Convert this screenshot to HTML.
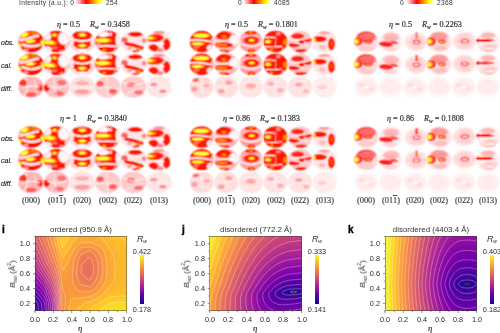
<!DOCTYPE html><html><head><meta charset="utf-8"><style>
html,body{margin:0;padding:0;background:#fff;width:500px;height:333px;overflow:hidden;position:relative}
.t{position:absolute;white-space:nowrap;line-height:normal;will-change:transform}
.s{font-family:"Liberation Sans", sans-serif}
.r{font-family:"Liberation Serif", serif;-webkit-text-stroke:0.2px currentColor}
</style></head><body>
<div style="position:absolute;left:76.2px;top:0;width:26.4px;height:4.3px;background:linear-gradient(to right, #fff0f0 0%, #ff8080 18%, #ff0000 38%, #ff6000 55%, #ffc000 72%, #ffff00 86%, #ffffc0 100%);filter:blur(0.5px)"></div>
<div style="position:absolute;left:243.8px;top:0;width:26.4px;height:4.3px;background:linear-gradient(to right, #fff0f0 0%, #ff8080 18%, #ff0000 38%, #ff6000 55%, #ffc000 72%, #ffff00 86%, #ffffc0 100%);filter:blur(0.5px)"></div>
<div style="position:absolute;left:406.8px;top:0;width:26.4px;height:4.3px;background:linear-gradient(to right, #fff0f0 0%, #ff8080 18%, #ff0000 38%, #ff6000 55%, #ffc000 72%, #ffff00 86%, #ffffc0 100%);filter:blur(0.5px)"></div>
<div class="t s" style="left:18.7px;top:-1.2px;font-size:6.6px;color:#333;letter-spacing:0.32px">Intensity (a.u.): 0</div>
<div class="t s" style="left:106.2px;top:-1.2px;font-size:6.6px;color:#333;letter-spacing:0.32px">254</div>
<div class="t s" style="left:237.6px;top:-1.2px;font-size:6.6px;color:#333;">0</div>
<div class="t s" style="left:274.4px;top:-1.2px;font-size:6.6px;color:#333;letter-spacing:0.32px">4085</div>
<div class="t s" style="left:400.0px;top:-1.2px;font-size:6.6px;color:#333;">0</div>
<div class="t s" style="left:437.4px;top:-1.2px;font-size:6.6px;color:#333;letter-spacing:0.32px">2368</div>
<svg width="500" height="333" style="position:absolute;left:0;top:0"><defs><clipPath id="dclip"><ellipse cx="50" cy="50" rx="50" ry="50"/></clipPath><radialGradient id="c0"><stop offset="0" stop-color="#ff8c00"/><stop offset="0.72" stop-color="#ff8c00"/><stop offset="1" stop-color="#ff8c00" stop-opacity="0"/></radialGradient><radialGradient id="c1"><stop offset="0" stop-color="#ffff40"/><stop offset="0.72" stop-color="#ffff40"/><stop offset="1" stop-color="#ffff40" stop-opacity="0"/></radialGradient><radialGradient id="c2"><stop offset="0" stop-color="#ffd0d0"/><stop offset="0.72" stop-color="#ffd0d0"/><stop offset="1" stop-color="#ffd0d0" stop-opacity="0"/></radialGradient><radialGradient id="c3"><stop offset="0" stop-color="#fff6f6"/><stop offset="0.72" stop-color="#fff6f6"/><stop offset="1" stop-color="#fff6f6" stop-opacity="0"/></radialGradient><radialGradient id="c4"><stop offset="0" stop-color="#ff9090"/><stop offset="0.72" stop-color="#ff9090"/><stop offset="1" stop-color="#ff9090" stop-opacity="0"/></radialGradient><radialGradient id="c5"><stop offset="0" stop-color="#ff8080"/><stop offset="0.72" stop-color="#ff8080"/><stop offset="1" stop-color="#ff8080" stop-opacity="0"/></radialGradient><radialGradient id="c6"><stop offset="0" stop-color="#ffdede"/><stop offset="0.72" stop-color="#ffdede"/><stop offset="1" stop-color="#ffdede" stop-opacity="0"/></radialGradient><radialGradient id="c7"><stop offset="0" stop-color="#ffe0e0"/><stop offset="0.72" stop-color="#ffe0e0"/><stop offset="1" stop-color="#ffe0e0" stop-opacity="0"/></radialGradient><radialGradient id="c8"><stop offset="0" stop-color="#ffc0c0"/><stop offset="0.72" stop-color="#ffc0c0"/><stop offset="1" stop-color="#ffc0c0" stop-opacity="0"/></radialGradient><radialGradient id="c9"><stop offset="0" stop-color="#ff1400"/><stop offset="0.72" stop-color="#ff1400"/><stop offset="1" stop-color="#ff1400" stop-opacity="0"/></radialGradient><radialGradient id="c10"><stop offset="0" stop-color="#ff6060"/><stop offset="0.72" stop-color="#ff6060"/><stop offset="1" stop-color="#ff6060" stop-opacity="0"/></radialGradient><radialGradient id="c11"><stop offset="0" stop-color="#ff7070"/><stop offset="0.72" stop-color="#ff7070"/><stop offset="1" stop-color="#ff7070" stop-opacity="0"/></radialGradient><radialGradient id="c12"><stop offset="0" stop-color="#ff5a00"/><stop offset="0.72" stop-color="#ff5a00"/><stop offset="1" stop-color="#ff5a00" stop-opacity="0"/></radialGradient><radialGradient id="c13"><stop offset="0" stop-color="#ffb0b0"/><stop offset="0.72" stop-color="#ffb0b0"/><stop offset="1" stop-color="#ffb0b0" stop-opacity="0"/></radialGradient><radialGradient id="c14"><stop offset="0" stop-color="#ff3030"/><stop offset="0.72" stop-color="#ff3030"/><stop offset="1" stop-color="#ff3030" stop-opacity="0"/></radialGradient><radialGradient id="c15"><stop offset="0" stop-color="#ff2a2a"/><stop offset="0.72" stop-color="#ff2a2a"/><stop offset="1" stop-color="#ff2a2a" stop-opacity="0"/></radialGradient><radialGradient id="c16"><stop offset="0" stop-color="#ffc4c4"/><stop offset="0.72" stop-color="#ffc4c4"/><stop offset="1" stop-color="#ffc4c4" stop-opacity="0"/></radialGradient><radialGradient id="c17"><stop offset="0" stop-color="#ffa0a0"/><stop offset="0.72" stop-color="#ffa0a0"/><stop offset="1" stop-color="#ffa0a0" stop-opacity="0"/></radialGradient><radialGradient id="c18"><stop offset="0" stop-color="#ff2020"/><stop offset="0.72" stop-color="#ff2020"/><stop offset="1" stop-color="#ff2020" stop-opacity="0"/></radialGradient><radialGradient id="c19"><stop offset="0" stop-color="#ff5050"/><stop offset="0.72" stop-color="#ff5050"/><stop offset="1" stop-color="#ff5050" stop-opacity="0"/></radialGradient><radialGradient id="c20"><stop offset="0" stop-color="#ff4040"/><stop offset="0.72" stop-color="#ff4040"/><stop offset="1" stop-color="#ff4040" stop-opacity="0"/></radialGradient><radialGradient id="c21"><stop offset="0" stop-color="#ff6a6a"/><stop offset="0.72" stop-color="#ff6a6a"/><stop offset="1" stop-color="#ff6a6a" stop-opacity="0"/></radialGradient><radialGradient id="c22"><stop offset="0" stop-color="#ffb8b8"/><stop offset="0.72" stop-color="#ffb8b8"/><stop offset="1" stop-color="#ffb8b8" stop-opacity="0"/></radialGradient><radialGradient id="c23"><stop offset="0" stop-color="#ff5a5a"/><stop offset="0.72" stop-color="#ff5a5a"/><stop offset="1" stop-color="#ff5a5a" stop-opacity="0"/></radialGradient><radialGradient id="c24"><stop offset="0" stop-color="#ffc8c8"/><stop offset="0.72" stop-color="#ffc8c8"/><stop offset="1" stop-color="#ffc8c8" stop-opacity="0"/></radialGradient><radialGradient id="c25"><stop offset="0" stop-color="#ffa4a4"/><stop offset="0.72" stop-color="#ffa4a4"/><stop offset="1" stop-color="#ffa4a4" stop-opacity="0"/></radialGradient><radialGradient id="c26"><stop offset="0" stop-color="#ffd4d4"/><stop offset="0.72" stop-color="#ffd4d4"/><stop offset="1" stop-color="#ffd4d4" stop-opacity="0"/></radialGradient><radialGradient id="c27"><stop offset="0" stop-color="#ff9a9a"/><stop offset="0.72" stop-color="#ff9a9a"/><stop offset="1" stop-color="#ff9a9a" stop-opacity="0"/></radialGradient><radialGradient id="c28"><stop offset="0" stop-color="#ffa8a8"/><stop offset="0.72" stop-color="#ffa8a8"/><stop offset="1" stop-color="#ffa8a8" stop-opacity="0"/></radialGradient><radialGradient id="c29"><stop offset="0" stop-color="#ffaaaa"/><stop offset="0.72" stop-color="#ffaaaa"/><stop offset="1" stop-color="#ffaaaa" stop-opacity="0"/></radialGradient><radialGradient id="c30"><stop offset="0" stop-color="#ffb4b4"/><stop offset="0.72" stop-color="#ffb4b4"/><stop offset="1" stop-color="#ffb4b4" stop-opacity="0"/></radialGradient><symbol id="g1c1" viewBox="0 0 100 100" preserveAspectRatio="none"><g clip-path="url(#dclip)"><rect x="0" y="0" width="100" height="100" fill="#ff1000"/><ellipse cx="26" cy="18" rx="24.5" ry="16.5" fill="url(#c0)" transform="rotate(-25 26 18)"/><ellipse cx="24" cy="18" rx="16.5" ry="10.5" fill="url(#c1)" transform="rotate(-25 24 18)"/><ellipse cx="65" cy="10" rx="22.5" ry="10.5" fill="url(#c0)" opacity="0.8"/><ellipse cx="8" cy="40" rx="12.5" ry="12.5" fill="url(#c2)" opacity="0.9"/><path d="M 14 42 Q 35 38 50 32 T 76 24" fill="none" stroke="#ffe4e4" stroke-linecap="round" stroke-width="13" stroke-opacity="1"/><ellipse cx="48" cy="48" rx="26.5" ry="11.5" fill="url(#c0)" transform="rotate(-5 48 48)"/><ellipse cx="47" cy="48" rx="19.5" ry="8.5" fill="url(#c1)" transform="rotate(-5 47 48)"/><path d="M 18 64 Q 50 80 84 65" fill="none" stroke="#ffe4e4" stroke-linecap="round" stroke-width="13" stroke-opacity="1"/><ellipse cx="5" cy="70" rx="12.5" ry="16.5" fill="url(#c0)"/><ellipse cx="3" cy="70" rx="8.5" ry="11.5" fill="url(#c1)"/><ellipse cx="95" cy="56" rx="11.5" ry="20.5" fill="url(#c0)"/><ellipse cx="97" cy="56" rx="8.5" ry="14.5" fill="url(#c1)"/><ellipse cx="30" cy="88" rx="12.5" ry="7.5" fill="url(#c3)" opacity="0.6"/></g></symbol><symbol id="g1c2" viewBox="0 0 100 100" preserveAspectRatio="none"><g clip-path="url(#dclip)"><rect x="0" y="0" width="100" height="100" fill="#ff1400"/><ellipse cx="80" cy="34" rx="28.5" ry="36.5" fill="url(#c3)"/><ellipse cx="12" cy="26" rx="20.5" ry="24.5" fill="url(#c3)" opacity="0.95"/><ellipse cx="42" cy="20" rx="14.5" ry="10.5" fill="url(#c0)"/><ellipse cx="42" cy="19" rx="8.5" ry="6.5" fill="url(#c1)"/><ellipse cx="24" cy="55" rx="32.5" ry="14.5" fill="url(#c0)" transform="rotate(6 24 55)"/><ellipse cx="20" cy="54" rx="26.5" ry="9.5" fill="url(#c1)" transform="rotate(6 20 54)"/><ellipse cx="14" cy="86" rx="20.5" ry="16.5" fill="url(#c3)" opacity="0.9"/><ellipse cx="94" cy="76" rx="12.5" ry="18.5" fill="url(#c3)" opacity="0.85"/><ellipse cx="40" cy="79" rx="16.5" ry="6.5" fill="url(#c4)" opacity="0.8"/><ellipse cx="72" cy="94" rx="14.5" ry="8.5" fill="url(#c5)"/></g></symbol><symbol id="g1c3" viewBox="0 0 100 100" preserveAspectRatio="none"><g clip-path="url(#dclip)"><rect x="0" y="0" width="100" height="100" fill="#ff1400"/><ellipse cx="2" cy="50" rx="18.5" ry="42.5" fill="url(#c6)"/><ellipse cx="98" cy="50" rx="18.5" ry="42.5" fill="url(#c6)"/><ellipse cx="50" cy="1" rx="36.5" ry="8.5" fill="url(#c4)"/><ellipse cx="50" cy="20" rx="22.5" ry="10.5" fill="url(#c0)"/><ellipse cx="50" cy="19" rx="14.5" ry="7.5" fill="url(#c1)"/><path d="M 8 37 Q 50 58 92 37" fill="none" stroke="#fff6f6" stroke-linecap="round" stroke-width="9" stroke-opacity="1"/><ellipse cx="50" cy="69" rx="22.5" ry="10.5" fill="url(#c0)"/><ellipse cx="50" cy="69" rx="15.5" ry="7.5" fill="url(#c1)"/><ellipse cx="50" cy="93" rx="42.5" ry="11.5" fill="url(#c3)"/><ellipse cx="14" cy="82" rx="16.5" ry="12.5" fill="url(#c7)"/><ellipse cx="86" cy="82" rx="16.5" ry="12.5" fill="url(#c7)"/></g></symbol><symbol id="g1c4" viewBox="0 0 100 100" preserveAspectRatio="none"><g clip-path="url(#dclip)"><rect x="0" y="0" width="100" height="100" fill="#ff1400"/><ellipse cx="32" cy="16" rx="28.5" ry="14.5" fill="url(#c3)"/><ellipse cx="91" cy="42" rx="12.5" ry="34.5" fill="url(#c3)"/><ellipse cx="60" cy="16" rx="7.5" ry="10.5" fill="url(#c8)"/><path d="M 3 72 Q 50 66 97 74" fill="none" stroke="#fff6f6" stroke-linecap="round" stroke-width="8" stroke-opacity="1"/><ellipse cx="32" cy="45" rx="40.5" ry="13.5" fill="url(#c0)"/><ellipse cx="28" cy="44" rx="32.5" ry="9.5" fill="url(#c1)"/><ellipse cx="12" cy="62" rx="12.5" ry="6.5" fill="url(#c4)"/><ellipse cx="36" cy="90" rx="9.5" ry="7.5" fill="url(#c0)"/><ellipse cx="86" cy="90" rx="14.5" ry="12.5" fill="url(#c4)"/><ellipse cx="8" cy="88" rx="10.5" ry="12.5" fill="url(#c3)" opacity="0.8"/></g></symbol><symbol id="g1c5" viewBox="0 0 100 100" preserveAspectRatio="none"><g clip-path="url(#dclip)"><rect x="0" y="0" width="100" height="100" fill="#ffe6e6"/><ellipse cx="58" cy="16" rx="32.5" ry="13.5" fill="url(#c9)"/><ellipse cx="15" cy="42" rx="14.5" ry="14.5" fill="url(#c10)"/><path d="M 22 60 Q 50 64 84 80" fill="none" stroke="#ff1400" stroke-linecap="round" stroke-width="16" stroke-opacity="1"/><ellipse cx="70" cy="84" rx="10.5" ry="8.5" fill="url(#c0)"/><ellipse cx="62" cy="95" rx="18.5" ry="8.5" fill="url(#c9)" opacity="0.8"/><ellipse cx="92" cy="45" rx="10.5" ry="12.5" fill="url(#c5)"/><ellipse cx="35" cy="80" rx="12.5" ry="8.5" fill="url(#c4)" opacity="0.8"/></g></symbol><symbol id="g1c6" viewBox="0 0 100 100" preserveAspectRatio="none"><g clip-path="url(#dclip)"><rect x="0" y="0" width="100" height="100" fill="#ffe6e6"/><ellipse cx="35" cy="34" rx="38.5" ry="20.5" fill="url(#c9)" transform="rotate(-5 35 34)"/><ellipse cx="20" cy="34" rx="22.5" ry="9.5" fill="url(#c0)" transform="rotate(-5 20 34)"/><ellipse cx="12" cy="33" rx="16.5" ry="7.5" fill="url(#c1)"/><ellipse cx="50" cy="8" rx="26.5" ry="9.5" fill="url(#c5)" opacity="0.8"/><ellipse cx="80" cy="64" rx="16.5" ry="32.5" fill="url(#c9)"/><path d="M 30 56 L 68 60" fill="none" stroke="#fff6f6" stroke-linecap="round" stroke-width="7" stroke-opacity="1"/><ellipse cx="28" cy="80" rx="22.5" ry="20.5" fill="url(#c9)"/><ellipse cx="55" cy="90" rx="14.5" ry="10.5" fill="url(#c11)" opacity="0.8"/></g></symbol><symbol id="g2c1" viewBox="0 0 100 100" preserveAspectRatio="none"><g clip-path="url(#dclip)"><rect x="0" y="0" width="100" height="100" fill="#ff1800"/><ellipse cx="50" cy="22" rx="42.5" ry="13.5" fill="url(#c0)"/><ellipse cx="48" cy="22" rx="36.5" ry="10.5" fill="url(#c1)"/><path d="M 2 44 Q 40 38 86 50" fill="none" stroke="#fff6f6" stroke-linecap="round" stroke-width="8" stroke-opacity="1"/><ellipse cx="35" cy="60" rx="34.5" ry="10.5" fill="url(#c0)"/><ellipse cx="32" cy="60" rx="26.5" ry="7.5" fill="url(#c1)"/><ellipse cx="28" cy="76" rx="16.5" ry="6.5" fill="url(#c4)" opacity="0.8"/><ellipse cx="22" cy="89" rx="11.5" ry="7.5" fill="url(#c0)"/><ellipse cx="86" cy="80" rx="18.5" ry="18.5" fill="url(#c3)" opacity="0.9"/><ellipse cx="95" cy="48" rx="8.5" ry="18.5" fill="url(#c3)" opacity="0.7"/></g></symbol><symbol id="g2c2" viewBox="0 0 100 100" preserveAspectRatio="none"><g clip-path="url(#dclip)"><rect x="0" y="0" width="100" height="100" fill="#ffb0b0"/><ellipse cx="38" cy="22" rx="38.5" ry="22.5" fill="url(#c9)"/><ellipse cx="40" cy="28" rx="12.5" ry="8.5" fill="url(#c0)"/><ellipse cx="80" cy="45" rx="22.5" ry="28.5" fill="url(#c3)"/><path d="M 2 47 L 55 47" fill="none" stroke="#fff6f6" stroke-linecap="round" stroke-width="6" stroke-opacity="1"/><ellipse cx="40" cy="66" rx="44.5" ry="14.5" fill="url(#c9)"/><ellipse cx="30" cy="66" rx="28.5" ry="7.5" fill="url(#c0)"/><path d="M 10 82 L 68 80" fill="none" stroke="#fff6f6" stroke-linecap="round" stroke-width="4" stroke-opacity="0.8"/><ellipse cx="40" cy="95" rx="26.5" ry="10.5" fill="url(#c9)"/><ellipse cx="38" cy="94" rx="10.5" ry="6.5" fill="url(#c0)"/></g></symbol><symbol id="g2c3" viewBox="0 0 100 100" preserveAspectRatio="none"><g clip-path="url(#dclip)"><rect x="0" y="0" width="100" height="100" fill="#ff9c9c"/><ellipse cx="50" cy="9" rx="28.5" ry="10.5" fill="url(#c9)"/><ellipse cx="50" cy="8" rx="10.5" ry="6.5" fill="url(#c0)"/><path d="M 12 30 Q 50 18 88 30" fill="none" stroke="#ffd0d0" stroke-linecap="round" stroke-width="6" stroke-opacity="1"/><ellipse cx="52" cy="44" rx="36.5" ry="21.5" fill="url(#c9)"/><ellipse cx="53" cy="44" rx="17.5" ry="9.5" fill="url(#c0)"/><ellipse cx="53" cy="44" rx="11.5" ry="6.5" fill="url(#c1)"/><path d="M 10 62 Q 50 82 90 62" fill="none" stroke="#fff6f6" stroke-linecap="round" stroke-width="7" stroke-opacity="1"/><ellipse cx="52" cy="93" rx="18.5" ry="11.5" fill="url(#c9)"/><ellipse cx="52" cy="94" rx="8.5" ry="6.5" fill="url(#c0)"/><ellipse cx="4" cy="50" rx="8.5" ry="27.5" fill="url(#c3)" opacity="0.6"/><ellipse cx="96" cy="50" rx="8.5" ry="27.5" fill="url(#c3)" opacity="0.6"/></g></symbol><symbol id="g2c4" viewBox="0 0 100 100" preserveAspectRatio="none"><g clip-path="url(#dclip)"><rect x="0" y="0" width="100" height="100" fill="#ff1800"/><ellipse cx="62" cy="14" rx="11.5" ry="8.5" fill="url(#c4)"/><path d="M 4 32 Q 25 27 46 32" fill="none" stroke="#fff6f6" stroke-linecap="round" stroke-width="6" stroke-opacity="1"/><ellipse cx="20" cy="50" rx="17.5" ry="11.5" fill="url(#c0)"/><ellipse cx="18" cy="50" rx="11.5" ry="7.5" fill="url(#c1)"/><path d="M 52 25 L 50 75" fill="none" stroke="#fff6f6" stroke-linecap="round" stroke-width="3.5" stroke-opacity="0.7"/><ellipse cx="92" cy="52" rx="12.5" ry="15.5" fill="url(#c0)"/><path d="M 10 73 Q 40 78 76 72" fill="none" stroke="#fff6f6" stroke-linecap="round" stroke-width="5" stroke-opacity="1"/><ellipse cx="34" cy="89" rx="9.5" ry="6.5" fill="url(#c0)"/><ellipse cx="86" cy="88" rx="12.5" ry="11.5" fill="url(#c3)" opacity="0.6"/></g></symbol><symbol id="g2c5" viewBox="0 0 100 100" preserveAspectRatio="none"><g clip-path="url(#dclip)"><rect x="0" y="0" width="100" height="100" fill="#ffc8c8"/><ellipse cx="40" cy="25" rx="30.5" ry="15.5" fill="url(#c9)" opacity="0.9"/><ellipse cx="56" cy="50" rx="13.5" ry="13.5" fill="url(#c9)"/><ellipse cx="25" cy="66" rx="26.5" ry="12.5" fill="url(#c9)"/><ellipse cx="82" cy="42" rx="18.5" ry="13.5" fill="url(#c9)" opacity="0.9"/><ellipse cx="55" cy="93" rx="30.5" ry="10.5" fill="url(#c9)" opacity="0.9"/><path d="M 10 40 Q 40 48 92 32" fill="none" stroke="#fff6f6" stroke-linecap="round" stroke-width="6" stroke-opacity="1"/><path d="M 18 55 Q 50 60 88 72" fill="none" stroke="#fff6f6" stroke-linecap="round" stroke-width="4" stroke-opacity="1"/></g></symbol><symbol id="g2c6" viewBox="0 0 100 100" preserveAspectRatio="none"><g clip-path="url(#dclip)"><rect x="0" y="0" width="100" height="100" fill="#ffe4e4"/><ellipse cx="28" cy="38" rx="34.5" ry="15.5" fill="url(#c9)"/><ellipse cx="6" cy="40" rx="10.5" ry="10.5" fill="url(#c0)"/><ellipse cx="3" cy="40" rx="7.5" ry="8.5" fill="url(#c1)"/><ellipse cx="78" cy="62" rx="16.5" ry="32.5" fill="url(#c9)"/><ellipse cx="78" cy="60" rx="7.5" ry="16.5" fill="url(#c12)" opacity="0.8"/><ellipse cx="48" cy="10" rx="26.5" ry="8.5" fill="url(#c4)" opacity="0.8"/><ellipse cx="40" cy="75" rx="16.5" ry="12.5" fill="url(#c13)" opacity="0.8"/></g></symbol><symbol id="g3c1" viewBox="0 0 100 100" preserveAspectRatio="none"><g clip-path="url(#dclip)"><rect x="0" y="0" width="100" height="100" fill="#ffdede"/><ellipse cx="50" cy="28" rx="46.5" ry="28.5" fill="url(#c14)" opacity="0.9"/><ellipse cx="55" cy="52" rx="22" ry="16" fill="none" stroke="#ffd0d0" stroke-width="3" stroke-opacity="1"/><ellipse cx="55" cy="52" rx="32" ry="26" fill="none" stroke="#ffc8c8" stroke-width="3" stroke-opacity="1"/><ellipse cx="55" cy="52" rx="42" ry="36" fill="none" stroke="#ffd0d0" stroke-width="3" stroke-opacity="1"/><ellipse cx="14" cy="50" rx="24.5" ry="20.5" fill="url(#c15)"/><ellipse cx="9" cy="50" rx="17.5" ry="14.5" fill="url(#c0)"/><ellipse cx="6" cy="50" rx="12.5" ry="11.5" fill="url(#c1)"/><ellipse cx="58" cy="50" rx="16" ry="7" fill="none" stroke="#ff1400" stroke-width="5" stroke-opacity="1"/><ellipse cx="56" cy="50" rx="8.5" ry="5.5" fill="url(#c0)"/><ellipse cx="50" cy="82" rx="36.5" ry="15.5" fill="url(#c16)" opacity="0.7"/></g></symbol><symbol id="g3c2" viewBox="0 0 100 100" preserveAspectRatio="none"><g clip-path="url(#dclip)"><rect x="0" y="0" width="100" height="100" fill="#fff0f0"/><ellipse cx="52" cy="30" rx="38.5" ry="24.5" fill="url(#c17)" opacity="0.8"/><ellipse cx="50" cy="40" rx="26" ry="20" fill="none" stroke="#ffdcdc" stroke-width="3" stroke-opacity="1"/><ellipse cx="50" cy="40" rx="38" ry="30" fill="none" stroke="#ffe0e0" stroke-width="3" stroke-opacity="1"/><ellipse cx="30" cy="62" rx="34.5" ry="14.5" fill="url(#c18)" transform="rotate(5 30 62)"/><ellipse cx="65" cy="55" rx="20.5" ry="8.5" fill="url(#c19)" transform="rotate(10 65 55)"/><ellipse cx="50" cy="85" rx="32.5" ry="12.5" fill="url(#c2)" opacity="0.8"/></g></symbol><symbol id="g3c3" viewBox="0 0 100 100" preserveAspectRatio="none"><g clip-path="url(#dclip)"><rect x="0" y="0" width="100" height="100" fill="#fff8f8"/><ellipse cx="57" cy="52" rx="22" ry="12" fill="none" stroke="#ff7a7a" stroke-width="3" stroke-opacity="1"/><ellipse cx="57" cy="52" rx="30" ry="20" fill="none" stroke="#ff8a8a" stroke-width="3" stroke-opacity="1"/><ellipse cx="57" cy="52" rx="38" ry="28" fill="none" stroke="#ff9c9c" stroke-width="3" stroke-opacity="1"/><ellipse cx="57" cy="52" rx="46" ry="36" fill="none" stroke="#ffb4b4" stroke-width="3" stroke-opacity="1"/><ellipse cx="57" cy="52" rx="14" ry="6.5" fill="none" stroke="#ff1a1a" stroke-width="5" stroke-opacity="1"/><ellipse cx="57" cy="12" rx="7.5" ry="5.5" fill="url(#c14)"/><ellipse cx="57" cy="22" rx="7.5" ry="5" fill="url(#c20)"/><ellipse cx="57" cy="31" rx="9.5" ry="5.5" fill="url(#c20)"/></g></symbol><symbol id="g3c4" viewBox="0 0 100 100" preserveAspectRatio="none"><g clip-path="url(#dclip)"><rect x="0" y="0" width="100" height="100" fill="#ffe6e6"/><ellipse cx="50" cy="26" rx="40.5" ry="22.5" fill="url(#c21)" opacity="0.8"/><ellipse cx="55" cy="50" rx="24" ry="16" fill="none" stroke="#ffd0d0" stroke-width="3" stroke-opacity="1"/><ellipse cx="55" cy="50" rx="34" ry="26" fill="none" stroke="#ffc4c4" stroke-width="3" stroke-opacity="1"/><ellipse cx="55" cy="50" rx="44" ry="36" fill="none" stroke="#ffd0d0" stroke-width="3" stroke-opacity="1"/><ellipse cx="13" cy="50" rx="26.5" ry="22.5" fill="url(#c15)"/><ellipse cx="9" cy="50" rx="17.5" ry="15.5" fill="url(#c0)"/><ellipse cx="6" cy="50" rx="12.5" ry="11.5" fill="url(#c1)"/><ellipse cx="62" cy="50" rx="15" ry="7" fill="none" stroke="#ff1400" stroke-width="5" stroke-opacity="1"/><ellipse cx="63" cy="50" rx="8.5" ry="5.5" fill="url(#c0)"/><ellipse cx="55" cy="80" rx="32.5" ry="14.5" fill="url(#c13)" opacity="0.7"/></g></symbol><symbol id="g3c5" viewBox="0 0 100 100" preserveAspectRatio="none"><g clip-path="url(#dclip)"><rect x="0" y="0" width="100" height="100" fill="#fff6f6"/><ellipse cx="55" cy="48" rx="23" ry="13" fill="none" stroke="#ff7a7a" stroke-width="3" stroke-opacity="1"/><ellipse cx="55" cy="48" rx="31" ry="21" fill="none" stroke="#ff8c8c" stroke-width="3" stroke-opacity="1"/><ellipse cx="55" cy="48" rx="39" ry="29" fill="none" stroke="#ffa0a0" stroke-width="3" stroke-opacity="1"/><ellipse cx="55" cy="48" rx="47" ry="37" fill="none" stroke="#ffb8b8" stroke-width="3" stroke-opacity="1"/><ellipse cx="55" cy="48" rx="15" ry="6.5" fill="none" stroke="#ff1010" stroke-width="5" stroke-opacity="1"/></g></symbol><symbol id="g3c6" viewBox="0 0 100 100" preserveAspectRatio="none"><g clip-path="url(#dclip)"><rect x="0" y="0" width="100" height="100" fill="#fff0f0"/><ellipse cx="50" cy="22" rx="34.5" ry="16.5" fill="url(#c22)"/><ellipse cx="38" cy="44" rx="42.5" ry="8.5" fill="url(#c9)" opacity="0.95"/><ellipse cx="8" cy="44" rx="12.5" ry="9.5" fill="url(#c9)"/><ellipse cx="60" cy="82" rx="22" ry="9" fill="none" stroke="#ff8a8a" stroke-width="3" stroke-opacity="1"/><ellipse cx="60" cy="82" rx="32" ry="15" fill="none" stroke="#ffa0a0" stroke-width="3" stroke-opacity="1"/><ellipse cx="60" cy="82" rx="42" ry="21" fill="none" stroke="#ffb8b8" stroke-width="3" stroke-opacity="1"/></g></symbol><symbol id="d1" viewBox="0 0 100 100" preserveAspectRatio="none"><g clip-path="url(#dclip)"><rect x="0" y="0" width="100" height="100" fill="#ffb4b4"/><ellipse cx="20" cy="30" rx="20.5" ry="16.5" fill="url(#c9)" opacity="0.8"/><ellipse cx="85" cy="55" rx="12.5" ry="18.5" fill="url(#c9)"/><ellipse cx="50" cy="85" rx="24.5" ry="12.5" fill="url(#c23)"/><path d="M 15 55 Q 50 40 85 50" fill="none" stroke="#fff6f6" stroke-linecap="round" stroke-width="5" stroke-opacity="1"/><path d="M 30 10 Q 45 50 25 90" fill="none" stroke="#fff6f6" stroke-linecap="round" stroke-width="4" stroke-opacity="1"/><path d="M 60 15 Q 70 50 90 80" fill="none" stroke="#fff6f6" stroke-linecap="round" stroke-width="3" stroke-opacity="1"/></g></symbol><symbol id="d1b" viewBox="0 0 100 100" preserveAspectRatio="none"><g clip-path="url(#dclip)"><rect x="0" y="0" width="100" height="100" fill="#ffc0c0"/><ellipse cx="10" cy="55" rx="14.5" ry="18.5" fill="url(#c9)"/><ellipse cx="70" cy="30" rx="20.5" ry="14.5" fill="url(#c23)" opacity="0.8"/><ellipse cx="60" cy="80" rx="22.5" ry="12.5" fill="url(#c23)" opacity="0.8"/><path d="M 15 45 Q 50 60 90 45" fill="none" stroke="#fff6f6" stroke-linecap="round" stroke-width="5" stroke-opacity="1"/><path d="M 40 10 Q 35 50 50 90" fill="none" stroke="#fff6f6" stroke-linecap="round" stroke-width="3" stroke-opacity="1"/></g></symbol><symbol id="d1c" viewBox="0 0 100 100" preserveAspectRatio="none"><g clip-path="url(#dclip)"><rect x="0" y="0" width="100" height="100" fill="#ffe0e0"/><ellipse cx="50" cy="30" rx="30.5" ry="12.5" fill="url(#c4)" opacity="0.8"/><ellipse cx="50" cy="72" rx="34.5" ry="14.5" fill="url(#c4)" opacity="0.8"/><path d="M 10 50 Q 50 65 90 50" fill="none" stroke="#fff6f6" stroke-linecap="round" stroke-width="5" stroke-opacity="1"/><path d="M 20 20 Q 50 35 80 20" fill="none" stroke="#fff6f6" stroke-linecap="round" stroke-width="3" stroke-opacity="1"/></g></symbol><symbol id="d2" viewBox="0 0 100 100" preserveAspectRatio="none"><g clip-path="url(#dclip)"><rect x="0" y="0" width="100" height="100" fill="#fff0f0"/><ellipse cx="25" cy="25" rx="17.5" ry="12.5" fill="url(#c8)" opacity="0.7"/><ellipse cx="70" cy="65" rx="16.5" ry="12.5" fill="url(#c24)" opacity="0.6"/><path d="M 10 50 Q 50 40 90 55" fill="none" stroke="#fff6f6" stroke-linecap="round" stroke-width="4" stroke-opacity="0.9"/><ellipse cx="60" cy="20" rx="14.5" ry="10.5" fill="url(#c2)" opacity="0.7"/></g></symbol><symbol id="d2b" viewBox="0 0 100 100" preserveAspectRatio="none"><g clip-path="url(#dclip)"><rect x="0" y="0" width="100" height="100" fill="#ffdede"/><ellipse cx="60" cy="30" rx="18.5" ry="12.5" fill="url(#c25)"/><ellipse cx="30" cy="70" rx="16.5" ry="12.5" fill="url(#c17)"/><path d="M 5 45 Q 50 55 95 40" fill="none" stroke="#fff6f6" stroke-linecap="round" stroke-width="4" stroke-opacity="1"/><path d="M 30 10 Q 60 50 40 95" fill="none" stroke="#fff6f6" stroke-linecap="round" stroke-width="3" stroke-opacity="1"/></g></symbol><symbol id="d3" viewBox="0 0 100 100" preserveAspectRatio="none"><g clip-path="url(#dclip)"><rect x="0" y="0" width="100" height="100" fill="#fff6f6"/><ellipse cx="50" cy="50" rx="20" ry="12" fill="none" stroke="#ffcaca" stroke-width="3" stroke-opacity="1"/><ellipse cx="50" cy="50" rx="30" ry="22" fill="none" stroke="#ffd0d0" stroke-width="3" stroke-opacity="1"/><ellipse cx="50" cy="50" rx="40" ry="32" fill="none" stroke="#ffd6d6" stroke-width="3" stroke-opacity="1"/><ellipse cx="30" cy="40" rx="14.5" ry="10.5" fill="url(#c26)" opacity="0.7"/><ellipse cx="70" cy="60" rx="14.5" ry="10.5" fill="url(#c26)" opacity="0.7"/></g></symbol><symbol id="d3b" viewBox="0 0 100 100" preserveAspectRatio="none"><g clip-path="url(#dclip)"><rect x="0" y="0" width="100" height="100" fill="#fff6f6"/><ellipse cx="50" cy="50" rx="16" ry="9" fill="none" stroke="#ffcaca" stroke-width="3" stroke-opacity="1"/><ellipse cx="50" cy="50" rx="27" ry="19" fill="none" stroke="#ffd0d0" stroke-width="3" stroke-opacity="1"/><ellipse cx="50" cy="50" rx="38" ry="30" fill="none" stroke="#ffd6d6" stroke-width="3" stroke-opacity="1"/></g></symbol><symbol id="d1d" viewBox="0 0 100 100" preserveAspectRatio="none"><g clip-path="url(#dclip)"><rect x="0" y="0" width="100" height="100" fill="#ffcaca"/><ellipse cx="20" cy="35" rx="16.5" ry="14.5" fill="url(#c23)"/><ellipse cx="70" cy="70" rx="17.5" ry="14.5" fill="url(#c23)"/><path d="M 45 5 L 50 95" fill="none" stroke="#fff6f6" stroke-linecap="round" stroke-width="3" stroke-opacity="1"/><path d="M 5 55 Q 50 50 95 58" fill="none" stroke="#fff6f6" stroke-linecap="round" stroke-width="4" stroke-opacity="1"/></g></symbol><symbol id="d1e" viewBox="0 0 100 100" preserveAspectRatio="none"><g clip-path="url(#dclip)"><rect x="0" y="0" width="100" height="100" fill="#ffcaca"/><ellipse cx="40" cy="40" rx="18.5" ry="12.5" fill="url(#c23)"/><ellipse cx="70" cy="75" rx="20.5" ry="12.5" fill="url(#c23)" opacity="0.8"/><path d="M 10 30 Q 50 55 90 30" fill="none" stroke="#fff6f6" stroke-linecap="round" stroke-width="4" stroke-opacity="1"/><path d="M 20 85 Q 50 60 85 55" fill="none" stroke="#fff6f6" stroke-linecap="round" stroke-width="3" stroke-opacity="1"/></g></symbol><symbol id="d1f" viewBox="0 0 100 100" preserveAspectRatio="none"><g clip-path="url(#dclip)"><rect x="0" y="0" width="100" height="100" fill="#ffe6e6"/><ellipse cx="30" cy="40" rx="16.5" ry="12.5" fill="url(#c4)"/><ellipse cx="65" cy="70" rx="16.5" ry="10.5" fill="url(#c4)"/><path d="M 10 50 Q 50 40 90 55" fill="none" stroke="#fff6f6" stroke-linecap="round" stroke-width="4" stroke-opacity="1"/></g></symbol><symbol id="d2a" viewBox="0 0 100 100" preserveAspectRatio="none"><g clip-path="url(#dclip)"><rect x="0" y="0" width="100" height="100" fill="#ffdada"/><ellipse cx="25" cy="18" rx="16.5" ry="10.5" fill="url(#c21)"/><ellipse cx="20" cy="60" rx="14.5" ry="14.5" fill="url(#c27)"/><ellipse cx="70" cy="40" rx="16.5" ry="12.5" fill="url(#c28)"/><path d="M 10 35 Q 50 45 90 30" fill="none" stroke="#fff6f6" stroke-linecap="round" stroke-width="4" stroke-opacity="1"/><path d="M 15 75 Q 50 60 85 80" fill="none" stroke="#fff6f6" stroke-linecap="round" stroke-width="4" stroke-opacity="1"/><path d="M 50 10 Q 45 50 55 90" fill="none" stroke="#fff6f6" stroke-linecap="round" stroke-width="3" stroke-opacity="1"/></g></symbol><symbol id="d2c" viewBox="0 0 100 100" preserveAspectRatio="none"><g clip-path="url(#dclip)"><rect x="0" y="0" width="100" height="100" fill="#ffe2e2"/><ellipse cx="50" cy="45" rx="24.5" ry="14.5" fill="url(#c29)"/><path d="M 10 30 Q 50 20 90 30" fill="none" stroke="#fff6f6" stroke-linecap="round" stroke-width="4" stroke-opacity="1"/><path d="M 10 70 Q 50 80 90 70" fill="none" stroke="#fff6f6" stroke-linecap="round" stroke-width="4" stroke-opacity="1"/></g></symbol><symbol id="d2d" viewBox="0 0 100 100" preserveAspectRatio="none"><g clip-path="url(#dclip)"><rect x="0" y="0" width="100" height="100" fill="#ffe2e2"/><ellipse cx="30" cy="35" rx="16.5" ry="12.5" fill="url(#c13)"/><ellipse cx="70" cy="65" rx="16.5" ry="12.5" fill="url(#c13)"/><path d="M 10 50 Q 50 45 90 50" fill="none" stroke="#fff6f6" stroke-linecap="round" stroke-width="4" stroke-opacity="1"/><path d="M 50 10 L 50 90" fill="none" stroke="#fff6f6" stroke-linecap="round" stroke-width="3" stroke-opacity="1"/></g></symbol><symbol id="d2e" viewBox="0 0 100 100" preserveAspectRatio="none"><g clip-path="url(#dclip)"><rect x="0" y="0" width="100" height="100" fill="#ffe2e2"/><ellipse cx="45" cy="40" rx="17.5" ry="12.5" fill="url(#c25)"/><ellipse cx="75" cy="70" rx="14.5" ry="10.5" fill="url(#c30)"/><path d="M 10 60 Q 50 40 90 55" fill="none" stroke="#fff6f6" stroke-linecap="round" stroke-width="4" stroke-opacity="1"/><path d="M 25 15 Q 50 30 80 15" fill="none" stroke="#fff6f6" stroke-linecap="round" stroke-width="3" stroke-opacity="1"/></g></symbol><symbol id="d2f" viewBox="0 0 100 100" preserveAspectRatio="none"><g clip-path="url(#dclip)"><rect x="0" y="0" width="100" height="100" fill="#ffecec"/><ellipse cx="40" cy="50" rx="22.5" ry="12.5" fill="url(#c16)"/><path d="M 10 40 Q 50 55 90 40" fill="none" stroke="#fff6f6" stroke-linecap="round" stroke-width="4" stroke-opacity="1"/></g></symbol></defs><filter id="gblur" filterUnits="userSpaceOnUse" x="0" y="0" width="500" height="333"><feConvolveMatrix order="3" kernelMatrix="1 2 1 2 4 2 1 2 1" divisor="16" edgeMode="none"/></filter><g filter="url(#gblur)"><use href="#g1c1" x="18.30" y="30.80" width="25.40" height="21.60"/><use href="#g1c2" x="43.90" y="30.80" width="25.40" height="21.60"/><use href="#g1c3" x="69.50" y="30.80" width="25.40" height="21.60"/><use href="#g1c4" x="95.10" y="30.80" width="25.40" height="21.60"/><use href="#g1c5" x="120.70" y="30.80" width="25.40" height="21.60"/><use href="#g1c6" x="146.30" y="30.80" width="25.40" height="21.60"/><use href="#g1c1" x="18.30" y="53.50" width="25.40" height="21.60"/><use href="#g1c2" x="43.90" y="53.50" width="25.40" height="21.60"/><use href="#g1c3" x="69.50" y="53.50" width="25.40" height="21.60"/><use href="#g1c4" x="95.10" y="53.50" width="25.40" height="21.60"/><use href="#g1c5" x="120.70" y="53.50" width="25.40" height="21.60"/><use href="#g1c6" x="146.30" y="53.50" width="25.40" height="21.60"/><use href="#d1" x="18.30" y="76.20" width="25.40" height="21.60"/><use href="#d1b" x="43.90" y="76.20" width="25.40" height="21.60"/><use href="#d1c" x="69.50" y="76.20" width="25.40" height="21.60"/><use href="#d1d" x="95.10" y="76.20" width="25.40" height="21.60"/><use href="#d1e" x="120.70" y="76.20" width="25.40" height="21.60"/><use href="#d1f" x="146.30" y="76.20" width="25.40" height="21.60"/><use href="#g1c1" x="18.30" y="126.20" width="25.40" height="21.60"/><use href="#g1c2" x="43.90" y="126.20" width="25.40" height="21.60"/><use href="#g1c3" x="69.50" y="126.20" width="25.40" height="21.60"/><use href="#g1c4" x="95.10" y="126.20" width="25.40" height="21.60"/><use href="#g1c5" x="120.70" y="126.20" width="25.40" height="21.60"/><use href="#g1c6" x="146.30" y="126.20" width="25.40" height="21.60"/><use href="#g1c1" x="18.30" y="148.90" width="25.40" height="21.60"/><use href="#g1c2" x="43.90" y="148.90" width="25.40" height="21.60"/><use href="#g1c3" x="69.50" y="148.90" width="25.40" height="21.60"/><use href="#g1c4" x="95.10" y="148.90" width="25.40" height="21.60"/><use href="#g1c5" x="120.70" y="148.90" width="25.40" height="21.60"/><use href="#g1c6" x="146.30" y="148.90" width="25.40" height="21.60"/><use href="#d1" x="18.30" y="171.60" width="25.40" height="21.60"/><use href="#d1b" x="43.90" y="171.60" width="25.40" height="21.60"/><use href="#d1c" x="69.50" y="171.60" width="25.40" height="21.60"/><use href="#d1d" x="95.10" y="171.60" width="25.40" height="21.60"/><use href="#d1e" x="120.70" y="171.60" width="25.40" height="21.60"/><use href="#d1f" x="146.30" y="171.60" width="25.40" height="21.60"/><use href="#g2c1" x="189.70" y="30.80" width="24.00" height="21.60"/><use href="#g2c2" x="214.30" y="30.80" width="24.00" height="21.60"/><use href="#g2c3" x="238.90" y="30.80" width="24.00" height="21.60"/><use href="#g2c4" x="263.50" y="30.80" width="24.00" height="21.60"/><use href="#g2c5" x="288.10" y="30.80" width="24.00" height="21.60"/><use href="#g2c6" x="312.70" y="30.80" width="24.00" height="21.60"/><use href="#g2c1" x="189.70" y="53.50" width="24.00" height="21.60"/><use href="#g2c2" x="214.30" y="53.50" width="24.00" height="21.60"/><use href="#g2c3" x="238.90" y="53.50" width="24.00" height="21.60"/><use href="#g2c4" x="263.50" y="53.50" width="24.00" height="21.60"/><use href="#g2c5" x="288.10" y="53.50" width="24.00" height="21.60"/><use href="#g2c6" x="312.70" y="53.50" width="24.00" height="21.60"/><use href="#d2a" x="189.70" y="76.20" width="24.00" height="21.60"/><use href="#d2b" x="214.30" y="76.20" width="24.00" height="21.60"/><use href="#d2c" x="238.90" y="76.20" width="24.00" height="21.60"/><use href="#d2d" x="263.50" y="76.20" width="24.00" height="21.60"/><use href="#d2e" x="288.10" y="76.20" width="24.00" height="21.60"/><use href="#d2f" x="312.70" y="76.20" width="24.00" height="21.60"/><use href="#g2c1" x="189.70" y="126.20" width="24.00" height="21.60"/><use href="#g2c2" x="214.30" y="126.20" width="24.00" height="21.60"/><use href="#g2c3" x="238.90" y="126.20" width="24.00" height="21.60"/><use href="#g2c4" x="263.50" y="126.20" width="24.00" height="21.60"/><use href="#g2c5" x="288.10" y="126.20" width="24.00" height="21.60"/><use href="#g2c6" x="312.70" y="126.20" width="24.00" height="21.60"/><use href="#g2c1" x="189.70" y="148.90" width="24.00" height="21.60"/><use href="#g2c2" x="214.30" y="148.90" width="24.00" height="21.60"/><use href="#g2c3" x="238.90" y="148.90" width="24.00" height="21.60"/><use href="#g2c4" x="263.50" y="148.90" width="24.00" height="21.60"/><use href="#g2c5" x="288.10" y="148.90" width="24.00" height="21.60"/><use href="#g2c6" x="312.70" y="148.90" width="24.00" height="21.60"/><use href="#d2a" x="189.70" y="171.60" width="24.00" height="21.60"/><use href="#d2b" x="214.30" y="171.60" width="24.00" height="21.60"/><use href="#d2c" x="238.90" y="171.60" width="24.00" height="21.60"/><use href="#d2d" x="263.50" y="171.60" width="24.00" height="21.60"/><use href="#d2e" x="288.10" y="171.60" width="24.00" height="21.60"/><use href="#d2f" x="312.70" y="171.60" width="24.00" height="21.60"/><use href="#g3c1" x="354.40" y="30.80" width="23.70" height="21.60"/><use href="#g3c2" x="378.75" y="30.80" width="23.70" height="21.60"/><use href="#g3c3" x="403.10" y="30.80" width="23.70" height="21.60"/><use href="#g3c4" x="427.45" y="30.80" width="23.70" height="21.60"/><use href="#g3c5" x="451.80" y="30.80" width="23.70" height="21.60"/><use href="#g3c6" x="476.15" y="30.80" width="23.70" height="21.60"/><use href="#g3c1" x="354.40" y="53.50" width="23.70" height="21.60"/><use href="#g3c2" x="378.75" y="53.50" width="23.70" height="21.60"/><use href="#g3c3" x="403.10" y="53.50" width="23.70" height="21.60"/><use href="#g3c4" x="427.45" y="53.50" width="23.70" height="21.60"/><use href="#g3c5" x="451.80" y="53.50" width="23.70" height="21.60"/><use href="#g3c6" x="476.15" y="53.50" width="23.70" height="21.60"/><use href="#d3" x="354.40" y="76.20" width="23.70" height="21.60"/><use href="#d3b" x="378.75" y="76.20" width="23.70" height="21.60"/><use href="#d3" x="403.10" y="76.20" width="23.70" height="21.60"/><use href="#d3b" x="427.45" y="76.20" width="23.70" height="21.60"/><use href="#d3" x="451.80" y="76.20" width="23.70" height="21.60"/><use href="#d3b" x="476.15" y="76.20" width="23.70" height="21.60"/><use href="#g3c1" x="354.40" y="126.20" width="23.70" height="21.60"/><use href="#g3c2" x="378.75" y="126.20" width="23.70" height="21.60"/><use href="#g3c3" x="403.10" y="126.20" width="23.70" height="21.60"/><use href="#g3c4" x="427.45" y="126.20" width="23.70" height="21.60"/><use href="#g3c5" x="451.80" y="126.20" width="23.70" height="21.60"/><use href="#g3c6" x="476.15" y="126.20" width="23.70" height="21.60"/><use href="#g3c1" x="354.40" y="148.90" width="23.70" height="21.60"/><use href="#g3c2" x="378.75" y="148.90" width="23.70" height="21.60"/><use href="#g3c3" x="403.10" y="148.90" width="23.70" height="21.60"/><use href="#g3c4" x="427.45" y="148.90" width="23.70" height="21.60"/><use href="#g3c5" x="451.80" y="148.90" width="23.70" height="21.60"/><use href="#g3c6" x="476.15" y="148.90" width="23.70" height="21.60"/><use href="#d3" x="354.40" y="171.60" width="23.70" height="21.60"/><use href="#d3b" x="378.75" y="171.60" width="23.70" height="21.60"/><use href="#d3" x="403.10" y="171.60" width="23.70" height="21.60"/><use href="#d3b" x="427.45" y="171.60" width="23.70" height="21.60"/><use href="#d3" x="451.80" y="171.60" width="23.70" height="21.60"/><use href="#d3b" x="476.15" y="171.60" width="23.70" height="21.60"/></g></svg>
<div class="t r" style="left:57.2px;top:19.9px;font-size:8.2px;color:#333"><i>&eta;</i> = 0.5</div>
<div class="t r" style="left:90.4px;top:19.9px;font-size:8.2px;color:#333"><i>R</i><sub style="font-size:5.5px;vertical-align:-1.5px"><i>w</i></sub> = 0.3458</div>
<div class="t r" style="left:225.0px;top:19.9px;font-size:8.2px;color:#333"><i>&eta;</i> = 0.5</div>
<div class="t r" style="left:258.0px;top:19.9px;font-size:8.2px;color:#333"><i>R</i><sub style="font-size:5.5px;vertical-align:-1.5px"><i>w</i></sub> = 0.1801</div>
<div class="t r" style="left:389.0px;top:19.5px;font-size:8.2px;color:#333"><i>&eta;</i> = 0.5</div>
<div class="t r" style="left:422.0px;top:19.5px;font-size:8.2px;color:#333"><i>R</i><sub style="font-size:5.5px;vertical-align:-1.5px"><i>w</i></sub> = 0.2263</div>
<div class="t r" style="left:60.0px;top:114.3px;font-size:8.2px;color:#333"><i>&eta;</i> = 1</div>
<div class="t r" style="left:87.0px;top:114.3px;font-size:8.2px;color:#333"><i>R</i><sub style="font-size:5.5px;vertical-align:-1.5px"><i>w</i></sub> = 0.3840</div>
<div class="t r" style="left:223.0px;top:114.3px;font-size:8.2px;color:#333"><i>&eta;</i> = 0.86</div>
<div class="t r" style="left:260.0px;top:114.3px;font-size:8.2px;color:#333"><i>R</i><sub style="font-size:5.5px;vertical-align:-1.5px"><i>w</i></sub> = 0.1383</div>
<div class="t r" style="left:387.0px;top:114.3px;font-size:8.2px;color:#333"><i>&eta;</i> = 0.86</div>
<div class="t r" style="left:424.0px;top:114.3px;font-size:8.2px;color:#333"><i>R</i><sub style="font-size:5.5px;vertical-align:-1.5px"><i>w</i></sub> = 0.1808</div>
<div class="t r" style="left:31.00px;top:195.5px;width:0;font-size:8.4px;color:#444"><span style="position:absolute;left:0;transform:translateX(-50%)">(000)</span></div>
<div class="t r" style="left:56.60px;top:195.5px;width:0;font-size:8.4px;color:#444"><span style="position:absolute;left:0;transform:translateX(-50%)">(01<span style="text-decoration:overline">1</span>)</span></div>
<div class="t r" style="left:82.20px;top:195.5px;width:0;font-size:8.4px;color:#444"><span style="position:absolute;left:0;transform:translateX(-50%)">(020)</span></div>
<div class="t r" style="left:107.80px;top:195.5px;width:0;font-size:8.4px;color:#444"><span style="position:absolute;left:0;transform:translateX(-50%)">(002)</span></div>
<div class="t r" style="left:133.40px;top:195.5px;width:0;font-size:8.4px;color:#444"><span style="position:absolute;left:0;transform:translateX(-50%)">(022)</span></div>
<div class="t r" style="left:159.00px;top:195.5px;width:0;font-size:8.4px;color:#444"><span style="position:absolute;left:0;transform:translateX(-50%)">(013)</span></div>
<div class="t r" style="left:201.70px;top:195.5px;width:0;font-size:8.4px;color:#444"><span style="position:absolute;left:0;transform:translateX(-50%)">(000)</span></div>
<div class="t r" style="left:226.30px;top:195.5px;width:0;font-size:8.4px;color:#444"><span style="position:absolute;left:0;transform:translateX(-50%)">(01<span style="text-decoration:overline">1</span>)</span></div>
<div class="t r" style="left:250.90px;top:195.5px;width:0;font-size:8.4px;color:#444"><span style="position:absolute;left:0;transform:translateX(-50%)">(020)</span></div>
<div class="t r" style="left:275.50px;top:195.5px;width:0;font-size:8.4px;color:#444"><span style="position:absolute;left:0;transform:translateX(-50%)">(002)</span></div>
<div class="t r" style="left:300.10px;top:195.5px;width:0;font-size:8.4px;color:#444"><span style="position:absolute;left:0;transform:translateX(-50%)">(022)</span></div>
<div class="t r" style="left:324.70px;top:195.5px;width:0;font-size:8.4px;color:#444"><span style="position:absolute;left:0;transform:translateX(-50%)">(013)</span></div>
<div class="t r" style="left:366.25px;top:195.5px;width:0;font-size:8.4px;color:#444"><span style="position:absolute;left:0;transform:translateX(-50%)">(000)</span></div>
<div class="t r" style="left:390.60px;top:195.5px;width:0;font-size:8.4px;color:#444"><span style="position:absolute;left:0;transform:translateX(-50%)">(01<span style="text-decoration:overline">1</span>)</span></div>
<div class="t r" style="left:414.95px;top:195.5px;width:0;font-size:8.4px;color:#444"><span style="position:absolute;left:0;transform:translateX(-50%)">(020)</span></div>
<div class="t r" style="left:439.30px;top:195.5px;width:0;font-size:8.4px;color:#444"><span style="position:absolute;left:0;transform:translateX(-50%)">(002)</span></div>
<div class="t r" style="left:463.65px;top:195.5px;width:0;font-size:8.4px;color:#444"><span style="position:absolute;left:0;transform:translateX(-50%)">(022)</span></div>
<div class="t r" style="left:488.00px;top:195.5px;width:0;font-size:8.4px;color:#444"><span style="position:absolute;left:0;transform:translateX(-50%)">(013)</span></div>
<div class="t s" style="left:1.3px;top:39.1px;font-size:7.0px;color:#222;font-style:italic;-webkit-text-stroke:0.15px #222">obs.</div>
<div class="t s" style="left:1.3px;top:61.8px;font-size:7.0px;color:#222;font-style:italic;-webkit-text-stroke:0.15px #222">cal.</div>
<div class="t s" style="left:1.3px;top:84.5px;font-size:7.0px;color:#222;font-style:italic;-webkit-text-stroke:0.15px #222">diff.</div>
<div class="t s" style="left:1.3px;top:134.5px;font-size:7.0px;color:#222;font-style:italic;-webkit-text-stroke:0.15px #222">obs.</div>
<div class="t s" style="left:1.3px;top:157.2px;font-size:7.0px;color:#222;font-style:italic;-webkit-text-stroke:0.15px #222">cal.</div>
<div class="t s" style="left:1.3px;top:179.9px;font-size:7.0px;color:#222;font-style:italic;-webkit-text-stroke:0.15px #222">diff.</div>
<div style="position:absolute;left:35.00px;top:236.30px;width:91.70px;height:74.70px;overflow:hidden"><div style="position:absolute;left:0;top:0px;width:100%;height:1.05px;background:linear-gradient(90deg,#dc5d67 0%,#e56a5d 4%,#ed7953 9%,#f3874a 13%,#f89540 17%,#fca835 22%,#fec029 26%,#fbd524 30%,#fdca26 35%,#febe2a 39%,#feb82c 43%,#fdb130 48%,#fdae32 52%,#fdae32 57%,#fdae32 61%,#fdaf31 65%,#fdb130 70%,#fdb52e 74%,#feb82c 78%,#febb2b 83%,#febe2a 87%,#fdc229 91%,#fdc328 96%,#fdc627 100%)"></div><div style="position:absolute;left:0;top:1px;width:100%;height:1.05px;background:linear-gradient(90deg,#db5c68 0%,#e4695e 4%,#ec7754 9%,#f3854b 13%,#f89441 17%,#fca636 22%,#febe2a 26%,#fbd324 30%,#fdc827 35%,#febd2a 39%,#fdb52e 43%,#fdaf31 48%,#fdab33 52%,#fdab33 57%,#fdac33 61%,#fdae32 65%,#fdaf31 70%,#fdb42f 74%,#feb82c 78%,#febb2b 83%,#febe2a 87%,#fdc229 91%,#fdc328 96%,#fdc527 100%)"></div><div style="position:absolute;left:0;top:2px;width:100%;height:1.05px;background:linear-gradient(90deg,#da5b69 0%,#e3685f 4%,#eb7655 9%,#f2844b 13%,#f89441 17%,#fca636 22%,#febd2a 26%,#fcd225 30%,#fdc627 35%,#febb2b 39%,#fdb42f 43%,#fdac33 48%,#fca934 52%,#fca934 57%,#fca934 61%,#fdac33 65%,#fdae32 70%,#fdb22f 74%,#feb72d 78%,#febb2b 83%,#febe2a 87%,#fdc229 91%,#fdc328 96%,#fdc527 100%)"></div><div style="position:absolute;left:0;top:3px;width:100%;height:1.05px;background:linear-gradient(90deg,#d9586a 0%,#e26660 4%,#ea7457 9%,#f1834c 13%,#f79342 17%,#fca537 22%,#febb2b 26%,#fcd025 30%,#fdc527 35%,#feba2c 39%,#fdb22f 43%,#fdab33 48%,#fca835 52%,#fca835 57%,#fca835 61%,#fdab33 65%,#fdac33 70%,#fdb130 74%,#feb72d 78%,#feba2c 83%,#febd2a 87%,#fec029 91%,#fdc229 96%,#fdc527 100%)"></div><div style="position:absolute;left:0;top:4px;width:100%;height:1.05px;background:linear-gradient(90deg,#d8576b 0%,#e26561 4%,#e97257 9%,#f1814d 13%,#f79143 17%,#fca338 22%,#feba2c 26%,#fcce25 30%,#fdc328 35%,#feb82c 39%,#fdb130 43%,#fca934 48%,#fca537 52%,#fca537 57%,#fca636 61%,#fca835 65%,#fdab33 70%,#fdb130 74%,#fdb52e 78%,#feba2c 83%,#febd2a 87%,#fec029 91%,#fdc229 96%,#fdc328 100%)"></div><div style="position:absolute;left:0;top:5px;width:100%;height:1.05px;background:linear-gradient(90deg,#d6556d 0%,#e06363 4%,#e97158 9%,#f0804e 13%,#f79044 17%,#fba238 22%,#feb82c 26%,#fccd25 30%,#fdc229 35%,#feb72d 39%,#fdaf31 43%,#fca835 48%,#fca338 52%,#fca338 57%,#fca338 61%,#fca636 65%,#fca934 70%,#fdaf31 74%,#fdb52e 78%,#feba2c 83%,#febd2a 87%,#fec029 91%,#fdc229 96%,#fdc328 100%)"></div><div style="position:absolute;left:0;top:6px;width:100%;height:1.05px;background:linear-gradient(90deg,#d5546e 0%,#df6263 4%,#e87059 9%,#f07f4f 13%,#f68f44 17%,#fba238 22%,#feb72d 26%,#fdcb26 30%,#fec029 35%,#fdb52e 39%,#fdae32 43%,#fca537 48%,#fba238 52%,#fba238 57%,#fba238 61%,#fca537 65%,#fca835 70%,#fdae32 74%,#fdb42f 78%,#feb82c 83%,#febb2b 87%,#febe2a 91%,#fec029 96%,#fdc328 100%)"></div><div style="position:absolute;left:0;top:7px;width:100%;height:1.05px;background:linear-gradient(90deg,#d5536f 0%,#de6164 4%,#e76f5a 9%,#ef7e50 13%,#f68f44 17%,#fba139 22%,#fdb52e 26%,#fdca26 30%,#febe2a 35%,#fdb42f 39%,#fdab33 43%,#fca338 48%,#fb9f3a 52%,#fb9f3a 57%,#fba139 61%,#fca338 65%,#fca636 70%,#fdac33 74%,#fdb42f 78%,#feb82c 83%,#febb2b 87%,#febe2a 91%,#fec029 96%,#fdc229 100%)"></div><div style="position:absolute;left:0;top:8px;width:100%;height:1.05px;background:linear-gradient(90deg,#d35171 0%,#dd5e66 4%,#e76e5b 9%,#ef7c51 13%,#f68d45 17%,#fb9f3a 22%,#fdb42f 26%,#fdc827 30%,#febd2a 35%,#fdb22f 39%,#fca934 43%,#fba139 48%,#fa9c3c 52%,#fa9c3c 57%,#fa9c3c 61%,#fba139 65%,#fca338 70%,#fdab33 74%,#fdb22f 78%,#feb72d 83%,#febb2b 87%,#febe2a 91%,#fec029 96%,#fdc229 100%)"></div><div style="position:absolute;left:0;top:9px;width:100%;height:1.05px;background:linear-gradient(90deg,#d14e72 0%,#dc5d67 4%,#e56b5d 9%,#ee7b51 13%,#f58b47 17%,#fa9e3b 22%,#fdb22f 26%,#fdc627 30%,#febb2b 35%,#fdb130 39%,#fca835 43%,#fa9e3b 48%,#f99a3e 52%,#f9983e 57%,#f9983e 61%,#fa9c3c 65%,#fba238 70%,#fca934 74%,#fdb130 78%,#feb72d 83%,#feba2c 87%,#febd2a 91%,#febe2a 96%,#fdc229 100%)"></div><div style="position:absolute;left:0;top:10px;width:100%;height:1.05px;background:linear-gradient(90deg,#d04d73 0%,#da5b69 4%,#e56a5d 9%,#ed7a52 13%,#f48948 17%,#fa9c3c 22%,#fdb130 26%,#fdc527 30%,#feba2c 35%,#fdaf31 39%,#fca537 43%,#fa9b3d 48%,#f89540 52%,#f89540 57%,#f89540 61%,#f99a3e 65%,#fb9f3a 70%,#fca636 74%,#fdaf31 78%,#fdb52e 83%,#feba2c 87%,#febd2a 91%,#febe2a 96%,#fec029 100%)"></div><div style="position:absolute;left:0;top:11px;width:100%;height:1.05px;background:linear-gradient(90deg,#ce4b75 0%,#da5a6a 4%,#e4695e 9%,#ec7754 13%,#f48849 17%,#fa9b3d 22%,#fdaf31 26%,#fdc328 30%,#feb82c 35%,#fdae32 39%,#fca338 43%,#f99a3e 48%,#f79342 52%,#f79143 57%,#f79143 61%,#f9973f 65%,#fa9c3c 70%,#fca537 74%,#fdae32 78%,#fdb42f 83%,#feb82c 87%,#febd2a 91%,#febe2a 96%,#fec029 100%)"></div><div style="position:absolute;left:0;top:12px;width:100%;height:1.05px;background:linear-gradient(90deg,#cc4977 0%,#d8576b 4%,#e26660 9%,#eb7655 13%,#f3874a 17%,#f99a3e 22%,#fdae32 26%,#fdc229 30%,#feb72d 35%,#fdac33 39%,#fba238 43%,#f9973f 48%,#f79044 52%,#f68f44 57%,#f68d45 61%,#f89441 65%,#f99a3e 70%,#fca338 74%,#fdac33 78%,#fdb42f 83%,#feb82c 87%,#febb2b 91%,#febd2a 96%,#febe2a 100%)"></div><div style="position:absolute;left:0;top:13px;width:100%;height:1.05px;background:linear-gradient(90deg,#cb4679 0%,#d7566c 4%,#e26561 9%,#eb7556 13%,#f3854b 17%,#f9983e 22%,#fdac33 26%,#febe2a 30%,#fdb52e 35%,#fdab33 39%,#fb9f3a 43%,#f89441 48%,#f68d45 52%,#f58b47 57%,#f58b47 61%,#f79143 65%,#f9973f 70%,#fba139 74%,#fdac33 78%,#fdb22f 83%,#feb72d 87%,#febb2b 91%,#febd2a 96%,#febe2a 100%)"></div><div style="position:absolute;left:0;top:14px;width:100%;height:1.05px;background:linear-gradient(90deg,#ca457a 0%,#d5546e 4%,#e06363 9%,#ea7457 13%,#f2844b 17%,#f9973f 22%,#fdab33 26%,#febd2a 30%,#fdb42f 35%,#fca934 39%,#fa9e3b 43%,#f79143 48%,#f58b47 52%,#f48849 57%,#f3874a 61%,#f68d45 65%,#f89540 70%,#fb9f3a 74%,#fdab33 78%,#fdb22f 83%,#feb72d 87%,#febb2b 91%,#febd2a 96%,#febe2a 100%)"></div><div style="position:absolute;left:0;top:15px;width:100%;height:1.05px;background:linear-gradient(90deg,#c8437b 0%,#d45270 4%,#df6263 9%,#e97158 13%,#f1834c 17%,#f89540 22%,#fca934 26%,#febb2b 30%,#fdb22f 35%,#fca835 39%,#fa9c3c 43%,#f79044 48%,#f48849 52%,#f3854b 57%,#f2844b 61%,#f58c46 65%,#f79342 70%,#fa9e3b 74%,#fca934 78%,#fdb130 83%,#feb72d 87%,#feba2c 91%,#febb2b 96%,#febd2a 100%)"></div><div style="position:absolute;left:0;top:16px;width:100%;height:1.05px;background:linear-gradient(90deg,#c6417d 0%,#d35171 4%,#de5f65 9%,#e87059 13%,#f1814d 17%,#f89441 22%,#fca835 26%,#feba2c 30%,#fdb130 35%,#fca636 39%,#f99a3e 43%,#f68d45 48%,#f3854b 52%,#f1834c 57%,#f1814d 61%,#f48948 65%,#f79143 70%,#fa9c3c 74%,#fca934 78%,#fdb130 83%,#fdb52e 87%,#feba2c 91%,#febb2b 96%,#febd2a 100%)"></div><div style="position:absolute;left:0;top:17px;width:100%;height:1.05px;background:linear-gradient(90deg,#c5407e 0%,#d14e72 4%,#dd5e66 9%,#e76f5a 13%,#f0804e 17%,#f79342 22%,#fca636 26%,#feb82c 30%,#fdaf31 35%,#fca537 39%,#f9983e 43%,#f58c46 48%,#f2844b 52%,#f0804e 57%,#f0804e 61%,#f48849 65%,#f79044 70%,#fa9c3c 74%,#fca835 78%,#fdb130 83%,#fdb52e 87%,#feba2c 91%,#febb2b 96%,#febd2a 100%)"></div><div style="position:absolute;left:0;top:18px;width:100%;height:1.05px;background:linear-gradient(90deg,#c33d80 0%,#d04d73 4%,#dc5d67 9%,#e76e5b 13%,#ef7e50 17%,#f79143 22%,#fca537 26%,#feb72d 30%,#fdae32 35%,#fca338 39%,#f9973f 43%,#f58b47 48%,#f1834c 52%,#f07f4f 57%,#ef7e50 61%,#f3874a 65%,#f68f44 70%,#fa9b3d 74%,#fca835 78%,#fdaf31 83%,#fdb52e 87%,#feb82c 91%,#feba2c 96%,#febb2b 100%)"></div><div style="position:absolute;left:0;top:19px;width:100%;height:1.05px;background:linear-gradient(90deg,#c13b82 0%,#ce4b75 4%,#da5b69 9%,#e56b5d 13%,#ef7c51 17%,#f68f44 22%,#fca338 26%,#fdb52e 30%,#fdac33 35%,#fba238 39%,#f89540 43%,#f48849 48%,#f0804e 52%,#ef7c51 57%,#ee7b51 61%,#f2844b 65%,#f68d45 70%,#f99a3e 74%,#fca636 78%,#fdaf31 83%,#fdb42f 87%,#feb82c 91%,#feba2c 96%,#febb2b 100%)"></div><div style="position:absolute;left:0;top:20px;width:100%;height:1.05px;background:linear-gradient(90deg,#bf3984 0%,#cd4a76 4%,#da5a6a 9%,#e56a5d 13%,#ee7b51 17%,#f68d45 22%,#fba238 26%,#fdb42f 30%,#fdab33 35%,#fba139 39%,#f89441 43%,#f3874a 48%,#f07f4f 52%,#ee7b51 57%,#ed7a52 61%,#f1834c 65%,#f58c46 70%,#f9983e 74%,#fca636 78%,#fdaf31 83%,#fdb42f 87%,#feb82c 91%,#feba2c 96%,#febb2b 100%)"></div><div style="position:absolute;left:0;top:21px;width:100%;height:1.05px;background:linear-gradient(90deg,#be3885 0%,#cc4778 4%,#d8576b 9%,#e4695e 13%,#ed7a52 17%,#f58c46 22%,#fba139 26%,#fdb22f 30%,#fca934 35%,#fb9f3a 39%,#f79342 43%,#f3854b 48%,#ef7c51 52%,#ed7953 57%,#ec7754 61%,#f0804e 65%,#f58b47 70%,#f9983e 74%,#fca537 78%,#fdae32 83%,#fdb42f 87%,#feb72d 91%,#feb82c 96%,#feba2c 100%)"></div><div style="position:absolute;left:0;top:22px;width:100%;height:1.05px;background:linear-gradient(90deg,#bc3587 0%,#ca457a 4%,#d7566c 9%,#e26660 13%,#ed7953 17%,#f58b47 22%,#fb9f3a 26%,#fdb130 30%,#fca835 35%,#fa9e3b 39%,#f79143 43%,#f2844b 48%,#ee7b51 52%,#ec7754 57%,#eb7556 61%,#f07f4f 65%,#f48948 70%,#f9973f 74%,#fca537 78%,#fdae32 83%,#fdb22f 87%,#feb72d 91%,#feb82c 96%,#feba2c 100%)"></div><div style="position:absolute;left:0;top:23px;width:100%;height:1.05px;background:linear-gradient(90deg,#ba3388 0%,#c9447a 4%,#d5546e 9%,#e26561 13%,#eb7655 17%,#f48948 22%,#fa9e3b 26%,#fdaf31 30%,#fca636 35%,#fa9e3b 39%,#f79044 43%,#f1834c 48%,#ed7a52 52%,#eb7655 57%,#eb7556 61%,#f07f4f 65%,#f48948 70%,#f89540 74%,#fca338 78%,#fdae32 83%,#fdb22f 87%,#feb72d 91%,#feb82c 96%,#feba2c 100%)"></div><div style="position:absolute;left:0;top:24px;width:100%;height:1.05px;background:linear-gradient(90deg,#b83289 0%,#c7427c 4%,#d45270 9%,#e06363 13%,#ea7457 17%,#f3874a 22%,#fa9b3d 26%,#fdae32 30%,#fca537 35%,#fa9c3c 39%,#f79044 43%,#f1814d 48%,#ed7953 52%,#eb7556 57%,#ea7457 61%,#ef7e50 65%,#f48849 70%,#f89540 74%,#fca338 78%,#fdac33 83%,#fdb22f 87%,#feb72d 91%,#feb82c 96%,#feba2c 100%)"></div><div style="position:absolute;left:0;top:25px;width:100%;height:1.05px;background:linear-gradient(90deg,#b6308b 0%,#c5407e 4%,#d35171 9%,#de6164 13%,#e97257 17%,#f3854b 22%,#f99a3e 26%,#fdac33 30%,#fca338 35%,#fa9c3c 39%,#f68f44 43%,#f1814d 48%,#ed7953 52%,#ea7457 57%,#e97257 61%,#ef7e50 65%,#f48849 70%,#f89540 74%,#fca338 78%,#fdac33 83%,#fdb22f 87%,#feb72d 91%,#feb82c 96%,#feba2c 100%)"></div><div style="position:absolute;left:0;top:26px;width:100%;height:1.05px;background:linear-gradient(90deg,#b42e8d 0%,#c43e7f 4%,#d14e72 9%,#de5f65 13%,#e87059 17%,#f1834c 22%,#f9983e 26%,#fdab33 30%,#fca338 35%,#fa9b3d 39%,#f68f44 43%,#f0804e 48%,#ec7754 52%,#ea7457 57%,#e97257 61%,#ef7c51 65%,#f48849 70%,#f89441 74%,#fba238 78%,#fdac33 83%,#fdb22f 87%,#feb72d 91%,#feb82c 96%,#feba2c 100%)"></div><div style="position:absolute;left:0;top:27px;width:100%;height:1.05px;background:linear-gradient(90deg,#b22b8f 0%,#c23c81 4%,#cf4c74 9%,#dc5d67 13%,#e76e5b 17%,#f0804e 22%,#f89540 26%,#fca934 30%,#fba238 35%,#fa9b3d 39%,#f68d45 43%,#f07f4f 48%,#eb7655 52%,#e97257 57%,#e97158 61%,#ef7c51 65%,#f3874a 70%,#f89441 74%,#fba238 78%,#fdac33 83%,#fdb22f 87%,#feb72d 91%,#feb82c 96%,#feba2c 100%)"></div><div style="position:absolute;left:0;top:28px;width:100%;height:1.05px;background:linear-gradient(90deg,#b12a90 0%,#c03a83 4%,#ce4b75 9%,#da5b69 13%,#e66c5c 17%,#f07f4f 22%,#f89441 26%,#fca835 30%,#fba139 35%,#fa9b3d 39%,#f68d45 43%,#f07f4f 48%,#eb7655 52%,#e97158 57%,#e87059 61%,#ee7b51 65%,#f3874a 70%,#f89441 74%,#fba238 78%,#fdab33 83%,#fdb22f 87%,#feb72d 91%,#feb82c 96%,#feba2c 100%)"></div><div style="position:absolute;left:0;top:29px;width:100%;height:1.05px;background:linear-gradient(90deg,#ae2892 0%,#be3885 4%,#cc4977 9%,#d9586a 13%,#e56a5d 17%,#ef7c51 22%,#f79342 26%,#fca636 30%,#fba139 35%,#f99a3e 39%,#f58c46 43%,#ef7e50 48%,#eb7556 52%,#e97158 57%,#e87059 61%,#ee7b51 65%,#f3874a 70%,#f79342 74%,#fba139 78%,#fdab33 83%,#fdb130 87%,#feb72d 91%,#feb82c 96%,#feba2c 100%)"></div><div style="position:absolute;left:0;top:30px;width:100%;height:1.05px;background:linear-gradient(90deg,#ac2694 0%,#bc3587 4%,#cb4679 9%,#d7566c 13%,#e3685f 17%,#ee7b51 22%,#f79143 26%,#fca537 30%,#fb9f3a 35%,#f99a3e 39%,#f58c46 43%,#ef7e50 48%,#eb7556 52%,#e87059 57%,#e87059 61%,#ed7a52 65%,#f3854b 70%,#f79342 74%,#fba139 78%,#fdab33 83%,#fdb130 87%,#feb72d 91%,#feb82c 96%,#feba2c 100%)"></div><div style="position:absolute;left:0;top:31px;width:100%;height:1.05px;background:linear-gradient(90deg,#aa2395 0%,#ba3388 4%,#c8437b 9%,#d5546e 13%,#e26561 17%,#ed7953 22%,#f79044 26%,#fca537 30%,#fb9f3a 35%,#f9983e 39%,#f58c46 43%,#ef7e50 48%,#eb7556 52%,#e87059 57%,#e87059 61%,#ed7a52 65%,#f3854b 70%,#f79342 74%,#fba139 78%,#fdab33 83%,#fdb130 87%,#feb72d 91%,#feb82c 96%,#feba2c 100%)"></div><div style="position:absolute;left:0;top:32px;width:100%;height:1.05px;background:linear-gradient(90deg,#a72197 0%,#b7318a 4%,#c6417d 9%,#d45270 13%,#e06363 17%,#ec7754 22%,#f68d45 26%,#fca338 30%,#fa9e3b 35%,#f9983e 39%,#f58c46 43%,#ef7e50 48%,#eb7556 52%,#e87059 57%,#e87059 61%,#ed7a52 65%,#f3854b 70%,#f79342 74%,#fba139 78%,#fdab33 83%,#fdb130 87%,#feb72d 91%,#feb82c 96%,#feba2c 100%)"></div><div style="position:absolute;left:0;top:33px;width:100%;height:1.05px;background:linear-gradient(90deg,#a51f99 0%,#b52f8c 4%,#c43e7f 9%,#d24f71 13%,#de6164 17%,#eb7556 22%,#f58c46 26%,#fba238 30%,#fa9e3b 35%,#f9983e 39%,#f58b47 43%,#ef7e50 48%,#eb7556 52%,#e87059 57%,#e87059 61%,#ed7a52 65%,#f3854b 70%,#f79342 74%,#fba139 78%,#fdab33 83%,#fdb130 87%,#feb72d 91%,#feb82c 96%,#feba2c 100%)"></div><div style="position:absolute;left:0;top:34px;width:100%;height:1.05px;background:linear-gradient(90deg,#a21d9a 0%,#b32c8e 4%,#c13b82 9%,#d04d73 13%,#dd5e66 17%,#e97257 22%,#f58b47 26%,#fba238 30%,#fa9c3c 35%,#f9973f 39%,#f58b47 43%,#ef7e50 48%,#eb7556 52%,#e87059 57%,#e87059 61%,#ed7a52 65%,#f3854b 70%,#f79342 74%,#fba139 78%,#fdab33 83%,#fdb130 87%,#feb72d 91%,#feb82c 96%,#feba2c 100%)"></div><div style="position:absolute;left:0;top:35px;width:100%;height:1.05px;background:linear-gradient(90deg,#a01a9c 0%,#b02991 4%,#bf3984 9%,#cd4a76 13%,#dc5d67 17%,#e97158 22%,#f48948 26%,#fba139 30%,#fa9b3d 35%,#f9973f 39%,#f58b47 43%,#ef7e50 48%,#eb7556 52%,#e87059 57%,#e87059 61%,#ed7a52 65%,#f3854b 70%,#f79342 74%,#fba139 78%,#fdab33 83%,#fdb130 87%,#feb72d 91%,#feb82c 96%,#feba2c 100%)"></div><div style="position:absolute;left:0;top:36px;width:100%;height:1.05px;background:linear-gradient(90deg,#9d189d 0%,#ad2793 4%,#bd3786 9%,#cc4778 13%,#da5b69 17%,#e76f5a 22%,#f48849 26%,#fb9f3a 30%,#fa9b3d 35%,#f89540 39%,#f58b47 43%,#ef7e50 48%,#eb7556 52%,#e87059 57%,#e87059 61%,#ed7a52 65%,#f3854b 70%,#f79342 74%,#fba139 78%,#fdab33 83%,#fdb130 87%,#feb72d 91%,#feb82c 96%,#feba2c 100%)"></div><div style="position:absolute;left:0;top:37px;width:100%;height:1.05px;background:linear-gradient(90deg,#9a169f 0%,#ab2494 4%,#ba3388 9%,#ca457a 13%,#d9586a 17%,#e76e5b 22%,#f3874a 26%,#fb9f3a 30%,#f99a3e 35%,#f89540 39%,#f58b47 43%,#ef7e50 48%,#eb7556 52%,#e97158 57%,#e87059 61%,#ee7b51 65%,#f3854b 70%,#f79342 74%,#fba139 78%,#fdab33 83%,#fdb130 87%,#feb72d 91%,#feb82c 96%,#feba2c 100%)"></div><div style="position:absolute;left:0;top:38px;width:100%;height:1.05px;background:linear-gradient(90deg,#9814a0 0%,#a82296 4%,#b7318a 9%,#c7427c 13%,#d7566c 17%,#e56b5d 22%,#f3854b 26%,#fa9e3b 30%,#f99a3e 35%,#f89540 39%,#f58b47 43%,#ef7e50 48%,#eb7655 52%,#e97158 57%,#e97158 61%,#ee7b51 65%,#f3874a 70%,#f89441 74%,#fba238 78%,#fdab33 83%,#fdb22f 87%,#feb72d 91%,#feb82c 96%,#feba2c 100%)"></div><div style="position:absolute;left:0;top:39px;width:100%;height:1.05px;background:linear-gradient(90deg,#9511a1 0%,#a51f99 4%,#b42e8d 9%,#c5407e 13%,#d5536f 17%,#e4695e 22%,#f2844b 26%,#fa9c3c 30%,#f99a3e 35%,#f89540 39%,#f58b47 43%,#f07f4f 48%,#eb7655 52%,#e97257 57%,#e97257 61%,#ef7c51 65%,#f48849 70%,#f89441 74%,#fba238 78%,#fdac33 83%,#fdb22f 87%,#feb72d 91%,#feb82c 96%,#feba2c 100%)"></div><div style="position:absolute;left:0;top:40px;width:100%;height:1.05px;background:linear-gradient(90deg,#920fa3 0%,#a21d9a 4%,#b12a90 9%,#c23c81 13%,#d35171 17%,#e26660 22%,#f1814d 26%,#fa9c3c 30%,#f9983e 35%,#f89540 39%,#f58b47 43%,#f07f4f 48%,#ec7754 52%,#ea7457 57%,#ea7457 61%,#ef7e50 65%,#f48948 70%,#f89540 74%,#fca338 78%,#fdac33 83%,#fdb22f 87%,#feb72d 91%,#feb82c 96%,#feba2c 100%)"></div><div style="position:absolute;left:0;top:41px;width:100%;height:1.05px;background:linear-gradient(90deg,#8e0ca4 0%,#a01a9c 4%,#ae2892 9%,#c03a83 13%,#d14e72 17%,#e26561 22%,#f0804e 26%,#fa9b3d 30%,#f9983e 35%,#f89540 39%,#f58b47 43%,#f0804e 48%,#ed7953 52%,#eb7556 57%,#eb7556 61%,#f07f4f 65%,#f48948 70%,#f9973f 74%,#fca338 78%,#fdac33 83%,#fdb22f 87%,#feb72d 91%,#feb82c 96%,#feba2c 100%)"></div><div style="position:absolute;left:0;top:42px;width:100%;height:1.05px;background:linear-gradient(90deg,#8b0aa5 0%,#9c179e 4%,#ab2494 9%,#bd3786 13%,#cf4c74 17%,#e06363 22%,#f07f4f 26%,#f99a3e 30%,#f9983e 35%,#f89540 39%,#f58c46 43%,#f0804e 48%,#ed7a52 52%,#eb7655 57%,#eb7655 61%,#f0804e 65%,#f58b47 70%,#f9973f 74%,#fca338 78%,#fdac33 83%,#fdb22f 87%,#feb72d 91%,#feb82c 96%,#feba2c 100%)"></div><div style="position:absolute;left:0;top:43px;width:100%;height:1.05px;background:linear-gradient(90deg,#8808a6 0%,#99159f 4%,#a72197 9%,#bb3488 13%,#cc4977 17%,#de6164 22%,#ef7e50 26%,#f99a3e 30%,#f9973f 35%,#f89540 39%,#f58c46 43%,#f1814d 48%,#ed7a52 52%,#ec7754 57%,#ec7754 61%,#f1814d 65%,#f58c46 70%,#f9983e 74%,#fca537 78%,#fdae32 83%,#fdb22f 87%,#feb72d 91%,#feb82c 96%,#feba2c 100%)"></div><div style="position:absolute;left:0;top:44px;width:100%;height:1.05px;background:linear-gradient(90deg,#8606a6 0%,#9613a1 4%,#a51f99 9%,#b7318a 13%,#cb4679 17%,#dd5e66 22%,#ee7b51 26%,#f9983e 30%,#f9973f 35%,#f89540 39%,#f58c46 43%,#f1814d 48%,#ee7b51 52%,#ed7953 57%,#ed7953 61%,#f1834c 65%,#f58c46 70%,#f9983e 74%,#fca537 78%,#fdae32 83%,#fdb22f 87%,#feb72d 91%,#feb82c 96%,#feba2c 100%)"></div><div style="position:absolute;left:0;top:45px;width:100%;height:1.05px;background:linear-gradient(90deg,#8305a7 0%,#920fa3 4%,#a11b9b 9%,#b52f8c 13%,#c9447a 17%,#db5c68 22%,#ed7a52 26%,#f9983e 30%,#f9973f 35%,#f89540 39%,#f68d45 43%,#f1834c 48%,#ef7c51 52%,#ed7a52 57%,#ed7a52 61%,#f2844b 65%,#f68f44 70%,#f99a3e 74%,#fca636 78%,#fdae32 83%,#fdb42f 87%,#feb72d 91%,#feb82c 96%,#feba2c 100%)"></div><div style="position:absolute;left:0;top:46px;width:100%;height:1.05px;background:linear-gradient(90deg,#8004a8 0%,#8f0da4 4%,#9e199d 9%,#b32c8e 13%,#c7427c 17%,#da5b69 22%,#ed7953 26%,#f9973f 30%,#f9973f 35%,#f89540 39%,#f68d45 43%,#f2844b 48%,#f07f4f 52%,#ef7c51 57%,#ef7c51 61%,#f3854b 65%,#f79044 70%,#fa9b3d 74%,#fca835 78%,#fdaf31 83%,#fdb42f 87%,#feb72d 91%,#feba2c 96%,#febb2b 100%)"></div><div style="position:absolute;left:0;top:47px;width:100%;height:1.05px;background:linear-gradient(90deg,#7d03a8 0%,#8d0ba5 4%,#9c179e 9%,#b02991 13%,#c5407e 17%,#d9586a 22%,#ec7754 26%,#f9973f 30%,#f9973f 35%,#f89540 39%,#f68f44 43%,#f3874a 48%,#f0804e 52%,#f07f4f 57%,#f07f4f 61%,#f48849 65%,#f79143 70%,#fa9c3c 74%,#fca835 78%,#fdaf31 83%,#fdb42f 87%,#feb82c 91%,#feba2c 96%,#febb2b 100%)"></div><div style="position:absolute;left:0;top:48px;width:100%;height:1.05px;background:linear-gradient(90deg,#7a02a8 0%,#8a09a5 4%,#9814a0 9%,#ad2793 13%,#c23c81 17%,#d7566c 22%,#eb7655 26%,#f9973f 30%,#f9973f 35%,#f9973f 39%,#f79044 43%,#f48849 48%,#f1834c 52%,#f0804e 57%,#f0804e 61%,#f48948 65%,#f89441 70%,#fa9e3b 74%,#fca934 78%,#fdb130 83%,#fdb52e 87%,#feb82c 91%,#feba2c 96%,#febb2b 100%)"></div><div style="position:absolute;left:0;top:49px;width:100%;height:1.05px;background:linear-gradient(90deg,#7701a8 0%,#8606a6 4%,#9511a1 9%,#ab2494 13%,#c03a83 17%,#d5546e 22%,#eb7556 26%,#f89540 30%,#f9973f 35%,#f9973f 39%,#f79143 43%,#f48948 48%,#f2844b 52%,#f1834c 57%,#f1834c 61%,#f58c46 65%,#f89540 70%,#fba139 74%,#fdab33 78%,#fdb22f 83%,#fdb52e 87%,#feb82c 91%,#febb2b 96%,#febd2a 100%)"></div><div style="position:absolute;left:0;top:50px;width:100%;height:1.05px;background:linear-gradient(90deg,#7401a8 0%,#8305a7 4%,#920fa3 9%,#a72197 13%,#be3885 17%,#d5536f 22%,#ea7457 26%,#f89540 30%,#f9973f 35%,#f9973f 39%,#f79143 43%,#f58b47 48%,#f3874a 52%,#f2844b 57%,#f3854b 61%,#f68f44 65%,#f9973f 70%,#fba238 74%,#fdac33 78%,#fdb22f 83%,#feb72d 87%,#feba2c 91%,#febb2b 96%,#febd2a 100%)"></div><div style="position:absolute;left:0;top:51px;width:100%;height:1.05px;background:linear-gradient(90deg,#7100a8 0%,#8004a8 4%,#8e0ca4 9%,#a51f99 13%,#bc3587 17%,#d35171 22%,#e97257 26%,#f89540 30%,#f9973f 35%,#f9983e 39%,#f79342 43%,#f58c46 48%,#f48849 52%,#f3874a 57%,#f3874a 61%,#f79044 65%,#f99a3e 70%,#fca338 74%,#fdae32 78%,#fdb42f 83%,#feb72d 87%,#feba2c 91%,#febb2b 96%,#febd2a 100%)"></div><div style="position:absolute;left:0;top:52px;width:100%;height:1.05px;background:linear-gradient(90deg,#6e00a8 0%,#7d03a8 4%,#8b0aa5 9%,#a21d9a 13%,#ba3388 17%,#d14e72 22%,#e97158 26%,#f89441 30%,#f9973f 35%,#f9983e 39%,#f89441 43%,#f68d45 48%,#f58b47 52%,#f48948 57%,#f48948 61%,#f79342 65%,#fa9b3d 70%,#fca537 74%,#fdaf31 78%,#fdb52e 83%,#feb82c 87%,#febb2b 91%,#febd2a 96%,#febe2a 100%)"></div><div style="position:absolute;left:0;top:53px;width:100%;height:1.05px;background:linear-gradient(90deg,#6900a8 0%,#7a02a8 4%,#8808a6 9%,#a01a9c 13%,#b7318a 17%,#cf4c74 22%,#e87059 26%,#f89441 30%,#f9973f 35%,#f99a3e 39%,#f89540 43%,#f79044 48%,#f68d45 52%,#f58c46 57%,#f58c46 61%,#f89540 65%,#fa9e3b 70%,#fca636 74%,#fdb130 78%,#fdb52e 83%,#feb82c 87%,#febb2b 91%,#febd2a 96%,#febe2a 100%)"></div><div style="position:absolute;left:0;top:54px;width:100%;height:1.05px;background:linear-gradient(90deg,#6600a7 0%,#7501a8 4%,#8606a6 9%,#9d189d 13%,#b52f8c 17%,#cd4a76 22%,#e76f5a 26%,#f79342 30%,#f9973f 35%,#f99a3e 39%,#f9973f 43%,#f79143 48%,#f68f44 52%,#f68f44 57%,#f79044 61%,#f9983e 65%,#fba139 70%,#fca934 74%,#fdb22f 78%,#feb72d 83%,#feba2c 87%,#febd2a 91%,#febe2a 96%,#febe2a 100%)"></div><div style="position:absolute;left:0;top:55px;width:100%;height:1.05px;background:linear-gradient(90deg,#6300a7 0%,#7201a8 4%,#8305a7 9%,#9a169f 13%,#b32c8e 17%,#cc4977 22%,#e76e5b 26%,#f79342 30%,#f9973f 35%,#fa9b3d 39%,#f9983e 43%,#f89441 48%,#f79143 52%,#f79143 57%,#f79342 61%,#fa9b3d 65%,#fca338 70%,#fdab33 74%,#fdb42f 78%,#feb82c 83%,#febb2b 87%,#febd2a 91%,#febe2a 96%,#fec029 100%)"></div><div style="position:absolute;left:0;top:56px;width:100%;height:1.05px;background:linear-gradient(90deg,#5e01a6 0%,#6f00a8 4%,#7e03a8 9%,#9814a0 13%,#b12a90 17%,#cb4679 22%,#e56b5d 26%,#f79143 30%,#f9973f 35%,#fa9b3d 39%,#f99a3e 43%,#f89540 48%,#f89441 52%,#f89441 57%,#f89540 61%,#fa9e3b 65%,#fca537 70%,#fdae32 74%,#fdb52e 78%,#feba2c 83%,#febd2a 87%,#febe2a 91%,#fec029 96%,#fec029 100%)"></div><div style="position:absolute;left:0;top:57px;width:100%;height:1.05px;background:linear-gradient(90deg,#5b01a5 0%,#6c00a8 4%,#7b02a8 9%,#9511a1 13%,#ae2892 17%,#c9447a 22%,#e56a5d 26%,#f79044 30%,#f9973f 35%,#fa9c3c 39%,#fa9b3d 43%,#f9983e 48%,#f9973f 52%,#f9973f 57%,#f99a3e 61%,#fba139 65%,#fca835 70%,#fdaf31 74%,#feb72d 78%,#febb2b 83%,#febe2a 87%,#fec029 91%,#fec029 96%,#fec029 100%)"></div><div style="position:absolute;left:0;top:58px;width:100%;height:1.05px;background:linear-gradient(90deg,#5601a4 0%,#6700a8 4%,#7801a8 9%,#920fa3 13%,#ac2694 17%,#c7427c 22%,#e4695e 26%,#f79044 30%,#f9973f 35%,#fa9c3c 39%,#fa9c3c 43%,#f99a3e 48%,#f99a3e 52%,#fa9b3d 57%,#fa9c3c 61%,#fca338 65%,#fdab33 70%,#fdb22f 74%,#feb82c 78%,#febd2a 83%,#febe2a 87%,#fec029 91%,#fdc229 96%,#fdc229 100%)"></div><div style="position:absolute;left:0;top:59px;width:100%;height:1.05px;background:linear-gradient(90deg,#5302a3 0%,#6400a7 4%,#7501a8 9%,#8e0ca4 13%,#aa2395 17%,#c5407e 22%,#e3685f 26%,#f68f44 30%,#f9973f 35%,#fa9e3b 39%,#fa9e3b 43%,#fa9c3c 48%,#fa9c3c 52%,#fa9e3b 57%,#fb9f3a 61%,#fca636 65%,#fdae32 70%,#fdb42f 74%,#febb2b 78%,#febe2a 83%,#fec029 87%,#fdc229 91%,#fdc229 96%,#fdc229 100%)"></div><div style="position:absolute;left:0;top:60px;width:100%;height:1.05px;background:linear-gradient(90deg,#5002a2 0%,#6100a7 4%,#7201a8 9%,#8d0ba5 13%,#a72197 17%,#c43e7f 22%,#e26660 26%,#f68f44 30%,#f9973f 35%,#fb9f3a 39%,#fb9f3a 43%,#fa9e3b 48%,#fa9e3b 52%,#fba139 57%,#fca338 61%,#fca934 65%,#fdaf31 70%,#feb72d 74%,#febd2a 78%,#fdc229 83%,#fdc328 87%,#fdc328 91%,#fdc328 96%,#fdc328 100%)"></div><div style="position:absolute;left:0;top:61px;width:100%;height:1.05px;background:linear-gradient(90deg,#4b03a1 0%,#5e01a6 4%,#6f00a8 9%,#8a09a5 13%,#a51f99 17%,#c33d80 22%,#e26561 26%,#f68d45 30%,#f9973f 35%,#fb9f3a 39%,#fba139 43%,#fba139 48%,#fba139 52%,#fca338 57%,#fca636 61%,#fdac33 65%,#fdb22f 70%,#feb82c 74%,#fec029 78%,#fdc328 83%,#fdc527 87%,#fdc627 91%,#fdc627 96%,#fdc627 100%)"></div><div style="position:absolute;left:0;top:62px;width:100%;height:1.05px;background:linear-gradient(90deg,#48039f 0%,#5901a5 4%,#6c00a8 9%,#8707a6 13%,#a31e9a 17%,#c23c81 22%,#e16462 26%,#f68d45 30%,#f9973f 35%,#fba139 39%,#fba238 43%,#fba238 48%,#fca338 52%,#fca636 57%,#fca934 61%,#fdaf31 65%,#fdb52e 70%,#febb2b 74%,#fdc328 78%,#fdc627 83%,#fdc827 87%,#fdca26 91%,#fdca26 96%,#fdca26 100%)"></div><div style="position:absolute;left:0;top:63px;width:100%;height:1.05px;background:linear-gradient(90deg,#43039e 0%,#5601a4 4%,#6900a8 9%,#8405a7 13%,#a11b9b 17%,#c03a83 22%,#e16462 26%,#f68d45 30%,#f9973f 35%,#fba139 39%,#fca338 43%,#fca537 48%,#fca636 52%,#fca934 57%,#fdac33 61%,#fdb22f 65%,#feb72d 70%,#febe2a 74%,#fdc527 78%,#fdca26 83%,#fdcb26 87%,#fccd25 91%,#fccd25 96%,#fccd25 100%)"></div><div style="position:absolute;left:0;top:64px;width:100%;height:1.05px;background:linear-gradient(90deg,#3f049c 0%,#5302a3 4%,#6600a7 9%,#8104a7 13%,#a01a9c 17%,#bf3984 22%,#e06363 26%,#f68d45 30%,#f9973f 35%,#fba238 39%,#fca537 43%,#fca636 48%,#fca934 52%,#fdab33 57%,#fdaf31 61%,#fdb42f 65%,#feba2c 70%,#fdc229 74%,#fdc827 78%,#fdcb26 83%,#fcce25 87%,#fcce25 91%,#fcce25 96%,#fcce25 100%)"></div><div style="position:absolute;left:0;top:65px;width:100%;height:1.05px;background:linear-gradient(90deg,#3c049b 0%,#5002a2 4%,#6300a7 9%,#7e03a8 13%,#9d189d 17%,#be3885 22%,#df6263 26%,#f58c46 30%,#f9973f 35%,#fba238 39%,#fca636 43%,#fca934 48%,#fdab33 52%,#fdae32 57%,#fdb22f 61%,#feb72d 65%,#febd2a 70%,#fdc328 74%,#fdcb26 78%,#fcce25 83%,#fcd025 87%,#fcd225 91%,#fcd225 96%,#fcd225 100%)"></div><div style="position:absolute;left:0;top:66px;width:100%;height:1.05px;background:linear-gradient(90deg,#370499 0%,#4b03a1 4%,#5e01a6 9%,#7d03a8 13%,#9c179e 17%,#bd3786 22%,#de6164 26%,#f58c46 30%,#f9983e 35%,#fca338 39%,#fca835 43%,#fdab33 48%,#fdae32 52%,#fdb130 57%,#fdb52e 61%,#feba2c 65%,#fec029 70%,#fdc627 74%,#fccd25 78%,#fcd225 83%,#fbd324 87%,#fbd524 91%,#fbd524 96%,#fbd524 100%)"></div><div style="position:absolute;left:0;top:67px;width:100%;height:1.05px;background:linear-gradient(90deg,#330597 0%,#4903a0 4%,#5c01a6 9%,#7a02a8 13%,#99159f 17%,#bc3587 22%,#de6164 26%,#f58c46 30%,#f9983e 35%,#fca537 39%,#fca934 43%,#fdac33 48%,#fdb130 52%,#fdb42f 57%,#feb82c 61%,#febd2a 65%,#fdc229 70%,#fdca26 74%,#fcd025 78%,#fbd324 83%,#fbd724 87%,#fbd724 91%,#fbd724 96%,#fbd724 100%)"></div><div style="position:absolute;left:0;top:68px;width:100%;height:1.05px;background:linear-gradient(90deg,#330597 0%,#48039f 4%,#5c01a6 9%,#7a02a8 13%,#99159f 17%,#bc3587 22%,#de6164 26%,#f58c46 30%,#f9983e 35%,#fca537 39%,#fdab33 43%,#fdae32 48%,#fdb22f 52%,#fdb52e 57%,#feba2c 61%,#fec029 65%,#fdc527 70%,#fdcb26 74%,#fcd225 78%,#fbd524 83%,#fad824 87%,#fad824 91%,#fad824 96%,#fad824 100%)"></div><div style="position:absolute;left:0;top:69px;width:100%;height:1.05px;background:linear-gradient(90deg,#330597 0%,#48039f 4%,#5b01a5 9%,#7a02a8 13%,#99159f 17%,#bc3587 22%,#de6164 26%,#f58c46 30%,#f9983e 35%,#fca636 39%,#fdac33 43%,#fdaf31 48%,#fdb22f 52%,#feb72d 57%,#febb2b 61%,#fdc229 65%,#fdc827 70%,#fcce25 74%,#fbd324 78%,#fbd724 83%,#fada24 87%,#fada24 91%,#fada24 96%,#fada24 100%)"></div><div style="position:absolute;left:0;top:70px;width:100%;height:1.05px;background:linear-gradient(90deg,#330597 0%,#48039f 4%,#5b01a5 9%,#7801a8 13%,#99159f 17%,#bc3587 22%,#de6164 26%,#f58c46 30%,#f99a3e 35%,#fca835 39%,#fdac33 43%,#fdb130 48%,#fdb42f 52%,#feb82c 57%,#febe2a 61%,#fdc527 65%,#fdca26 70%,#fcd025 74%,#fbd524 78%,#fad824 83%,#f9dc24 87%,#f9dc24 91%,#f9dc24 96%,#f9dc24 100%)"></div><div style="position:absolute;left:0;top:71px;width:100%;height:1.05px;background:linear-gradient(90deg,#330597 0%,#48039f 4%,#5b01a5 9%,#7801a8 13%,#99159f 17%,#bc3587 22%,#de6164 26%,#f58c46 30%,#f99a3e 35%,#fca835 39%,#fdae32 43%,#fdb130 48%,#fdb52e 52%,#febb2b 57%,#fec029 61%,#fdc627 65%,#fccd25 70%,#fcd225 74%,#fad824 78%,#f9dc24 83%,#f9dd25 87%,#f9dd25 91%,#f9dd25 96%,#f9dd25 100%)"></div><div style="position:absolute;left:0;top:72px;width:100%;height:1.05px;background:linear-gradient(90deg,#330597 0%,#48039f 4%,#5901a5 9%,#7801a8 13%,#99159f 17%,#bc3587 22%,#de6164 26%,#f58c46 30%,#f99a3e 35%,#fca934 39%,#fdaf31 43%,#fdb22f 48%,#feb72d 52%,#febd2a 57%,#fdc328 61%,#fdca26 65%,#fcd025 70%,#fbd524 74%,#fada24 78%,#f9dd25 83%,#f8df25 87%,#f8df25 91%,#f8df25 96%,#f8df25 100%)"></div><div style="position:absolute;left:0;top:73px;width:100%;height:1.05px;background:linear-gradient(90deg,#330597 0%,#48039f 4%,#5901a5 9%,#7801a8 13%,#99159f 17%,#bc3587 22%,#de6164 26%,#f58c46 30%,#fa9b3d 35%,#fca934 39%,#fdaf31 43%,#fdb42f 48%,#feb82c 52%,#febe2a 57%,#fdc527 61%,#fdcb26 65%,#fbd324 70%,#fbd724 74%,#f9dc24 78%,#f8df25 83%,#f8e125 87%,#f8e125 91%,#f8e125 96%,#f8e125 100%)"></div><div style="position:absolute;left:0;top:74px;width:100%;height:1.05px;background:linear-gradient(90deg,#330597 0%,#48039f 4%,#5901a5 9%,#7701a8 13%,#99159f 17%,#bc3587 22%,#de6164 26%,#f58c46 30%,#fa9b3d 35%,#fdab33 39%,#fdb130 43%,#fdb42f 48%,#feba2c 52%,#fec029 57%,#fdc627 61%,#fcce25 65%,#fbd524 70%,#fada24 74%,#f9dd25 78%,#f8e125 83%,#f7e225 87%,#f7e225 91%,#f7e225 96%,#f7e225 100%)"></div><svg width="91.70" height="74.70" style="position:absolute;left:0;top:0"><g fill="none" stroke="#fff" stroke-opacity="0.5" stroke-width="0.6"><path d="M3.2 74.7 L3.2 73.2 L3.1 71.7 L3.1 70.9 L3.0 69.4 L3.0 67.9 L2.3 66.4 L1.7 65.6 L1.1 64.9 L0.5 64.1"/><path d="M7.1 74.7 L7.0 73.2 L6.9 72.4 L6.8 70.9 L6.7 69.4 L6.5 67.9 L6.2 66.8 L5.4 65.7 L4.8 64.9 L4.2 64.1 L3.7 63.4 L3.1 62.6 L2.3 61.7 L1.5 60.7 L0.8 59.8 L0.0 58.9"/><path d="M10.1 74.7 L10.0 73.9 L9.9 72.4 L9.9 70.9 L9.8 69.4 L9.7 67.9 L9.3 66.4 L8.9 65.6 L8.5 64.9 L7.7 63.8 L6.9 62.8 L6.3 61.9 L5.7 61.1 L5.1 60.4 L4.5 59.6 L3.9 58.8 L3.1 57.9 L2.3 57.0 L1.5 56.1 L0.8 55.2 L0.0 54.4"/><path d="M11.9 74.7 L11.9 73.2 L11.8 71.7 L11.7 70.2 L11.7 68.7 L11.6 67.2 L11.3 66.4 L10.8 64.9 L10.5 64.1 L10.0 62.8 L9.7 61.9 L9.2 60.8 L8.5 59.7 L7.8 58.9 L7.3 58.1 L6.7 57.3 L6.1 56.6 L5.4 55.8 L4.6 54.9 L3.9 54.0 L3.1 53.1 L2.3 52.2 L1.5 51.3 L0.9 50.6 L0.3 49.8"/><path d="M13.8 74.7 L13.7 73.2 L13.7 71.7 L13.6 70.2 L13.6 68.7 L13.5 67.2 L13.1 65.8 L12.8 64.9 L12.3 63.5 L12.0 62.6 L11.6 61.3 L11.2 60.4 L10.8 59.3 L10.3 58.1 L10.0 57.3 L9.4 55.8 L8.9 55.1 L8.4 54.3 L7.7 53.5 L6.9 52.6 L6.2 51.7 L5.4 50.8 L4.6 50.0 L3.9 49.1 L3.2 48.3 L2.6 47.5 L2.0 46.8 L1.4 46.0 L0.8 45.2 L0.0 44.1"/><path d="M15.6 74.7 L15.6 73.2 L15.6 71.7 L15.6 70.2 L15.5 68.7 L15.5 67.2 L15.3 66.4 L14.8 64.9 L14.6 64.1 L14.1 62.6 L13.9 61.9 L13.4 60.4 L13.1 59.6 L12.5 58.1 L12.2 57.3 L11.6 55.9 L11.2 55.1 L10.8 54.0 L10.3 52.8 L10.0 52.1 L9.3 50.6 L8.7 49.8 L8.0 49.0 L7.3 48.3 L6.7 47.5 L6.0 46.8 L5.4 46.0 L4.6 45.1 L3.9 44.1 L3.1 43.2 L2.4 42.3 L1.8 41.5 L1.3 40.7 L0.8 40.0 L0.0 38.8"/><path d="M17.5 74.7 L17.5 73.2 L17.5 71.7 L17.5 70.2 L17.5 68.7 L17.4 67.2 L17.0 65.6 L16.8 64.9 L16.4 63.4 L16.2 62.6 L15.8 61.1 L15.4 60.0 L15.0 58.9 L14.6 58.1 L14.0 56.6 L13.7 55.8 L13.1 54.3 L12.8 53.6 L12.3 52.4 L11.8 51.3 L11.5 50.6 L10.8 49.1 L10.4 48.3 L10.0 47.5 L9.3 46.0 L8.7 45.3 L8.0 44.5 L7.3 43.8 L6.7 43.0 L6.0 42.3 L5.4 41.5 L4.6 40.5 L3.9 39.5 L3.1 38.5 L2.6 37.7 L2.1 37.0 L1.5 36.1 L0.8 34.8 L0.3 34.0"/><path d="M19.0 74.7 L19.0 73.2 L19.0 71.7 L19.0 70.2 L19.0 68.7 L19.0 67.2 L18.8 65.6 L18.5 64.1 L18.4 63.4 L18.0 61.9 L17.7 60.6 L17.4 59.6 L17.0 58.4 L16.5 57.3 L16.2 56.5 L15.6 55.1 L15.3 54.3 L14.7 52.8 L14.3 52.1 L13.9 51.0 L13.3 49.8 L13.0 49.0 L12.3 47.6 L11.9 46.8 L11.6 46.0 L10.8 44.5 L10.4 43.8 L10.0 43.0 L9.2 41.8 L8.5 40.9 L7.7 40.0 L7.1 39.2 L6.5 38.5 L5.9 37.7 L5.4 37.0 L4.6 35.9 L3.9 34.7 L3.4 34.0 L2.9 33.2 L2.3 32.2 L1.6 30.9 L1.1 30.2 L0.7 29.4 L0.0 27.9"/><path d="M20.1 74.7 L20.1 73.2 L20.1 71.7 L20.1 70.2 L20.1 68.7 L20.1 67.2 L20.0 66.4 L19.8 64.9 L19.6 63.4 L19.4 61.9 L19.3 60.8 L19.1 59.6 L18.7 58.1 L18.5 57.1 L18.0 55.8 L17.7 55.0 L17.1 53.6 L16.8 52.8 L16.2 51.3 L15.9 50.6 L15.4 49.5 L14.9 48.3 L14.5 47.5 L13.9 46.1 L13.5 45.3 L13.1 44.5 L12.3 43.0 L11.9 42.3 L11.5 41.5 L10.8 40.3 L10.1 39.2 L9.7 38.5 L9.2 37.7 L8.5 36.8 L7.7 35.7 L7.0 34.7 L6.5 34.0 L6.0 33.2 L5.4 32.2 L4.6 31.0 L4.1 30.2 L3.7 29.4 L3.1 28.0 L2.7 27.2 L2.3 26.4 L1.6 24.9 L1.2 24.1 L0.8 23.1 L0.2 21.9"/><path d="M21.3 74.7 L21.3 73.2 L21.3 71.7 L21.3 70.2 L21.3 68.7 L21.3 67.2 L21.1 65.6 L20.9 64.1 L20.8 63.2 L20.6 61.9 L20.5 60.4 L20.2 58.9 L20.0 58.1 L19.7 56.6 L19.3 55.1 L19.2 54.3 L18.8 52.8 L18.5 51.8 L18.0 50.6 L17.7 49.7 L17.1 48.3 L16.8 47.5 L16.2 46.2 L15.8 45.3 L15.4 44.5 L14.7 43.0 L14.3 42.3 L13.9 41.4 L13.1 40.0 L12.7 39.2 L12.2 38.5 L11.6 37.4 L10.9 36.2 L10.5 35.5 L10.0 34.6 L9.2 33.3 L8.6 32.4 L8.1 31.7 L7.6 30.9 L6.9 29.8 L6.4 28.7 L6.0 27.9 L5.4 26.6 L5.0 25.7 L4.6 24.9 L3.9 23.4 L3.5 22.6 L3.1 21.6 L2.5 20.4 L2.2 19.6 L1.5 18.3 L1.1 17.4 L0.7 16.6 L0.0 15.1"/><path d="M22.4 74.7 L22.4 73.2 L22.4 71.7 L22.4 70.2 L22.4 68.7 L22.4 67.2 L22.3 66.4 L22.2 64.9 L22.0 63.4 L21.9 61.9 L21.7 60.4 L21.6 59.5 L21.3 58.1 L21.0 56.6 L20.8 55.5 L20.5 54.3 L20.2 52.8 L20.0 52.1 L19.7 50.6 L19.3 49.0 L19.1 48.3 L18.6 46.8 L18.4 46.0 L17.7 44.5 L17.4 43.8 L17.0 42.8 L16.3 41.5 L16.0 40.7 L15.4 39.7 L14.8 38.5 L14.4 37.7 L13.9 36.8 L13.2 35.5 L12.8 34.7 L12.3 33.8 L11.6 32.5 L11.1 31.7 L10.6 30.9 L10.0 29.9 L9.4 28.7 L9.0 27.9 L8.5 26.7 L8.0 25.7 L7.6 24.9 L6.9 23.5 L6.5 22.6 L6.2 21.7 L5.6 20.4 L5.3 19.6 L4.6 18.1 L4.3 17.4 L3.9 16.4 L3.2 15.1 L2.9 14.3 L2.3 13.2 L1.7 12.1 L1.4 11.3 L0.8 10.2 L0.2 9.1"/><path d="M23.6 74.7 L23.6 73.2 L23.6 71.7 L23.6 70.2 L23.6 68.7 L23.6 67.2 L23.4 65.6 L23.3 64.1 L23.2 62.6 L23.1 61.9 L23.0 60.4 L22.7 58.9 L22.5 57.3 L22.3 56.5 L22.1 55.1 L21.8 53.6 L21.6 52.5 L21.3 51.3 L21.0 49.8 L20.8 48.9 L20.5 47.5 L20.1 46.0 L19.9 45.3 L19.4 43.8 L19.2 43.0 L18.7 41.5 L18.4 40.7 L17.7 39.3 L17.3 38.5 L16.9 37.7 L16.2 36.2 L15.9 35.5 L15.4 34.5 L14.8 33.2 L14.4 32.4 L13.9 31.5 L13.1 30.2 L12.8 29.4 L12.3 28.5 L11.7 27.2 L11.3 26.4 L10.8 25.3 L10.3 24.1 L9.9 23.4 L9.2 21.9 L9.0 21.1 L8.5 19.9 L8.1 18.9 L7.7 18.0 L7.1 16.6 L6.8 15.8 L6.2 14.4 L5.8 13.6 L5.4 12.7 L4.8 11.3 L4.4 10.6 L3.9 9.5 L3.3 8.3 L2.9 7.5 L2.3 6.2 L1.9 5.3 L1.5 4.5 L0.9 3.0 L0.5 2.3 L0.0 1.1"/><path d="M24.7 74.7 L24.7 73.2 L24.7 71.7 L24.7 70.2 L24.7 68.7 L24.7 67.2 L24.7 66.4 L24.6 64.9 L24.4 63.4 L24.3 61.9 L24.2 60.4 L24.0 58.9 L23.9 57.9 L23.7 56.6 L23.5 55.1 L23.2 53.6 L23.1 52.8 L22.8 51.3 L22.6 49.8 L22.3 48.7 L22.1 47.5 L21.8 46.0 L21.6 45.0 L21.3 43.8 L20.8 42.3 L20.6 41.5 L20.1 40.0 L19.9 39.2 L19.3 37.7 L19.1 37.0 L18.5 35.5 L18.2 34.7 L17.7 33.5 L17.2 32.4 L16.9 31.7 L16.2 30.3 L15.8 29.4 L15.4 28.7 L14.7 27.2 L14.3 26.4 L13.9 25.4 L13.3 24.1 L12.9 23.4 L12.3 22.0 L12.0 21.1 L11.6 19.9 L11.2 18.9 L10.8 17.8 L10.3 16.6 L10.0 15.8 L9.4 14.3 L9.1 13.6 L8.5 12.1 L8.1 11.3 L7.7 10.3 L7.1 9.1 L6.8 8.3 L6.2 6.9 L5.8 6.0 L5.4 4.9 L5.0 3.8 L4.6 3.0 L4.0 1.5 L3.7 0.8"/><path d="M25.9 74.7 L25.9 73.2 L25.9 71.7 L25.9 70.2 L25.9 68.7 L25.9 67.2 L25.8 65.6 L25.7 64.1 L25.6 62.6 L25.5 61.1 L25.4 60.0 L25.3 58.9 L25.1 57.3 L24.9 55.8 L24.7 54.3 L24.6 53.6 L24.4 52.1 L24.2 50.6 L24.0 49.0 L23.9 48.3 L23.6 46.8 L23.4 45.3 L23.1 44.0 L22.9 43.0 L22.5 41.5 L22.3 40.7 L21.9 39.2 L21.6 38.1 L21.2 37.0 L20.8 35.5 L20.6 34.7 L20.1 33.2 L19.8 32.4 L19.3 30.9 L19.0 30.2 L18.5 28.9 L18.1 27.9 L17.7 27.2 L17.0 25.7 L16.6 24.9 L16.2 23.9 L15.6 22.6 L15.3 21.9 L14.8 20.4 L14.6 19.6 L14.0 18.1 L13.8 17.4 L13.3 15.8 L13.0 15.1 L12.4 13.6 L12.1 12.8 L11.6 11.4 L11.2 10.6 L10.8 9.5 L10.3 8.3 L10.0 7.5 L9.5 6.0 L9.2 5.3 L8.7 3.8 L8.4 3.0 L7.8 1.5 L7.6 0.8"/><path d="M53.9 21.6 L53.2 21.9 L52.0 22.6 L51.4 23.4 L50.8 24.1 L50.1 25.0 L49.3 26.0 L48.5 26.9 L47.8 27.9 L47.1 28.7 L46.5 29.4 L46.2 30.2 L46.2 31.7 L46.2 33.2 L46.2 34.7 L46.2 36.2 L46.2 37.3 L47.0 38.4 L47.8 39.2 L48.5 39.9 L49.3 40.6 L50.1 41.3 L50.9 41.9 L51.6 42.5 L52.4 43.0 L53.6 43.8 L54.7 44.4 L55.5 43.7 L56.2 42.3 L56.6 41.5 L57.0 40.5 L57.6 39.2 L57.9 38.5 L58.4 37.0 L58.4 35.5 L58.4 34.0 L58.4 32.4 L58.4 30.9 L58.2 29.4 L57.8 27.9 L57.6 27.2 L57.2 25.7 L57.0 24.9 L56.5 23.4 L56.3 22.6 L55.5 21.6 L53.9 21.6"/><path d="M27.0 74.7 L27.0 73.2 L27.0 71.7 L27.0 70.2 L27.0 68.7 L27.0 67.2 L27.0 66.1 L26.9 64.9 L26.8 63.4 L26.8 61.9 L26.7 60.4 L26.6 58.9 L26.4 57.3 L26.3 55.8 L26.2 55.1 L26.0 53.6 L25.9 52.1 L25.7 50.6 L25.6 49.0 L25.4 47.7 L25.3 46.8 L25.1 45.3 L24.9 43.8 L24.7 42.5 L24.5 41.5 L24.1 40.0 L23.9 38.8 L23.6 37.7 L23.3 36.2 L23.1 35.5 L22.7 34.0 L22.3 32.7 L22.1 31.7 L21.6 30.2 L21.3 29.4 L20.8 28.0 L20.5 27.2 L20.0 26.0 L19.6 24.9 L19.2 24.1 L18.6 22.6 L18.3 21.9 L17.9 20.4 L17.7 19.6 L17.2 18.1 L17.0 17.3 L16.5 15.8 L16.2 14.9 L15.7 13.6 L15.4 12.7 L14.9 11.3 L14.6 10.5 L14.1 9.1 L13.8 8.3 L13.3 6.8 L13.1 6.0 L12.6 4.5 L12.3 3.6 L11.9 2.3 L11.6 1.2 L11.2 0.0"/><path d="M53.9 15.1 L53.2 15.3 L51.6 15.8 L50.9 16.1 L49.7 16.6 L48.5 17.1 L47.8 17.4 L46.3 18.1 L45.6 18.9 L45.1 19.6 L44.7 20.4 L43.9 21.9 L43.6 22.6 L43.2 24.1 L43.1 24.9 L42.7 26.4 L42.4 27.9 L42.3 28.7 L42.0 30.2 L41.9 31.7 L41.8 33.2 L41.8 34.7 L41.7 36.2 L41.7 37.7 L41.9 39.2 L42.1 40.7 L42.4 42.0 L42.6 43.0 L42.9 44.5 L43.3 45.3 L43.9 46.4 L44.7 47.5 L45.3 48.3 L46.2 49.0 L47.0 49.2 L48.5 49.6 L49.3 49.8 L50.9 50.2 L52.4 50.5 L53.2 50.7 L54.7 51.0 L55.5 50.6 L56.3 49.8 L57.0 49.0 L57.8 48.1 L58.6 47.2 L59.3 46.3 L60.1 45.3 L60.6 44.5 L60.9 43.8 L61.5 42.3 L61.8 41.5 L62.4 40.0 L62.6 39.2 L63.1 37.7 L63.2 37.0 L63.2 35.5 L63.2 34.0 L63.2 32.4 L63.2 30.9 L63.2 29.6 L63.0 28.7 L62.8 27.2 L62.5 25.7 L62.3 24.9 L62.0 23.4 L61.6 22.2 L61.0 21.1 L60.4 20.4 L59.9 19.6 L59.3 18.9 L58.6 18.0 L57.8 17.2 L57.0 16.4 L56.3 15.7 L55.5 15.1 L53.9 15.1"/><path d="M29.7 74.7 L29.8 73.2 L29.9 71.7 L30.1 70.2 L30.1 69.4 L30.2 67.9 L30.3 66.4 L30.3 64.9 L30.2 63.4 L30.2 61.9 L30.2 60.4 L30.1 59.4 L29.7 58.1 L29.3 56.9 L28.7 55.8 L28.2 55.1 L27.7 54.3 L27.5 52.8 L27.4 51.3 L27.3 49.8 L27.1 48.3 L27.0 46.8 L26.9 46.0 L26.8 44.5 L26.6 43.0 L26.4 41.5 L26.2 40.2 L26.0 39.2 L25.8 37.7 L25.5 36.2 L25.3 35.5 L25.0 34.0 L24.7 32.4 L24.5 31.7 L24.2 30.2 L23.9 29.2 L23.5 27.9 L23.1 26.8 L22.7 25.7 L22.3 24.7 L21.9 23.4 L21.6 22.6 L21.1 21.1 L20.8 20.1 L20.5 18.9 L20.0 17.4 L19.8 16.6 L19.4 15.1 L19.2 14.3 L18.8 12.8 L18.5 11.9 L18.1 10.6 L17.7 9.5 L17.3 8.3 L17.0 7.1 L16.7 6.0 L16.3 4.5 L16.1 3.8 L15.7 2.3 L15.4 1.2 L15.1 0.0"/><path d="M50.1 11.3 L49.3 11.4 L47.8 11.6 L46.2 11.8 L45.5 12.3 L44.7 13.0 L43.9 13.9 L43.2 14.8 L42.6 15.8 L42.1 16.6 L41.6 17.6 L41.0 18.9 L40.6 19.6 L40.1 20.7 L39.5 21.9 L39.3 22.6 L39.0 24.1 L38.8 25.7 L38.5 27.1 L38.4 27.9 L38.2 29.4 L38.0 30.9 L37.8 32.4 L37.8 33.2 L37.6 34.7 L37.4 36.2 L37.3 37.7 L37.3 39.2 L37.3 40.7 L37.4 42.3 L37.4 43.8 L37.5 45.3 L37.8 46.2 L38.1 47.5 L38.5 48.8 L38.9 49.8 L39.3 50.6 L40.1 52.0 L40.8 52.8 L41.6 53.5 L42.4 54.1 L43.2 54.6 L44.0 55.1 L45.5 55.8 L46.2 55.9 L47.8 55.9 L49.3 55.9 L50.9 55.9 L52.4 55.9 L53.9 56.0 L55.0 55.8 L56.3 55.2 L57.0 54.7 L57.8 54.2 L58.6 53.6 L59.6 52.8 L60.5 52.1 L61.1 51.3 L61.8 50.6 L62.4 49.8 L63.2 48.8 L64.0 47.8 L64.7 46.8 L65.1 46.0 L65.6 45.3 L66.1 43.8 L66.3 43.0 L66.7 41.5 L67.0 40.2 L67.3 39.2 L67.6 37.7 L67.7 36.2 L67.7 34.7 L67.7 33.2 L67.7 31.7 L67.7 30.2 L67.5 28.7 L67.3 27.2 L67.1 25.7 L67.0 24.9 L66.8 23.4 L66.5 21.9 L66.2 21.1 L65.6 19.6 L65.3 18.9 L64.7 17.5 L64.3 16.6 L63.8 15.8 L63.2 15.0 L62.3 14.3 L61.2 13.6 L60.1 13.0 L59.3 12.6 L58.3 12.1 L57.0 11.5 L56.3 11.2 L54.7 10.8 L53.2 11.0 L51.6 11.1 L50.1 11.3"/><path d="M33.6 74.7 L33.9 73.2 L34.0 72.4 L34.3 70.9 L34.7 69.4 L34.8 68.7 L35.2 67.2 L35.4 66.2 L35.8 64.9 L36.2 63.6 L36.8 62.6 L37.8 62.3 L39.3 62.3 L40.8 62.3 L42.4 62.3 L43.9 62.3 L45.5 62.3 L47.0 62.0 L47.9 61.9 L49.3 61.6 L50.9 61.3 L52.0 61.1 L53.2 60.9 L54.7 60.7 L55.5 60.4 L56.9 59.6 L57.8 59.2 L58.6 58.7 L59.7 58.1 L60.9 57.3 L61.6 56.8 L62.4 56.2 L63.2 55.7 L64.0 55.0 L64.7 54.3 L65.5 53.6 L66.3 52.8 L67.0 51.9 L67.8 50.7 L68.4 49.8 L68.8 49.0 L69.4 47.9 L69.9 46.8 L70.2 46.0 L70.8 44.5 L70.9 43.8 L71.2 42.3 L71.5 40.7 L71.7 39.6 L71.9 38.5 L72.0 37.0 L72.0 35.5 L72.0 34.0 L72.0 32.4 L72.0 30.9 L72.0 29.4 L71.8 27.9 L71.7 27.2 L71.5 25.7 L71.2 24.1 L71.0 22.6 L70.9 21.8 L70.6 20.4 L70.2 18.9 L70.0 18.1 L69.6 16.6 L69.3 15.8 L68.7 14.3 L68.1 13.6 L67.6 12.8 L67.0 12.1 L66.3 11.3 L65.5 10.5 L64.7 9.8 L63.3 9.1 L62.4 8.7 L61.2 8.3 L60.1 8.0 L58.6 7.6 L57.8 7.2 L56.6 6.8 L55.5 6.3 L53.9 6.2 L52.4 6.2 L50.9 6.2 L49.3 6.2 L47.8 6.2 L46.2 6.2 L45.2 6.8 L44.5 7.5 L43.5 8.3 L42.6 9.1 L41.9 9.8 L41.2 10.6 L40.5 11.3 L40.0 12.1 L39.3 13.0 L38.5 14.3 L38.1 15.1 L37.7 15.8 L37.0 17.4 L36.7 18.1 L36.2 18.9 L35.4 20.2 L34.9 21.1 L34.4 21.9 L33.9 23.0 L33.5 24.1 L33.1 25.0 L32.5 26.4 L32.2 27.2 L31.6 28.2 L30.8 29.4 L30.3 30.2 L29.9 30.9 L29.3 32.1 L28.6 33.2 L28.1 34.0 L27.6 34.0 L27.3 32.4 L27.0 31.3 L26.8 30.2 L26.4 28.7 L26.2 27.9 L25.8 26.4 L25.4 25.3 L25.1 24.1 L24.7 23.0 L24.3 21.9 L23.9 20.4 L23.7 19.6 L23.3 18.1 L23.0 17.4 L22.6 15.8 L22.3 14.9 L22.0 13.6 L21.6 12.2 L21.3 11.3 L20.9 9.8 L20.7 9.1 L20.3 7.5 L20.0 6.5 L19.8 5.3 L19.5 3.8 L19.3 2.5 L19.1 1.5 L18.8 0.0"/><path d="M43.7 0.0 L42.8 0.8 L42.0 1.5 L41.2 2.3 L40.5 3.0 L39.8 3.8 L39.1 4.5 L38.5 5.3 L37.8 6.2 L37.0 7.2 L36.2 8.3 L35.8 9.1 L35.3 9.8 L34.7 10.8 L33.9 12.1 L33.5 12.8 L33.0 13.6 L32.4 14.6 L31.6 15.8 L31.1 16.6 L30.7 17.4 L30.1 18.4 L29.3 19.6 L28.8 20.4 L28.4 21.1 L27.7 22.1 L27.2 21.1 L26.9 20.4 L26.5 18.9 L26.2 17.9 L25.8 16.6 L25.4 15.2 L25.2 14.3 L24.8 12.8 L24.6 12.1 L24.1 10.6 L23.9 9.7 L23.5 8.3 L23.1 6.9 L22.9 6.0 L22.6 4.5 L22.3 3.6 L22.1 2.3 L21.7 0.8"/><path d="M41.1 74.7 L42.0 73.9 L42.9 73.2 L43.8 72.4 L44.7 71.7 L45.5 71.1 L46.2 70.4 L47.0 69.6 L47.8 68.9 L48.5 68.3 L49.3 67.8 L50.5 67.2 L51.6 66.8 L53.2 66.4 L53.9 66.2 L55.5 65.7 L56.3 65.4 L57.3 64.9 L58.6 64.3 L59.3 63.9 L60.4 63.4 L61.6 62.7 L62.4 62.2 L63.2 61.8 L64.3 61.1 L65.5 60.4 L66.3 59.8 L67.0 59.3 L67.8 58.7 L68.6 58.0 L69.4 57.3 L70.1 56.5 L70.9 55.6 L71.7 54.7 L72.4 53.6 L73.0 52.8 L73.6 52.1 L74.3 51.3 L75.1 50.6 L75.8 49.8 L76.5 49.0 L77.1 48.3 L77.8 47.3 L78.6 46.1 L79.1 45.3 L79.4 44.5 L79.6 43.0 L79.8 41.5 L79.9 40.0 L80.0 38.5 L80.1 37.0 L80.1 35.5 L80.1 34.0 L80.1 32.4 L80.1 30.9 L80.1 29.4 L80.0 27.9 L79.8 26.4 L79.7 24.9 L79.5 23.4 L79.4 22.6 L78.8 21.1 L78.5 20.4 L77.9 18.9 L77.6 18.1 L77.1 16.8 L76.7 15.8 L76.3 15.0 L75.5 13.9 L74.7 12.9 L74.0 12.1 L73.4 11.3 L73.0 10.6 L72.4 9.5 L71.7 8.4 L71.0 7.5 L70.6 6.8 L70.1 5.9 L69.4 4.7 L68.7 3.8 L68.0 3.0 L67.2 2.3 L66.3 1.5 L65.5 0.9 L64.7 0.4 L63.8 0.0"/><path d="M34.8 0.0 L34.4 0.8 L33.9 1.5 L33.1 2.7 L32.5 3.8 L32.0 4.5 L31.6 5.3 L30.8 6.5 L30.2 7.5 L29.7 8.3 L29.3 9.1 L28.5 10.3 L27.9 11.3 L27.6 11.3 L27.0 10.0 L26.7 9.1 L26.3 7.5 L26.1 6.8 L25.7 5.3 L25.4 4.3 L25.1 3.0 L24.7 1.5 L24.6 0.8"/><path d="M91.7 5.8 L90.9 5.2 L90.1 4.5 L89.2 3.8 L88.2 3.0 L87.3 2.3 L86.4 1.5 L85.5 0.8 L84.8 0.2"/><path d="M53.2 74.7 L54.1 73.9 L55.1 73.2 L56.1 72.4 L57.0 71.8 L57.8 71.2 L58.6 70.7 L59.5 70.2 L60.7 69.4 L61.6 68.9 L62.4 68.5 L63.5 67.9 L64.7 67.2 L65.5 66.7 L66.3 66.2 L67.1 65.6 L68.3 64.9 L69.4 64.2 L70.1 63.7 L70.9 63.2 L71.8 62.6 L72.9 61.9 L74.0 61.5 L75.5 61.2 L76.3 61.1 L77.8 60.9 L79.4 60.6 L80.8 60.4 L81.7 60.2 L83.2 60.0 L84.8 60.0 L86.3 60.0 L87.8 60.0 L89.4 60.0 L90.9 60.0"/><path d="M28.3 0.0 L27.7 0.9 L27.3 0.0"/><path d="M63.0 74.7 L64.0 74.1 L64.7 73.7 L66.1 73.2 L67.0 72.7 L67.8 72.4 L69.1 71.7 L70.1 71.0 L70.9 70.5 L71.7 69.9 L72.4 69.3 L73.2 68.6 L74.7 68.0 L75.5 67.8 L77.1 67.4 L78.2 67.2 L79.4 67.0 L80.9 66.7 L82.5 66.5 L84.0 66.5 L85.5 66.5 L87.1 66.5 L88.6 66.5 L90.2 66.5 L91.7 66.5"/></g></svg></div><div style="position:absolute;left:34.70px;top:236.00px;width:92.30px;height:75.30px;border:0.5px solid rgba(60,60,60,0.5);box-sizing:border-box"></div>
<svg width="500" height="333" style="position:absolute;left:0;top:0"><g stroke="#444" stroke-width="0.6"><line x1="33.80" y1="311.00" x2="35.00" y2="311.00"/><line x1="33.00" y1="303.53" x2="35.00" y2="303.53"/><line x1="33.80" y1="296.06" x2="35.00" y2="296.06"/><line x1="33.00" y1="288.59" x2="35.00" y2="288.59"/><line x1="33.80" y1="281.12" x2="35.00" y2="281.12"/><line x1="33.00" y1="273.65" x2="35.00" y2="273.65"/><line x1="33.80" y1="266.18" x2="35.00" y2="266.18"/><line x1="33.00" y1="258.71" x2="35.00" y2="258.71"/><line x1="33.80" y1="251.24" x2="35.00" y2="251.24"/><line x1="33.00" y1="243.77" x2="35.00" y2="243.77"/><line x1="33.80" y1="236.30" x2="35.00" y2="236.30"/><line x1="35.00" y1="311.00" x2="35.00" y2="313.00"/><line x1="44.17" y1="311.00" x2="44.17" y2="312.20"/><line x1="53.34" y1="311.00" x2="53.34" y2="313.00"/><line x1="62.51" y1="311.00" x2="62.51" y2="312.20"/><line x1="71.68" y1="311.00" x2="71.68" y2="313.00"/><line x1="80.85" y1="311.00" x2="80.85" y2="312.20"/><line x1="90.02" y1="311.00" x2="90.02" y2="313.00"/><line x1="99.19" y1="311.00" x2="99.19" y2="312.20"/><line x1="108.36" y1="311.00" x2="108.36" y2="313.00"/><line x1="117.53" y1="311.00" x2="117.53" y2="312.20"/><line x1="126.70" y1="311.00" x2="126.70" y2="313.00"/></g></svg>
<div class="t s" style="left:30.40px;top:299.23px;font-size:7.3px;color:#2a2a2a;width:0"><span style="position:absolute;right:0">0.2</span></div>
<div class="t s" style="left:30.40px;top:284.29px;font-size:7.3px;color:#2a2a2a;width:0"><span style="position:absolute;right:0">0.4</span></div>
<div class="t s" style="left:30.40px;top:269.35px;font-size:7.3px;color:#2a2a2a;width:0"><span style="position:absolute;right:0">0.6</span></div>
<div class="t s" style="left:30.40px;top:254.41px;font-size:7.3px;color:#2a2a2a;width:0"><span style="position:absolute;right:0">0.8</span></div>
<div class="t s" style="left:30.40px;top:239.47px;font-size:7.3px;color:#2a2a2a;width:0"><span style="position:absolute;right:0">1.0</span></div>
<div class="t s" style="left:35.00px;top:314.9px;font-size:7.3px;color:#2a2a2a;width:0"><span style="position:absolute;left:0;transform:translateX(-50%)">0.0</span></div>
<div class="t s" style="left:53.34px;top:314.9px;font-size:7.3px;color:#2a2a2a;width:0"><span style="position:absolute;left:0;transform:translateX(-50%)">0.2</span></div>
<div class="t s" style="left:71.68px;top:314.9px;font-size:7.3px;color:#2a2a2a;width:0"><span style="position:absolute;left:0;transform:translateX(-50%)">0.4</span></div>
<div class="t s" style="left:90.02px;top:314.9px;font-size:7.3px;color:#2a2a2a;width:0"><span style="position:absolute;left:0;transform:translateX(-50%)">0.6</span></div>
<div class="t s" style="left:108.36px;top:314.9px;font-size:7.3px;color:#2a2a2a;width:0"><span style="position:absolute;left:0;transform:translateX(-50%)">0.8</span></div>
<div class="t s" style="left:126.70px;top:314.9px;font-size:7.3px;color:#2a2a2a;width:0"><span style="position:absolute;left:0;transform:translateX(-50%)">1.0</span></div>
<div class="t s" style="left:80.8px;top:224.8px;width:0;font-size:7.9px;color:#333"><span style="position:absolute;left:0;transform:translateX(-50%)">ordered (950.9 &Aring;)</span></div>
<div class="t s" style="left:1.7px;top:224.0px;font-size:10.0px;color:#000;font-weight:bold;-webkit-text-stroke:0.35px #000">i</div>
<div class="t r" style="left:78.3px;top:322.6px;font-size:8.8px;color:#333;font-style:italic">&eta;</div>
<div class="t s" style="left:11.5px;top:273.7px;width:0;height:0;font-size:8px;color:#2a2a2a"><span style="position:absolute;left:0;top:0;display:inline-block;transform:translate(-50%,-50%) rotate(-90deg);white-space:nowrap"><i>B</i><sub style="font-size:5px">iso</sub> (&Aring;<sup style="font-size:5px">2</sup>)</span></div>
<div style="position:absolute;left:140.2px;top:255.2px;width:3.4px;height:48.8px;background:linear-gradient(to bottom,#f0f921,#fca636 20%,#e16462 40%,#b12a90 60%,#6a00a8 80%,#0d0887)"></div>
<div class="t s" style="left:137.2px;top:234.2px;font-size:8.8px;color:#333;"><i>R</i><sub style="font-size:5px;vertical-align:-1.2px"><i>w</i></sub></div>
<div class="t s" style="left:141.90px;top:246.7px;font-size:7.3px;color:#2a2a2a;width:0"><span style="position:absolute;left:0;transform:translateX(-50%)">0.422</span></div>
<div class="t s" style="left:141.90px;top:304.9px;font-size:7.3px;color:#2a2a2a;width:0"><span style="position:absolute;left:0;transform:translateX(-50%)">0.178</span></div>
<div style="position:absolute;left:209.70px;top:236.30px;width:92.10px;height:74.70px;overflow:hidden"><div style="position:absolute;left:0;top:0px;width:100%;height:1.05px;background:linear-gradient(90deg,#f0f921 0%,#f6e826 4%,#fbd724 9%,#fdc627 13%,#feb72d 17%,#fca934 22%,#fa9c3c 26%,#f79044 30%,#f3854b 35%,#ee7b51 39%,#e97257 43%,#e56a5d 48%,#e06363 52%,#dc5d67 57%,#d8576b 61%,#d45270 65%,#d04d73 70%,#cd4a76 74%,#cb4679 78%,#c9447a 83%,#c8437b 87%,#c7427c 91%,#c6417d 96%,#c5407e 100%)"></div><div style="position:absolute;left:0;top:1px;width:100%;height:1.05px;background:linear-gradient(90deg,#f0f724 0%,#f6e626 4%,#fbd524 9%,#fdc527 13%,#fdb52e 17%,#fca835 22%,#fa9b3d 26%,#f68f44 30%,#f2844b 35%,#ed7a52 39%,#e97158 43%,#e4695e 48%,#df6263 52%,#da5b69 57%,#d6556d 61%,#d35171 65%,#cf4c74 70%,#cc4977 74%,#ca457a 78%,#c8437b 83%,#c7427c 87%,#c6417d 91%,#c5407e 96%,#c43e7f 100%)"></div><div style="position:absolute;left:0;top:2px;width:100%;height:1.05px;background:linear-gradient(90deg,#f1f525 0%,#f7e425 4%,#fbd324 9%,#fdc328 13%,#fdb42f 17%,#fca636 22%,#f99a3e 26%,#f68d45 30%,#f1834c 35%,#ed7953 39%,#e87059 43%,#e3685f 48%,#de6164 52%,#da5a6a 57%,#d5546e 61%,#d14e72 65%,#cd4a76 70%,#cb4679 74%,#c9447a 78%,#c7427c 83%,#c5407e 87%,#c43e7f 91%,#c33d80 96%,#c23c81 100%)"></div><div style="position:absolute;left:0;top:3px;width:100%;height:1.05px;background:linear-gradient(90deg,#f1f525 0%,#f7e225 4%,#fcd225 9%,#fdc229 13%,#fdb22f 17%,#fca537 22%,#f9983e 26%,#f58c46 30%,#f1814d 35%,#ec7754 39%,#e76f5a 43%,#e26660 48%,#dd5e66 52%,#d9586a 57%,#d5536f 61%,#d04d73 65%,#cc4977 70%,#ca457a 74%,#c7427c 78%,#c5407e 83%,#c43e7f 87%,#c33d80 91%,#c23c81 96%,#c13b82 100%)"></div><div style="position:absolute;left:0;top:4px;width:100%;height:1.05px;background:linear-gradient(90deg,#f1f426 0%,#f8e125 4%,#fcd025 9%,#fec029 13%,#fdb130 17%,#fca338 22%,#f9973f 26%,#f58b47 30%,#f0804e 35%,#eb7655 39%,#e66c5c 43%,#e26561 48%,#dc5d67 52%,#d7566c 57%,#d35171 61%,#cf4c74 65%,#cc4778 70%,#c8437b 74%,#c6417d 78%,#c43e7f 83%,#c23c81 87%,#c13b82 91%,#c13b82 96%,#bf3984 100%)"></div><div style="position:absolute;left:0;top:5px;width:100%;height:1.05px;background:linear-gradient(90deg,#f2f227 0%,#f8df25 4%,#fcce25 9%,#febe2a 13%,#fdaf31 17%,#fba238 22%,#f89540 26%,#f48948 30%,#f07f4f 35%,#eb7556 39%,#e56b5d 43%,#e06363 48%,#db5c68 52%,#d6556d 57%,#d24f71 61%,#cd4a76 65%,#ca457a 70%,#c7427c 74%,#c43e7f 78%,#c23c81 83%,#c13b82 87%,#c03a83 91%,#bf3984 96%,#be3885 100%)"></div><div style="position:absolute;left:0;top:6px;width:100%;height:1.05px;background:linear-gradient(90deg,#f3f027 0%,#f8df25 4%,#fccd25 9%,#febd2a 13%,#fdae32 17%,#fba139 22%,#f89441 26%,#f48849 30%,#ef7e50 35%,#ea7457 39%,#e56a5d 43%,#df6263 48%,#da5b69 52%,#d5546e 57%,#d04d73 61%,#cc4977 65%,#c9447a 70%,#c5407e 74%,#c33d80 78%,#c13b82 83%,#bf3984 87%,#bf3984 91%,#be3885 96%,#bc3587 100%)"></div><div style="position:absolute;left:0;top:7px;width:100%;height:1.05px;background:linear-gradient(90deg,#f3ee27 0%,#f9dd25 4%,#fdcb26 9%,#febb2b 13%,#fdae32 17%,#fb9f3a 22%,#f79342 26%,#f3874a 30%,#ef7c51 35%,#e97158 39%,#e4695e 43%,#de6164 48%,#d9586a 52%,#d45270 57%,#cf4c74 61%,#cb4679 65%,#c7427c 70%,#c43e7f 74%,#c13b82 78%,#bf3984 83%,#be3885 87%,#bd3786 91%,#bc3587 96%,#bb3488 100%)"></div><div style="position:absolute;left:0;top:8px;width:100%;height:1.05px;background:linear-gradient(90deg,#f4ed27 0%,#f9dc24 4%,#fdcb26 9%,#feba2c 13%,#fdac33 17%,#fa9e3b 22%,#f79143 26%,#f3854b 30%,#ed7a52 35%,#e87059 39%,#e3685f 43%,#de5f65 48%,#d8576b 52%,#d35171 57%,#ce4b75 61%,#ca457a 65%,#c6417d 70%,#c33d80 74%,#c03a83 78%,#be3885 83%,#bc3587 87%,#bc3587 91%,#bb3488 96%,#b83289 100%)"></div><div style="position:absolute;left:0;top:9px;width:100%;height:1.05px;background:linear-gradient(90deg,#f4ed27 0%,#fada24 4%,#fdca26 9%,#feb82c 13%,#fdab33 17%,#fa9c3c 22%,#f79044 26%,#f2844b 30%,#ed7953 35%,#e76f5a 39%,#e26660 43%,#dc5d67 48%,#d7566c 52%,#d24f71 57%,#cc4977 61%,#c9447a 65%,#c5407e 70%,#c13b82 74%,#be3885 78%,#bc3587 83%,#bb3488 87%,#ba3388 91%,#b83289 96%,#b7318a 100%)"></div><div style="position:absolute;left:0;top:10px;width:100%;height:1.05px;background:linear-gradient(90deg,#f5eb27 0%,#fad824 4%,#fdc827 9%,#feb82c 13%,#fca934 17%,#fa9b3d 22%,#f68f44 26%,#f1834c 30%,#ec7754 35%,#e76e5b 39%,#e16462 43%,#db5c68 48%,#d5546e 52%,#d04d73 57%,#cc4778 61%,#c7427c 65%,#c33d80 70%,#c03a83 74%,#bd3786 78%,#bb3488 83%,#b83289 87%,#b7318a 91%,#b7318a 96%,#b52f8c 100%)"></div><div style="position:absolute;left:0;top:11px;width:100%;height:1.05px;background:linear-gradient(90deg,#f5e926 0%,#fbd724 4%,#fdc627 9%,#feb72d 13%,#fca835 17%,#f99a3e 22%,#f68d45 26%,#f1814d 30%,#eb7655 35%,#e66c5c 39%,#e06363 43%,#da5b69 48%,#d5536f 52%,#cf4c74 57%,#cb4679 61%,#c6417d 65%,#c23c81 70%,#be3885 74%,#bb3488 78%,#b83289 83%,#b7318a 87%,#b6308b 91%,#b52f8c 96%,#b42e8d 100%)"></div><div style="position:absolute;left:0;top:12px;width:100%;height:1.05px;background:linear-gradient(90deg,#f6e826 0%,#fbd524 4%,#fdc527 9%,#fdb52e 13%,#fca636 17%,#f9983e 22%,#f58c46 26%,#f0804e 30%,#eb7556 35%,#e56b5d 39%,#df6263 43%,#da5a6a 48%,#d45270 52%,#ce4b75 57%,#c9447a 61%,#c43e7f 65%,#c03a83 70%,#bd3786 74%,#ba3388 78%,#b7318a 83%,#b52f8c 87%,#b42e8d 91%,#b32c8e 96%,#b22b8f 100%)"></div><div style="position:absolute;left:0;top:13px;width:100%;height:1.05px;background:linear-gradient(90deg,#f6e626 0%,#fbd524 4%,#fdc328 9%,#fdb42f 13%,#fca537 17%,#f9973f 22%,#f58b47 26%,#f07f4f 30%,#ea7457 35%,#e56a5d 39%,#de6164 43%,#d8576b 48%,#d35171 52%,#cc4977 57%,#c8437b 61%,#c33d80 65%,#bf3984 70%,#bb3488 74%,#b7318a 78%,#b52f8c 83%,#b42e8d 87%,#b32c8e 91%,#b22b8f 96%,#b12a90 100%)"></div><div style="position:absolute;left:0;top:14px;width:100%;height:1.05px;background:linear-gradient(90deg,#f6e626 0%,#fbd324 4%,#fdc229 9%,#fdb22f 13%,#fca338 17%,#f89540 22%,#f48948 26%,#ef7c51 30%,#e97257 35%,#e3685f 39%,#dd5e66 43%,#d7566c 48%,#d14e72 52%,#cc4778 57%,#c6417d 61%,#c13b82 65%,#bd3786 70%,#ba3388 74%,#b6308b 78%,#b42e8d 83%,#b22b8f 87%,#b12a90 91%,#b02991 96%,#ae2892 100%)"></div><div style="position:absolute;left:0;top:15px;width:100%;height:1.05px;background:linear-gradient(90deg,#f7e425 0%,#fcd225 4%,#fec029 9%,#fdb130 13%,#fba238 17%,#f89441 22%,#f48849 26%,#ee7b51 30%,#e97158 35%,#e26660 39%,#dc5d67 43%,#d6556d 48%,#d04d73 52%,#cb4679 57%,#c5407e 61%,#c03a83 65%,#bc3587 70%,#b7318a 74%,#b42e8d 78%,#b22b8f 83%,#b02991 87%,#b02991 91%,#ae2892 96%,#ad2793 100%)"></div><div style="position:absolute;left:0;top:16px;width:100%;height:1.05px;background:linear-gradient(90deg,#f7e225 0%,#fcd025 4%,#febe2a 9%,#fdaf31 13%,#fba139 17%,#f79342 22%,#f3874a 26%,#ed7a52 30%,#e76f5a 35%,#e26561 39%,#db5c68 43%,#d5536f 48%,#cf4c74 52%,#c9447a 57%,#c33d80 61%,#be3885 65%,#ba3388 70%,#b52f8c 74%,#b32c8e 78%,#b02991 83%,#ae2892 87%,#ad2793 91%,#ac2694 96%,#ab2494 100%)"></div><div style="position:absolute;left:0;top:17px;width:100%;height:1.05px;background:linear-gradient(90deg,#f8e125 0%,#fcce25 4%,#febe2a 9%,#fdae32 13%,#fb9f3a 17%,#f79143 22%,#f2844b 26%,#ed7953 30%,#e76e5b 35%,#e16462 39%,#da5b69 43%,#d45270 48%,#cd4a76 52%,#c8437b 57%,#c23c81 61%,#bd3786 65%,#b83289 70%,#b42e8d 74%,#b12a90 78%,#ae2892 83%,#ac2694 87%,#ab2494 91%,#aa2395 96%,#a82296 100%)"></div><div style="position:absolute;left:0;top:18px;width:100%;height:1.05px;background:linear-gradient(90deg,#f8df25 0%,#fccd25 4%,#febd2a 9%,#fdac33 13%,#fa9e3b 17%,#f79044 22%,#f1834c 26%,#ec7754 30%,#e66c5c 35%,#e06363 39%,#da5a6a 43%,#d35171 48%,#cc4977 52%,#c6417d 57%,#c13b82 61%,#bb3488 65%,#b6308b 70%,#b22b8f 74%,#ae2892 78%,#ac2694 83%,#ab2494 87%,#aa2395 91%,#a82296 96%,#a72197 100%)"></div><div style="position:absolute;left:0;top:19px;width:100%;height:1.05px;background:linear-gradient(90deg,#f9dd25 0%,#fdcb26 4%,#febb2b 9%,#fdab33 13%,#fa9c3c 17%,#f68f44 22%,#f1814d 26%,#eb7655 30%,#e56b5d 35%,#de6164 39%,#d8576b 43%,#d24f71 48%,#cb4679 52%,#c5407e 57%,#bf3984 61%,#ba3388 65%,#b42e8d 70%,#b12a90 74%,#ad2793 78%,#aa2395 83%,#a82296 87%,#a72197 91%,#a62098 96%,#a51f99 100%)"></div><div style="position:absolute;left:0;top:20px;width:100%;height:1.05px;background:linear-gradient(90deg,#f9dd25 0%,#fdcb26 4%,#feba2c 9%,#fca934 13%,#fa9b3d 17%,#f68d45 22%,#f0804e 26%,#eb7556 30%,#e56a5d 35%,#de5f65 39%,#d7566c 43%,#d04d73 48%,#ca457a 52%,#c43e7f 57%,#be3885 61%,#b7318a 65%,#b32c8e 70%,#ae2892 74%,#ab2494 78%,#a82296 83%,#a62098 87%,#a51f99 91%,#a51f99 96%,#a21d9a 100%)"></div><div style="position:absolute;left:0;top:21px;width:100%;height:1.05px;background:linear-gradient(90deg,#f9dc24 0%,#fdca26 4%,#feb82c 9%,#fca835 13%,#f99a3e 17%,#f58c46 22%,#f07f4f 26%,#ea7457 30%,#e4695e 35%,#dd5e66 39%,#d6556d 43%,#cf4c74 48%,#c9447a 52%,#c23c81 57%,#bc3587 61%,#b6308b 65%,#b12a90 70%,#ac2694 74%,#a82296 78%,#a62098 83%,#a51f99 87%,#a31e9a 91%,#a21d9a 96%,#a11b9b 100%)"></div><div style="position:absolute;left:0;top:22px;width:100%;height:1.05px;background:linear-gradient(90deg,#fada24 0%,#fdc827 4%,#feb72d 9%,#fca835 13%,#f9983e 17%,#f58b47 22%,#ef7e50 26%,#e97257 30%,#e3685f 35%,#dc5d67 39%,#d5546e 43%,#ce4b75 48%,#c7427c 52%,#c13b82 57%,#bb3488 61%,#b42e8d 65%,#b02991 70%,#ab2494 74%,#a72197 78%,#a31e9a 83%,#a21d9a 87%,#a11b9b 91%,#a01a9c 96%,#9e199d 100%)"></div><div style="position:absolute;left:0;top:23px;width:100%;height:1.05px;background:linear-gradient(90deg,#fad824 0%,#fdc627 4%,#fdb52e 9%,#fca636 13%,#f9973f 17%,#f48948 22%,#ef7c51 26%,#e97158 30%,#e26561 35%,#db5c68 39%,#d45270 43%,#cc4977 48%,#c6417d 52%,#bf3984 57%,#b83289 61%,#b32c8e 65%,#ad2793 70%,#a82296 74%,#a51f99 78%,#a21d9a 83%,#a01a9c 87%,#9e199d 91%,#9d189d 96%,#9c179e 100%)"></div><div style="position:absolute;left:0;top:24px;width:100%;height:1.05px;background:linear-gradient(90deg,#fbd724 0%,#fdc527 4%,#fdb42f 9%,#fca537 13%,#f89540 17%,#f48849 22%,#ee7b51 26%,#e87059 30%,#e16462 35%,#da5a6a 39%,#d35171 43%,#cc4778 48%,#c5407e 52%,#be3885 57%,#b7318a 61%,#b12a90 65%,#ab2494 70%,#a72197 74%,#a21d9a 78%,#a01a9c 83%,#9d189d 87%,#9d189d 91%,#9c179e 96%,#9a169f 100%)"></div><div style="position:absolute;left:0;top:25px;width:100%;height:1.05px;background:linear-gradient(90deg,#fbd524 0%,#fdc328 4%,#fdb22f 9%,#fca338 13%,#f89441 17%,#f3874a 22%,#ed7a52 26%,#e76e5b 30%,#e06363 35%,#d9586a 39%,#d24f71 43%,#cb4679 48%,#c33d80 52%,#bc3587 57%,#b52f8c 61%,#b02991 65%,#aa2395 70%,#a51f99 74%,#a11b9b 78%,#9d189d 83%,#9c179e 87%,#9a169f 91%,#99159f 96%,#9814a0 100%)"></div><div style="position:absolute;left:0;top:26px;width:100%;height:1.05px;background:linear-gradient(90deg,#fbd524 0%,#fdc229 4%,#fdb22f 9%,#fba238 13%,#f79342 17%,#f3854b 22%,#ed7953 26%,#e66c5c 30%,#df6263 35%,#d8576b 39%,#d14e72 43%,#c9447a 48%,#c23c81 52%,#bb3488 57%,#b42e8d 61%,#ad2793 65%,#a72197 70%,#a21d9a 74%,#9e199d 78%,#9a169f 83%,#99159f 87%,#9814a0 91%,#9613a1 96%,#9511a1 100%)"></div><div style="position:absolute;left:0;top:27px;width:100%;height:1.05px;background:linear-gradient(90deg,#fbd324 0%,#fdc229 4%,#fdb130 9%,#fba139 13%,#f79143 17%,#f2844b 22%,#ec7754 26%,#e56b5d 30%,#de6164 35%,#d7566c 39%,#cf4c74 43%,#c8437b 48%,#c03a83 52%,#b83289 57%,#b22b8f 61%,#ab2494 65%,#a51f99 70%,#a01a9c 74%,#9c179e 78%,#99159f 83%,#9613a1 87%,#9511a1 91%,#9410a2 96%,#920fa3 100%)"></div><div style="position:absolute;left:0;top:28px;width:100%;height:1.05px;background:linear-gradient(90deg,#fcd225 0%,#fec029 4%,#fdaf31 9%,#fb9f3a 13%,#f79044 17%,#f1834c 22%,#eb7655 26%,#e56a5d 30%,#de5f65 35%,#d6556d 39%,#ce4b75 43%,#c7427c 48%,#bf3984 52%,#b7318a 57%,#b02991 61%,#aa2395 65%,#a31e9a 70%,#9e199d 74%,#99159f 78%,#9613a1 83%,#9410a2 87%,#920fa3 91%,#910ea3 96%,#8f0da4 100%)"></div><div style="position:absolute;left:0;top:29px;width:100%;height:1.05px;background:linear-gradient(90deg,#fcd025 0%,#febe2a 4%,#fdae32 9%,#fa9e3b 13%,#f68f44 17%,#f1814d 22%,#eb7556 26%,#e4695e 30%,#dd5e66 35%,#d5536f 39%,#cd4a76 43%,#c5407e 48%,#be3885 52%,#b52f8c 57%,#ae2892 61%,#a72197 65%,#a11b9b 70%,#9c179e 74%,#9814a0 78%,#9410a2 83%,#910ea3 87%,#910ea3 91%,#8f0da4 96%,#8e0ca4 100%)"></div><div style="position:absolute;left:0;top:30px;width:100%;height:1.05px;background:linear-gradient(90deg,#fcce25 0%,#febd2a 4%,#fdac33 9%,#fa9c3c 13%,#f68d45 17%,#f0804e 22%,#ea7457 26%,#e3685f 30%,#db5c68 35%,#d45270 39%,#cc4778 43%,#c43e7f 48%,#bc3587 52%,#b42e8d 57%,#ac2694 61%,#a51f99 65%,#9e199d 70%,#99159f 74%,#9511a1 78%,#910ea3 83%,#8f0da4 87%,#8e0ca4 91%,#8d0ba5 96%,#8b0aa5 100%)"></div><div style="position:absolute;left:0;top:31px;width:100%;height:1.05px;background:linear-gradient(90deg,#fccd25 0%,#febb2b 4%,#fdab33 9%,#fa9b3d 13%,#f68d45 17%,#f07f4f 22%,#e97257 26%,#e26660 30%,#da5b69 35%,#d35171 39%,#cb4679 43%,#c33d80 48%,#bb3488 52%,#b22b8f 57%,#ab2494 61%,#a31e9a 65%,#9d189d 70%,#9613a1 74%,#920fa3 78%,#8e0ca4 83%,#8d0ba5 87%,#8b0aa5 91%,#8a09a5 96%,#8808a6 100%)"></div><div style="position:absolute;left:0;top:32px;width:100%;height:1.05px;background:linear-gradient(90deg,#fccd25 0%,#feba2c 4%,#fca934 9%,#f99a3e 13%,#f58c46 17%,#ef7e50 22%,#e97158 26%,#e26561 30%,#da5a6a 35%,#d24f71 39%,#ca457a 43%,#c13b82 48%,#b83289 52%,#b12a90 57%,#a82296 61%,#a11b9b 65%,#9a169f 70%,#9410a2 74%,#8f0da4 78%,#8b0aa5 83%,#8a09a5 87%,#8808a6 91%,#8707a6 96%,#8606a6 100%)"></div><div style="position:absolute;left:0;top:33px;width:100%;height:1.05px;background:linear-gradient(90deg,#fdcb26 0%,#feb82c 4%,#fca835 9%,#f9983e 13%,#f58b47 17%,#ef7c51 22%,#e87059 26%,#e16462 30%,#d9586a 35%,#d14e72 39%,#c9447a 43%,#c03a83 48%,#b7318a 52%,#ae2892 57%,#a72197 61%,#9e199d 65%,#9814a0 70%,#920fa3 74%,#8d0ba5 78%,#8808a6 83%,#8707a6 87%,#8606a6 91%,#8405a7 96%,#8305a7 100%)"></div><div style="position:absolute;left:0;top:34px;width:100%;height:1.05px;background:linear-gradient(90deg,#fdca26 0%,#feb82c 4%,#fca636 9%,#f9973f 13%,#f48948 17%,#ee7b51 22%,#e76f5a 26%,#e06363 30%,#d8576b 35%,#cf4c74 39%,#c7427c 43%,#bf3984 48%,#b52f8c 52%,#ad2793 57%,#a51f99 61%,#9d189d 65%,#9511a1 70%,#8f0da4 74%,#8a09a5 78%,#8606a6 83%,#8405a7 87%,#8305a7 91%,#8104a7 96%,#8004a8 100%)"></div><div style="position:absolute;left:0;top:35px;width:100%;height:1.05px;background:linear-gradient(90deg,#fdc827 0%,#feb72d 4%,#fca636 9%,#f9973f 13%,#f48849 17%,#ed7a52 22%,#e76e5b 26%,#df6263 30%,#d7566c 35%,#ce4b75 39%,#c6417d 43%,#bd3786 48%,#b42e8d 52%,#ab2494 57%,#a21d9a 61%,#9a169f 65%,#920fa3 70%,#8d0ba5 74%,#8707a6 78%,#8305a7 83%,#8104a7 87%,#8004a8 91%,#7e03a8 96%,#7d03a8 100%)"></div><div style="position:absolute;left:0;top:36px;width:100%;height:1.05px;background:linear-gradient(90deg,#fdc627 0%,#fdb52e 4%,#fca537 9%,#f89540 13%,#f3874a 17%,#ed7953 22%,#e66c5c 26%,#de5f65 30%,#d6556d 35%,#cd4a76 39%,#c5407e 43%,#bc3587 48%,#b32c8e 52%,#aa2395 57%,#a11b9b 61%,#9814a0 65%,#910ea3 70%,#8a09a5 74%,#8405a7 78%,#8004a8 83%,#7e03a8 87%,#7d03a8 91%,#7b02a8 96%,#7a02a8 100%)"></div><div style="position:absolute;left:0;top:37px;width:100%;height:1.05px;background:linear-gradient(90deg,#fdc527 0%,#fdb42f 4%,#fca338 9%,#f89441 13%,#f3854b 17%,#ec7754 22%,#e56b5d 26%,#dd5e66 30%,#d5536f 35%,#cc4977 39%,#c33d80 43%,#bb3488 48%,#b12a90 52%,#a72197 57%,#9e199d 61%,#9511a1 65%,#8e0ca4 70%,#8707a6 74%,#8104a7 78%,#7d03a8 83%,#7b02a8 87%,#7a02a8 91%,#7801a8 96%,#7701a8 100%)"></div><div style="position:absolute;left:0;top:38px;width:100%;height:1.05px;background:linear-gradient(90deg,#fdc527 0%,#fdb22f 4%,#fba238 9%,#f79342 13%,#f2844b 17%,#eb7655 22%,#e56a5d 26%,#dc5d67 30%,#d45270 35%,#cc4778 39%,#c23c81 43%,#b83289 48%,#b02991 52%,#a62098 57%,#9c179e 61%,#9410a2 65%,#8b0aa5 70%,#8405a7 74%,#7e03a8 78%,#7a02a8 83%,#7701a8 87%,#7701a8 91%,#7501a8 96%,#7401a8 100%)"></div><div style="position:absolute;left:0;top:39px;width:100%;height:1.05px;background:linear-gradient(90deg,#fdc328 0%,#fdb130 4%,#fba139 9%,#f79143 13%,#f1834c 17%,#eb7556 22%,#e4695e 26%,#db5c68 30%,#d35171 35%,#ca457a 39%,#c13b82 43%,#b7318a 48%,#ad2793 52%,#a31e9a 57%,#9a169f 61%,#910ea3 65%,#8808a6 70%,#8104a7 74%,#7b02a8 78%,#7701a8 83%,#7401a8 87%,#7201a8 91%,#7100a8 96%,#6f00a8 100%)"></div><div style="position:absolute;left:0;top:40px;width:100%;height:1.05px;background:linear-gradient(90deg,#fdc229 0%,#fdaf31 4%,#fb9f3a 9%,#f79044 13%,#f1814d 17%,#ea7457 22%,#e26660 26%,#da5b69 30%,#d24f71 35%,#c9447a 39%,#c03a83 43%,#b52f8c 48%,#ac2694 52%,#a21d9a 57%,#9814a0 61%,#8e0ca4 65%,#8606a6 70%,#7e03a8 74%,#7801a8 78%,#7401a8 83%,#7100a8 87%,#6f00a8 91%,#6e00a8 96%,#6c00a8 100%)"></div><div style="position:absolute;left:0;top:41px;width:100%;height:1.05px;background:linear-gradient(90deg,#fec029 0%,#fdaf31 4%,#fa9e3b 9%,#f68f44 13%,#f0804e 17%,#e97257 22%,#e26561 26%,#da5a6a 30%,#d14e72 35%,#c8437b 39%,#be3885 43%,#b42e8d 48%,#aa2395 52%,#a01a9c 57%,#9511a1 61%,#8b0aa5 65%,#8305a7 70%,#7b02a8 74%,#7501a8 78%,#7100a8 83%,#6e00a8 87%,#6c00a8 91%,#6a00a8 96%,#6900a8 100%)"></div><div style="position:absolute;left:0;top:42px;width:100%;height:1.05px;background:linear-gradient(90deg,#febe2a 0%,#fdae32 4%,#fa9c3c 9%,#f68d45 13%,#f07f4f 17%,#e97158 22%,#e16462 26%,#d9586a 30%,#d04d73 35%,#c7427c 39%,#bd3786 43%,#b32c8e 48%,#a82296 52%,#9d189d 57%,#9410a2 61%,#8808a6 65%,#8004a8 70%,#7801a8 74%,#7100a8 78%,#6c00a8 83%,#6900a8 87%,#6700a8 91%,#6700a8 96%,#6600a7 100%)"></div><div style="position:absolute;left:0;top:43px;width:100%;height:1.05px;background:linear-gradient(90deg,#febd2a 0%,#fdac33 4%,#fa9b3d 9%,#f58c46 13%,#ef7e50 17%,#e87059 22%,#e06363 26%,#d8576b 30%,#ce4b75 35%,#c5407e 39%,#bc3587 43%,#b12a90 48%,#a62098 52%,#9c179e 57%,#910ea3 61%,#8707a6 65%,#7d03a8 70%,#7501a8 74%,#6e00a8 78%,#6900a8 83%,#6600a7 87%,#6400a7 91%,#6300a7 96%,#6100a7 100%)"></div><div style="position:absolute;left:0;top:44px;width:100%;height:1.05px;background:linear-gradient(90deg,#febd2a 0%,#fdab33 4%,#fa9b3d 9%,#f58b47 13%,#ef7c51 17%,#e76f5a 22%,#df6263 26%,#d7566c 30%,#cd4a76 35%,#c43e7f 39%,#ba3388 43%,#b02991 48%,#a51f99 52%,#99159f 57%,#8e0ca4 61%,#8405a7 65%,#7a02a8 70%,#7100a8 74%,#6a00a8 78%,#6600a7 83%,#6100a7 87%,#6100a7 91%,#6001a6 96%,#5e01a6 100%)"></div><div style="position:absolute;left:0;top:45px;width:100%;height:1.05px;background:linear-gradient(90deg,#febb2b 0%,#fca934 4%,#f99a3e 9%,#f48948 13%,#ee7b51 17%,#e76e5b 22%,#de6164 26%,#d6556d 30%,#cc4977 35%,#c33d80 39%,#b83289 43%,#ae2892 48%,#a21d9a 52%,#9814a0 57%,#8b0aa5 61%,#8104a7 65%,#7701a8 70%,#6e00a8 74%,#6600a7 78%,#6100a7 83%,#5e01a6 87%,#5c01a6 91%,#5b01a5 96%,#5901a5 100%)"></div><div style="position:absolute;left:0;top:46px;width:100%;height:1.05px;background:linear-gradient(90deg,#feba2c 0%,#fca835 4%,#f9983e 9%,#f48849 13%,#ed7a52 17%,#e66c5c 22%,#de5f65 26%,#d5546e 30%,#cc4778 35%,#c23c81 39%,#b7318a 43%,#ac2694 48%,#a11b9b 52%,#9511a1 57%,#8a09a5 61%,#7e03a8 65%,#7401a8 70%,#6a00a8 74%,#6300a7 78%,#5c01a6 83%,#5901a5 87%,#5801a4 91%,#5601a4 96%,#5601a4 100%)"></div><div style="position:absolute;left:0;top:47px;width:100%;height:1.05px;background:linear-gradient(90deg,#feb82c 0%,#fca636 4%,#f9973f 9%,#f3874a 13%,#ed7953 17%,#e56b5d 22%,#dd5e66 26%,#d45270 30%,#cb4679 35%,#c13b82 39%,#b6308b 43%,#ab2494 48%,#9e199d 52%,#920fa3 57%,#8707a6 61%,#7b02a8 65%,#7100a8 70%,#6700a8 74%,#5e01a6 78%,#5901a5 83%,#5601a4 87%,#5502a4 91%,#5302a3 96%,#5102a3 100%)"></div><div style="position:absolute;left:0;top:48px;width:100%;height:1.05px;background:linear-gradient(90deg,#feb72d 0%,#fca636 4%,#f89540 9%,#f3874a 13%,#ec7754 17%,#e56a5d 22%,#dc5d67 26%,#d35171 30%,#ca457a 35%,#bf3984 39%,#b42e8d 43%,#a82296 48%,#9d189d 52%,#910ea3 57%,#8405a7 61%,#7801a8 65%,#6e00a8 70%,#6300a7 74%,#5b01a5 78%,#5502a4 83%,#5102a3 87%,#5002a2 91%,#4e02a2 96%,#4c02a1 100%)"></div><div style="position:absolute;left:0;top:49px;width:100%;height:1.05px;background:linear-gradient(90deg,#fdb52e 0%,#fca537 4%,#f89441 9%,#f3854b 13%,#eb7655 17%,#e4695e 22%,#db5c68 26%,#d24f71 30%,#c9447a 35%,#be3885 39%,#b32c8e 43%,#a72197 48%,#9a169f 52%,#8e0ca4 57%,#8104a7 61%,#7501a8 65%,#6900a8 70%,#6001a6 74%,#5601a4 78%,#5002a2 83%,#4c02a1 87%,#4b03a1 91%,#4903a0 96%,#4903a0 100%)"></div><div style="position:absolute;left:0;top:50px;width:100%;height:1.05px;background:linear-gradient(90deg,#fdb52e 0%,#fca338 4%,#f79342 9%,#f2844b 13%,#eb7556 17%,#e3685f 22%,#da5b69 26%,#d14e72 30%,#c7427c 35%,#bd3786 39%,#b22b8f 43%,#a62098 48%,#99159f 52%,#8d0ba5 57%,#8004a8 61%,#7201a8 65%,#6600a7 70%,#5b01a5 74%,#5102a3 78%,#4b03a1 83%,#46039f 87%,#44039e 91%,#44039e 96%,#44039e 100%)"></div><div style="position:absolute;left:0;top:51px;width:100%;height:1.05px;background:linear-gradient(90deg,#fdb42f 0%,#fba238 4%,#f79143 9%,#f1834c 13%,#ea7457 17%,#e26660 22%,#da5a6a 26%,#d04d73 30%,#c6417d 35%,#bc3587 39%,#b02991 43%,#a31e9a 48%,#9613a1 52%,#8a09a5 57%,#7d03a8 61%,#6f00a8 65%,#6300a7 70%,#5801a4 74%,#4e02a2 78%,#46039f 83%,#41049d 87%,#3f049c 91%,#3e049c 96%,#3f049c 100%)"></div><div style="position:absolute;left:0;top:52px;width:100%;height:1.05px;background:linear-gradient(90deg,#fdb22f 0%,#fba139 4%,#f79044 9%,#f1814d 13%,#e97257 17%,#e26561 22%,#d9586a 26%,#cf4c74 30%,#c5407e 35%,#ba3388 39%,#ae2892 43%,#a21d9a 48%,#9511a1 52%,#8707a6 57%,#7a02a8 61%,#6c00a8 65%,#6001a6 70%,#5302a3 74%,#4903a0 78%,#3f049c 83%,#3a049a 87%,#38049a 91%,#38049a 96%,#3a049a 100%)"></div><div style="position:absolute;left:0;top:53px;width:100%;height:1.05px;background:linear-gradient(90deg,#fdb130 0%,#fb9f3a 4%,#f68f44 9%,#f0804e 13%,#e97158 17%,#e16462 22%,#d8576b 26%,#ce4b75 30%,#c43e7f 35%,#b83289 39%,#ad2793 43%,#a01a9c 48%,#920fa3 52%,#8606a6 57%,#7701a8 61%,#6900a8 65%,#5c01a6 70%,#5002a2 74%,#43039e 78%,#3a049a 83%,#330597 87%,#310597 91%,#310597 96%,#330597 100%)"></div><div style="position:absolute;left:0;top:54px;width:100%;height:1.05px;background:linear-gradient(90deg,#fdaf31 0%,#fa9e3b 4%,#f68d45 9%,#f07f4f 13%,#e87059 17%,#e06363 22%,#d7566c 26%,#cd4a76 30%,#c33d80 35%,#b7318a 39%,#ab2494 43%,#9e199d 48%,#910ea3 52%,#8305a7 57%,#7401a8 61%,#6600a7 65%,#5801a4 70%,#4b03a1 74%,#3e049c 78%,#330597 83%,#2c0594 87%,#280592 91%,#280592 96%,#2f0596 100%)"></div><div style="position:absolute;left:0;top:55px;width:100%;height:1.05px;background:linear-gradient(90deg,#fdae32 0%,#fa9c3c 4%,#f58c46 9%,#ef7c51 13%,#e76f5a 17%,#de6164 22%,#d5546e 26%,#cc4778 30%,#c13b82 35%,#b52f8c 39%,#aa2395 43%,#9d189d 48%,#8e0ca4 52%,#8004a8 57%,#7201a8 61%,#6300a7 65%,#5502a4 70%,#46039f 74%,#38049a 78%,#2c0594 83%,#20068f 87%,#1b068d 91%,#20068f 96%,#2c0594 100%)"></div><div style="position:absolute;left:0;top:56px;width:100%;height:1.05px;background:linear-gradient(90deg,#fdab33 0%,#f99a3e 4%,#f48948 9%,#ee7b51 13%,#e66c5c 17%,#de5f65 22%,#d45270 26%,#ca457a 30%,#bf3984 35%,#b42e8d 39%,#a72197 43%,#9a169f 48%,#8b0aa5 52%,#7d03a8 57%,#6f00a8 61%,#6001a6 65%,#5102a3 70%,#43039e 74%,#350498 78%,#280592 83%,#20068f 87%,#20068f 91%,#260591 96%,#310597 100%)"></div><div style="position:absolute;left:0;top:57px;width:100%;height:1.05px;background:linear-gradient(90deg,#fca934 0%,#f9983e 4%,#f48849 9%,#ed7a52 13%,#e56b5d 17%,#dd5e66 22%,#d45270 26%,#c9447a 30%,#be3885 35%,#b32c8e 39%,#a62098 43%,#99159f 48%,#8a09a5 52%,#7d03a8 57%,#6e00a8 61%,#5e01a6 65%,#5102a3 70%,#43039e 74%,#370499 78%,#2e0595 83%,#2a0593 87%,#2c0594 91%,#2f0596 96%,#38049a 100%)"></div><div style="position:absolute;left:0;top:58px;width:100%;height:1.05px;background:linear-gradient(90deg,#fca835 0%,#f9973f 4%,#f48849 9%,#ed7953 13%,#e56a5d 17%,#dc5d67 22%,#d35171 26%,#c9447a 30%,#be3885 35%,#b22b8f 39%,#a51f99 43%,#9814a0 48%,#8a09a5 52%,#7b02a8 57%,#6e00a8 61%,#5e01a6 65%,#5102a3 70%,#44039e 74%,#3a049a 78%,#330597 83%,#330597 87%,#330597 91%,#370499 96%,#3f049c 100%)"></div><div style="position:absolute;left:0;top:59px;width:100%;height:1.05px;background:linear-gradient(90deg,#fca835 0%,#f9973f 4%,#f3874a 9%,#ec7754 13%,#e56a5d 17%,#db5c68 22%,#d24f71 26%,#c8437b 30%,#bd3786 35%,#b22b8f 39%,#a51f99 43%,#9814a0 48%,#8a09a5 52%,#7b02a8 57%,#6e00a8 61%,#6001a6 65%,#5302a3 70%,#48039f 74%,#3e049c 78%,#3a049a 83%,#3a049a 87%,#3a049a 91%,#3e049c 96%,#44039e 100%)"></div><div style="position:absolute;left:0;top:60px;width:100%;height:1.05px;background:linear-gradient(90deg,#fca636 0%,#f89540 4%,#f3854b 9%,#ec7754 13%,#e4695e 17%,#db5c68 22%,#d24f71 26%,#c8437b 30%,#bd3786 35%,#b12a90 39%,#a51f99 43%,#9613a1 48%,#8a09a5 52%,#7b02a8 57%,#6e00a8 61%,#6001a6 65%,#5502a4 70%,#4903a0 74%,#43039e 78%,#3f049c 83%,#3f049c 87%,#41049d 91%,#44039e 96%,#4903a0 100%)"></div><div style="position:absolute;left:0;top:61px;width:100%;height:1.05px;background:linear-gradient(90deg,#fca537 0%,#f89540 4%,#f3854b 9%,#eb7655 13%,#e4695e 17%,#db5c68 22%,#d14e72 26%,#c7427c 30%,#bd3786 35%,#b12a90 39%,#a31e9a 43%,#9613a1 48%,#8a09a5 52%,#7b02a8 57%,#6e00a8 61%,#6100a7 65%,#5601a4 70%,#4c02a1 74%,#48039f 78%,#44039e 83%,#46039f 87%,#46039f 91%,#4903a0 96%,#4e02a2 100%)"></div><div style="position:absolute;left:0;top:62px;width:100%;height:1.05px;background:linear-gradient(90deg,#fca537 0%,#f89441 4%,#f2844b 9%,#eb7655 13%,#e3685f 17%,#da5b69 22%,#d14e72 26%,#c7427c 30%,#bc3587 35%,#b12a90 39%,#a31e9a 43%,#9613a1 48%,#8a09a5 52%,#7b02a8 57%,#6f00a8 61%,#6300a7 65%,#5801a4 70%,#5002a2 74%,#4b03a1 78%,#4903a0 83%,#4b03a1 87%,#4c02a1 91%,#4e02a2 96%,#5302a3 100%)"></div><div style="position:absolute;left:0;top:63px;width:100%;height:1.05px;background:linear-gradient(90deg,#fca537 0%,#f89441 4%,#f2844b 9%,#eb7655 13%,#e3685f 17%,#da5b69 22%,#d14e72 26%,#c7427c 30%,#bc3587 35%,#b12a90 39%,#a31e9a 43%,#9613a1 48%,#8a09a5 52%,#7d03a8 57%,#6f00a8 61%,#6400a7 65%,#5b01a5 70%,#5302a3 74%,#5002a2 78%,#4e02a2 83%,#5002a2 87%,#5102a3 91%,#5302a3 96%,#5801a4 100%)"></div><div style="position:absolute;left:0;top:64px;width:100%;height:1.05px;background:linear-gradient(90deg,#fca338 0%,#f79342 4%,#f2844b 9%,#eb7556 13%,#e3685f 17%,#da5b69 22%,#d14e72 26%,#c7427c 30%,#bc3587 35%,#b12a90 39%,#a31e9a 43%,#9814a0 48%,#8a09a5 52%,#7d03a8 57%,#7100a8 61%,#6600a7 65%,#5c01a6 70%,#5601a4 74%,#5302a3 78%,#5302a3 83%,#5502a4 87%,#5502a4 91%,#5801a4 96%,#5c01a6 100%)"></div><div style="position:absolute;left:0;top:65px;width:100%;height:1.05px;background:linear-gradient(90deg,#fca338 0%,#f79342 4%,#f1834c 9%,#eb7556 13%,#e3685f 17%,#da5a6a 22%,#d04d73 26%,#c7427c 30%,#bc3587 35%,#b12a90 39%,#a51f99 43%,#9814a0 48%,#8b0aa5 52%,#7e03a8 57%,#7201a8 61%,#6700a8 65%,#6001a6 70%,#5b01a5 74%,#5801a4 78%,#5801a4 83%,#5801a4 87%,#5901a5 91%,#5c01a6 96%,#6001a6 100%)"></div><div style="position:absolute;left:0;top:66px;width:100%;height:1.05px;background:linear-gradient(90deg,#fca338 0%,#f79342 4%,#f1834c 9%,#eb7556 13%,#e26660 17%,#da5a6a 22%,#d04d73 26%,#c6417d 30%,#bc3587 35%,#b12a90 39%,#a51f99 43%,#9814a0 48%,#8b0aa5 52%,#8004a8 57%,#7401a8 61%,#6a00a8 65%,#6300a7 70%,#5e01a6 74%,#5b01a5 78%,#5b01a5 83%,#5c01a6 87%,#5e01a6 91%,#6001a6 96%,#6400a7 100%)"></div><div style="position:absolute;left:0;top:67px;width:100%;height:1.05px;background:linear-gradient(90deg,#fba238 0%,#f79342 4%,#f1834c 9%,#ea7457 13%,#e26660 17%,#da5a6a 22%,#d04d73 26%,#c6417d 30%,#bc3587 35%,#b12a90 39%,#a51f99 43%,#99159f 48%,#8d0ba5 52%,#8104a7 57%,#7501a8 61%,#6c00a8 65%,#6600a7 70%,#6100a7 74%,#6001a6 78%,#6001a6 83%,#6100a7 87%,#6100a7 91%,#6400a7 96%,#6700a8 100%)"></div><div style="position:absolute;left:0;top:68px;width:100%;height:1.05px;background:linear-gradient(90deg,#fba238 0%,#f79143 4%,#f1834c 9%,#ea7457 13%,#e26660 17%,#da5a6a 22%,#d04d73 26%,#c6417d 30%,#bc3587 35%,#b12a90 39%,#a51f99 43%,#99159f 48%,#8d0ba5 52%,#8104a7 57%,#7801a8 61%,#6f00a8 65%,#6900a8 70%,#6400a7 74%,#6300a7 78%,#6300a7 83%,#6400a7 87%,#6600a7 91%,#6700a8 96%,#6c00a8 100%)"></div><div style="position:absolute;left:0;top:69px;width:100%;height:1.05px;background:linear-gradient(90deg,#fba238 0%,#f79143 4%,#f1834c 9%,#ea7457 13%,#e26660 17%,#da5a6a 22%,#d04d73 26%,#c7427c 30%,#bc3587 35%,#b12a90 39%,#a62098 43%,#9a169f 48%,#8e0ca4 52%,#8305a7 57%,#7a02a8 61%,#7100a8 65%,#6a00a8 70%,#6700a8 74%,#6600a7 78%,#6700a8 83%,#6700a8 87%,#6900a8 91%,#6c00a8 96%,#6f00a8 100%)"></div><div style="position:absolute;left:0;top:70px;width:100%;height:1.05px;background:linear-gradient(90deg,#fba238 0%,#f79143 4%,#f1814d 9%,#ea7457 13%,#e26660 17%,#da5a6a 22%,#d04d73 26%,#c7427c 30%,#bc3587 35%,#b22b8f 39%,#a62098 43%,#9a169f 48%,#8f0da4 52%,#8405a7 57%,#7b02a8 61%,#7401a8 65%,#6e00a8 70%,#6a00a8 74%,#6900a8 78%,#6a00a8 83%,#6c00a8 87%,#6e00a8 91%,#6f00a8 96%,#7201a8 100%)"></div><div style="position:absolute;left:0;top:71px;width:100%;height:1.05px;background:linear-gradient(90deg,#fba139 0%,#f79143 4%,#f1814d 9%,#ea7457 13%,#e26660 17%,#da5a6a 22%,#d04d73 26%,#c7427c 30%,#bd3786 35%,#b22b8f 39%,#a72197 43%,#9c179e 48%,#910ea3 52%,#8606a6 57%,#7d03a8 61%,#7501a8 65%,#7100a8 70%,#6e00a8 74%,#6e00a8 78%,#6e00a8 83%,#6f00a8 87%,#7100a8 91%,#7201a8 96%,#7501a8 100%)"></div><div style="position:absolute;left:0;top:72px;width:100%;height:1.05px;background:linear-gradient(90deg,#fba139 0%,#f79143 4%,#f1814d 9%,#ea7457 13%,#e26660 17%,#da5a6a 22%,#d04d73 26%,#c7427c 30%,#bd3786 35%,#b22b8f 39%,#a72197 43%,#9c179e 48%,#910ea3 52%,#8707a6 57%,#8004a8 61%,#7801a8 65%,#7401a8 70%,#7100a8 74%,#7100a8 78%,#7100a8 83%,#7201a8 87%,#7401a8 91%,#7501a8 96%,#7a02a8 100%)"></div><div style="position:absolute;left:0;top:73px;width:100%;height:1.05px;background:linear-gradient(90deg,#fba139 0%,#f79143 4%,#f1814d 9%,#ea7457 13%,#e26660 17%,#da5a6a 22%,#d04d73 26%,#c7427c 30%,#bd3786 35%,#b32c8e 39%,#a82296 43%,#9d189d 48%,#920fa3 52%,#8a09a5 57%,#8104a7 61%,#7b02a8 65%,#7701a8 70%,#7401a8 74%,#7401a8 78%,#7401a8 83%,#7701a8 87%,#7701a8 91%,#7a02a8 96%,#7d03a8 100%)"></div><div style="position:absolute;left:0;top:74px;width:100%;height:1.05px;background:linear-gradient(90deg,#fba139 0%,#f79044 4%,#f1814d 9%,#ea7457 13%,#e26660 17%,#da5a6a 22%,#d14e72 26%,#c7427c 30%,#bd3786 35%,#b32c8e 39%,#a82296 43%,#9e199d 48%,#9410a2 52%,#8b0aa5 57%,#8305a7 61%,#7d03a8 65%,#7801a8 70%,#7701a8 74%,#7701a8 78%,#7801a8 83%,#7a02a8 87%,#7a02a8 91%,#7d03a8 96%,#8004a8 100%)"></div><svg width="92.10" height="74.70" style="position:absolute;left:0;top:0"><g fill="none" stroke="#fff" stroke-opacity="0.5" stroke-width="0.6"><path d="M80.5 55.7 L80.5 56.1 L82.0 56.3 L83.6 56.3 L85.1 56.2 L86.7 55.9 L86.7 55.7 L85.1 55.4 L83.6 55.4 L82.0 55.5 L80.5 55.7"/><path d="M92.1 53.1 L90.6 52.9 L89.8 52.8 L88.2 52.7 L86.7 52.8 L85.8 52.8 L84.4 52.9 L82.8 52.9 L81.3 53.1 L79.7 53.2 L78.2 53.5 L77.4 53.7 L75.8 54.2 L75.1 54.4 L73.6 55.1 L72.8 55.6 L72.0 56.3 L72.0 57.0 L72.8 57.8 L73.5 58.2 L75.1 58.7 L75.9 58.9 L77.4 59.0 L78.9 59.0 L80.5 59.0 L82.0 58.9 L82.8 58.8 L84.4 58.8 L85.9 58.6 L87.5 58.4 L89.0 58.1 L89.8 57.9 L91.3 57.4 L92.1 57.1"/><path d="M92.1 48.5 L90.6 48.5 L89.0 48.5 L87.5 48.6 L85.9 48.7 L84.4 48.9 L82.8 48.9 L81.5 49.0 L80.5 49.2 L78.9 49.4 L77.4 49.7 L76.6 49.9 L75.1 50.3 L74.3 50.6 L72.8 51.2 L72.0 51.6 L71.0 52.1 L69.7 52.8 L68.9 53.3 L68.1 53.9 L67.3 54.5 L66.6 55.1 L65.7 55.8 L65.0 57.3 L65.4 58.9 L65.8 59.6 L66.6 60.5 L67.3 61.2 L68.4 61.9 L69.7 62.4 L70.4 62.7 L72.0 63.0 L73.5 63.2 L75.1 63.3 L76.6 63.3 L78.2 63.2 L79.7 63.1 L81.3 63.0 L82.8 62.9 L84.4 62.8 L85.9 62.6 L86.7 62.5 L88.2 62.3 L89.8 61.9 L90.6 61.7 L92.1 61.2"/><path d="M92.1 43.0 L90.6 43.1 L89.0 43.3 L87.5 43.4 L85.9 43.6 L84.4 43.7 L83.6 43.8 L82.0 43.9 L80.5 44.1 L78.9 44.3 L77.9 44.5 L76.6 44.8 L75.1 45.2 L74.3 45.5 L72.8 46.0 L72.0 46.4 L71.1 46.8 L69.7 47.5 L68.9 47.9 L68.1 48.4 L67.0 49.0 L66.0 49.8 L65.0 50.5 L64.2 51.2 L63.5 51.8 L62.7 52.6 L61.9 53.3 L61.1 54.2 L60.4 55.0 L59.6 55.8 L59.0 56.6 L58.8 57.3 L58.7 58.9 L58.8 59.6 L59.2 61.1 L59.6 62.1 L60.3 63.4 L60.9 64.1 L61.6 64.9 L62.4 65.6 L63.4 66.4 L64.2 66.9 L65.0 67.3 L66.6 67.9 L67.3 68.1 L68.9 68.4 L70.4 68.6 L71.2 68.7 L72.8 68.7 L74.3 68.7 L75.4 68.7 L76.6 68.6 L78.2 68.4 L79.7 68.3 L81.3 68.1 L82.8 68.0 L84.3 67.9 L85.1 67.8 L86.7 67.6 L88.2 67.4 L89.2 67.2 L90.6 66.8 L92.0 66.4"/><path d="M92.1 36.7 L90.6 36.9 L89.8 37.0 L88.2 37.2 L86.7 37.4 L85.1 37.6 L83.6 37.7 L82.8 37.7 L81.3 37.9 L79.7 38.1 L78.2 38.4 L77.4 38.6 L75.8 39.0 L75.0 39.2 L73.5 39.7 L72.8 40.0 L71.2 40.6 L70.4 41.0 L69.4 41.5 L68.1 42.2 L67.3 42.6 L66.6 43.1 L65.5 43.8 L64.5 44.5 L63.5 45.3 L62.7 45.9 L61.9 46.6 L61.1 47.3 L60.4 48.0 L59.6 48.8 L58.8 49.6 L58.0 50.4 L57.3 51.3 L56.7 52.1 L56.1 52.8 L55.5 53.6 L55.0 54.3 L54.2 55.4 L53.4 56.4 L53.0 57.3 L52.7 58.9 L52.7 60.4 L52.9 61.9 L53.2 63.4 L53.4 64.1 L54.0 65.6 L54.3 66.4 L55.0 67.6 L55.6 68.7 L56.2 69.4 L56.9 70.2 L57.6 70.9 L58.5 71.7 L59.6 72.4 L60.4 72.9 L61.1 73.3 L62.5 73.9 L63.5 74.3 L65.0 74.7"/><path d="M77.4 74.7 L78.2 74.6 L79.7 74.4 L81.3 74.2 L82.8 74.1 L84.4 74.0 L85.1 73.9 L86.7 73.7 L88.2 73.4 L89.2 73.2 L90.6 72.9 L92.0 72.4"/><path d="M92.1 29.6 L90.6 29.8 L89.0 30.1 L88.2 30.2 L86.7 30.4 L85.1 30.6 L83.6 30.7 L82.0 30.9 L81.3 31.0 L79.7 31.2 L78.2 31.5 L77.4 31.7 L75.8 32.1 L74.7 32.4 L73.5 32.8 L72.5 33.2 L71.2 33.7 L70.4 34.1 L69.1 34.7 L68.1 35.2 L67.3 35.7 L66.4 36.2 L65.2 37.0 L64.2 37.6 L63.5 38.2 L62.7 38.7 L61.9 39.3 L61.1 40.0 L60.3 40.7 L59.4 41.5 L58.6 42.3 L57.9 43.0 L57.1 43.8 L56.4 44.5 L55.7 45.3 L55.0 46.2 L54.2 47.2 L53.4 48.2 L52.7 49.0 L52.2 49.8 L51.7 50.6 L51.1 51.4 L50.3 52.6 L49.7 53.6 L49.2 54.3 L48.7 55.1 L48.0 56.1 L47.4 57.3 L47.2 58.1 L47.0 59.6 L46.9 61.1 L47.0 62.6 L47.1 64.1 L47.2 64.9 L47.5 66.4 L47.9 67.9 L48.1 68.7 L48.7 70.2 L49.0 70.9 L49.5 72.0 L50.2 73.2 L50.7 73.9 L51.2 74.7"/><path d="M92.1 21.8 L91.3 21.9 L89.8 22.2 L88.2 22.4 L86.8 22.6 L85.9 22.8 L84.4 23.0 L82.8 23.1 L81.3 23.2 L80.3 23.4 L78.9 23.7 L77.4 24.0 L76.6 24.2 L75.1 24.7 L74.3 24.9 L72.8 25.5 L72.0 25.8 L70.5 26.4 L69.7 26.8 L68.9 27.2 L67.4 27.9 L66.6 28.4 L65.8 28.9 L64.9 29.4 L63.8 30.2 L62.7 30.9 L61.9 31.5 L61.1 32.1 L60.4 32.7 L59.6 33.4 L58.8 34.1 L58.0 34.8 L57.3 35.5 L56.5 36.3 L55.7 37.1 L55.0 37.9 L54.2 38.8 L53.4 39.7 L52.6 40.6 L51.9 41.5 L51.3 42.3 L50.8 43.0 L50.2 43.8 L49.5 44.7 L48.8 45.8 L48.1 46.8 L47.6 47.5 L47.2 48.3 L46.4 49.5 L45.8 50.6 L45.4 51.3 L44.9 52.2 L44.1 53.6 L43.7 54.3 L43.2 55.1 L42.6 56.1 L41.9 57.3 L41.7 58.1 L41.5 59.6 L41.3 61.1 L41.3 62.6 L41.3 64.1 L41.4 65.6 L41.6 67.2 L41.8 68.6 L41.9 69.4 L42.3 70.9 L42.6 72.1 L42.9 73.2 L43.3 74.5"/><path d="M92.1 13.2 L90.6 13.5 L89.8 13.6 L88.2 13.9 L86.7 14.2 L85.7 14.3 L84.4 14.5 L82.8 14.6 L81.3 14.8 L79.7 15.1 L78.9 15.2 L77.4 15.6 L76.5 15.8 L75.1 16.3 L74.1 16.6 L72.8 17.1 L72.0 17.4 L70.4 18.1 L69.7 18.4 L68.7 18.9 L67.3 19.6 L66.6 20.0 L65.8 20.5 L64.7 21.1 L63.6 21.9 L62.7 22.5 L61.9 23.0 L61.1 23.6 L60.4 24.2 L59.5 24.9 L58.7 25.7 L57.8 26.4 L57.0 27.2 L56.2 27.9 L55.4 28.7 L54.7 29.4 L54.0 30.2 L53.3 30.9 L52.6 31.7 L51.9 32.6 L51.1 33.5 L50.3 34.5 L49.5 35.5 L49.0 36.2 L48.4 37.0 L47.9 37.7 L47.2 38.7 L46.4 39.8 L45.8 40.7 L45.3 41.5 L44.9 42.3 L44.1 43.5 L43.5 44.5 L43.1 45.3 L42.6 46.1 L41.8 47.5 L41.4 48.3 L41.0 49.0 L40.2 50.5 L39.8 51.3 L39.4 52.1 L38.7 53.6 L38.3 54.3 L37.9 55.1 L37.1 56.2 L36.7 57.3 L36.4 58.4 L36.2 59.6 L36.0 61.1 L35.8 62.6 L35.8 64.1 L35.8 65.6 L35.9 67.2 L36.0 68.7 L36.1 70.2 L36.3 71.7 L36.5 72.4 L36.7 73.9"/><path d="M92.1 4.0 L90.6 4.3 L89.4 4.5 L88.2 4.8 L86.7 5.0 L85.2 5.3 L84.4 5.4 L82.8 5.5 L81.3 5.7 L79.7 6.0 L78.9 6.1 L77.4 6.5 L76.5 6.8 L75.1 7.2 L74.1 7.5 L72.8 8.0 L72.0 8.3 L70.4 9.0 L69.7 9.4 L68.8 9.8 L67.3 10.5 L66.6 11.0 L65.8 11.4 L64.7 12.1 L63.5 12.8 L62.7 13.4 L61.9 13.9 L61.1 14.5 L60.4 15.1 L59.4 15.8 L58.5 16.6 L57.6 17.4 L56.8 18.1 L56.0 18.9 L55.2 19.6 L54.4 20.4 L53.7 21.1 L53.0 21.9 L52.3 22.6 L51.6 23.4 L51.0 24.1 L50.3 24.9 L49.5 25.9 L48.8 26.8 L48.0 27.8 L47.3 28.7 L46.8 29.4 L46.3 30.2 L45.7 31.0 L44.9 32.1 L44.2 33.2 L43.7 34.0 L43.2 34.7 L42.6 35.8 L41.8 37.0 L41.4 37.7 L40.9 38.5 L40.2 39.7 L39.7 40.7 L39.3 41.5 L38.7 42.6 L38.1 43.8 L37.7 44.5 L37.1 45.6 L36.6 46.8 L36.2 47.5 L35.6 48.8 L35.1 49.8 L34.8 50.6 L34.1 52.1 L33.8 52.8 L33.3 53.9 L32.7 55.1 L32.2 55.8 L31.7 56.6 L31.3 58.1 L31.0 59.6 L30.8 60.4 L30.6 61.9 L30.5 63.4 L30.5 64.9 L30.4 66.4 L30.4 67.9 L30.5 69.4 L30.6 70.9 L30.7 72.4 L30.9 73.9 L31.0 74.7"/><path d="M69.0 0.0 L68.1 0.5 L67.3 0.9 L66.2 1.5 L65.0 2.2 L64.2 2.7 L63.5 3.2 L62.6 3.8 L61.5 4.5 L60.5 5.3 L59.6 6.0 L58.8 6.6 L58.0 7.2 L57.3 7.9 L56.5 8.6 L55.7 9.3 L55.0 10.0 L54.2 10.8 L53.4 11.5 L52.6 12.3 L51.9 13.2 L51.1 14.0 L50.3 14.9 L49.5 15.8 L48.9 16.6 L48.2 17.4 L47.6 18.1 L47.1 18.9 L46.4 19.7 L45.7 20.7 L44.9 21.8 L44.3 22.6 L43.8 23.4 L43.3 24.1 L42.6 25.2 L41.8 26.4 L41.3 27.2 L40.8 27.9 L40.2 28.9 L39.5 30.2 L39.0 30.9 L38.6 31.7 L37.9 32.9 L37.3 34.0 L36.9 34.7 L36.4 35.8 L35.8 37.0 L35.4 37.7 L34.8 38.8 L34.3 40.0 L33.9 40.7 L33.3 42.0 L32.8 43.0 L32.5 43.8 L31.8 45.3 L31.5 46.0 L31.0 47.2 L30.5 48.3 L30.2 49.0 L29.5 50.6 L29.2 51.3 L28.6 52.7 L28.3 53.6 L27.9 54.5 L27.1 55.8 L26.7 56.6 L26.3 57.7 L26.0 58.9 L25.7 60.4 L25.5 61.8 L25.4 62.6 L25.3 64.1 L25.2 65.6 L25.2 67.2 L25.2 68.7 L25.2 70.2 L25.2 71.7 L25.3 73.2 L25.4 74.7"/><path d="M54.6 0.0 L53.8 0.8 L53.0 1.5 L52.3 2.3 L51.6 3.0 L50.9 3.8 L50.2 4.5 L49.5 5.3 L48.8 6.1 L48.0 7.1 L47.2 8.0 L46.4 9.0 L45.8 9.8 L45.2 10.6 L44.7 11.3 L44.1 12.1 L43.3 13.2 L42.6 14.3 L42.0 15.1 L41.5 15.8 L41.0 16.6 L40.2 17.8 L39.6 18.9 L39.1 19.6 L38.7 20.4 L37.9 21.6 L37.3 22.6 L36.9 23.4 L36.4 24.3 L35.6 25.7 L35.2 26.4 L34.8 27.2 L34.1 28.6 L33.6 29.4 L33.3 30.2 L32.5 31.7 L32.1 32.4 L31.7 33.3 L31.1 34.7 L30.7 35.5 L30.2 36.6 L29.7 37.7 L29.3 38.5 L28.7 40.0 L28.3 40.7 L27.9 41.9 L27.4 43.0 L27.1 43.8 L26.5 45.3 L26.2 46.0 L25.6 47.5 L25.3 48.3 L24.8 49.6 L24.4 50.6 L24.0 51.6 L23.5 52.8 L23.2 53.6 L22.5 55.1 L22.1 55.8 L21.7 56.6 L21.2 58.1 L20.9 59.5 L20.7 60.4 L20.5 61.9 L20.3 63.4 L20.2 64.9 L20.1 66.0 L20.1 67.2 L20.0 68.7 L20.0 70.2 L20.0 71.7 L20.0 73.2 L20.1 74.7"/><path d="M44.7 0.0 L44.1 0.8 L43.3 1.9 L42.6 3.0 L42.0 3.8 L41.5 4.5 L41.0 5.3 L40.2 6.3 L39.5 7.5 L39.0 8.3 L38.5 9.1 L37.9 10.0 L37.1 11.3 L36.7 12.1 L36.2 12.8 L35.6 13.9 L34.9 15.1 L34.5 15.8 L34.1 16.7 L33.3 18.1 L32.9 18.9 L32.5 19.6 L31.7 21.1 L31.3 21.9 L30.9 22.6 L30.2 24.1 L29.8 24.9 L29.4 25.8 L28.8 27.2 L28.4 27.9 L27.9 29.1 L27.4 30.2 L27.1 30.9 L26.4 32.4 L26.1 33.2 L25.5 34.5 L25.1 35.5 L24.8 36.3 L24.2 37.7 L23.9 38.5 L23.3 40.0 L23.0 40.7 L22.4 42.2 L22.1 43.0 L21.7 44.2 L21.3 45.3 L20.9 46.3 L20.4 47.5 L20.1 48.4 L19.6 49.8 L19.3 50.6 L18.8 52.1 L18.5 52.8 L17.9 54.3 L17.6 55.1 L17.0 56.1 L16.5 57.3 L16.3 58.2 L15.9 59.6 L15.7 61.1 L15.5 62.6 L15.4 63.4 L15.2 64.9 L15.1 66.4 L15.0 67.9 L14.9 69.4 L14.9 70.9 L14.9 72.4 L14.9 73.9"/><path d="M36.7 0.0 L36.2 0.8 L35.6 1.8 L34.9 3.0 L34.4 3.8 L34.0 4.5 L33.3 5.8 L32.7 6.8 L32.3 7.5 L31.7 8.6 L31.1 9.8 L30.7 10.6 L30.2 11.6 L29.6 12.8 L29.2 13.6 L28.6 14.7 L28.1 15.8 L27.7 16.6 L27.1 17.9 L26.7 18.9 L26.3 19.6 L25.6 21.1 L25.3 21.9 L24.8 23.1 L24.3 24.1 L24.0 24.9 L23.3 26.4 L23.0 27.2 L22.4 28.6 L22.1 29.4 L21.7 30.5 L21.2 31.7 L20.9 32.4 L20.3 34.0 L20.0 34.7 L19.4 36.2 L19.2 37.0 L18.6 38.5 L18.3 39.2 L17.8 40.7 L17.5 41.5 L17.0 42.9 L16.7 43.8 L16.3 45.1 L15.9 46.0 L15.5 47.3 L15.2 48.3 L14.7 49.6 L14.4 50.6 L13.9 51.8 L13.6 52.8 L13.2 54.0 L12.7 55.1 L12.3 55.8 L11.6 57.3 L11.4 58.1 L11.1 59.6 L10.8 61.1 L10.7 61.9 L10.5 63.4 L10.3 64.9 L10.2 66.4 L10.1 67.9 L10.1 68.7 L10.0 70.2 L9.9 71.7 L9.9 73.2 L9.9 74.7"/><path d="M29.5 0.0 L29.1 0.8 L28.6 1.7 L28.0 3.0 L27.6 3.8 L27.1 4.8 L26.5 6.0 L26.1 6.8 L25.5 8.1 L25.1 9.1 L24.7 9.8 L24.0 11.3 L23.7 12.1 L23.2 13.2 L22.7 14.3 L22.4 15.1 L21.7 16.6 L21.4 17.4 L20.9 18.6 L20.5 19.6 L20.1 20.5 L19.6 21.9 L19.3 22.6 L18.7 24.1 L18.4 24.9 L17.8 26.4 L17.5 27.2 L17.0 28.5 L16.7 29.4 L16.3 30.6 L15.8 31.7 L15.5 32.7 L15.0 34.0 L14.7 34.9 L14.2 36.2 L13.9 37.1 L13.5 38.5 L13.2 39.4 L12.7 40.7 L12.4 41.7 L11.9 43.0 L11.6 44.0 L11.2 45.3 L10.8 46.4 L10.5 47.5 L10.1 48.8 L9.7 49.8 L9.3 51.2 L9.0 52.1 L8.5 53.5 L8.2 54.3 L7.7 55.4 L7.1 56.6 L6.9 57.3 L6.5 58.9 L6.2 60.3 L6.0 61.1 L5.8 62.6 L5.6 64.1 L5.5 65.6 L5.4 66.4 L5.3 67.9 L5.2 69.4 L5.1 70.9 L5.0 72.4 L5.0 73.9"/><path d="M23.0 0.0 L22.4 1.2 L22.0 2.3 L21.6 3.0 L21.0 4.5 L20.6 5.3 L20.1 6.5 L19.7 7.5 L19.3 8.3 L18.7 9.8 L18.4 10.6 L17.8 12.1 L17.5 12.8 L17.0 14.1 L16.6 15.1 L16.3 16.1 L15.8 17.4 L15.5 18.1 L14.9 19.6 L14.6 20.4 L14.1 21.9 L13.8 22.6 L13.2 24.1 L13.0 24.9 L12.4 26.4 L12.2 27.2 L11.7 28.7 L11.4 29.4 L10.9 30.9 L10.6 31.7 L10.1 33.2 L9.9 34.0 L9.4 35.5 L9.2 36.2 L8.7 37.7 L8.4 38.5 L7.9 40.0 L7.7 40.7 L7.2 42.3 L7.0 43.1 L6.5 44.5 L6.2 45.6 L5.8 46.8 L5.4 48.2 L5.1 49.0 L4.7 50.6 L4.4 51.3 L4.0 52.8 L3.7 53.6 L3.2 55.1 L2.8 55.8 L2.3 56.7 L1.9 58.1 L1.6 59.6 L1.4 60.4 L1.2 61.9 L1.0 63.4 L0.8 64.9 L0.7 65.6 L0.6 67.2 L0.4 68.7 L0.3 70.2 L0.2 71.7 L0.2 73.2 L0.1 74.7"/><path d="M16.9 0.0 L16.3 1.5 L15.9 2.3 L15.5 3.4 L15.0 4.5 L14.7 5.4 L14.2 6.8 L13.9 7.5 L13.3 9.1 L13.0 9.8 L12.5 11.3 L12.2 12.1 L11.6 13.6 L11.4 14.3 L10.8 15.8 L10.6 16.6 L10.1 18.0 L9.8 18.9 L9.3 20.3 L9.0 21.1 L8.5 22.6 L8.2 23.4 L7.7 24.9 L7.5 25.7 L7.0 27.2 L6.8 27.9 L6.3 29.4 L6.0 30.2 L5.6 31.7 L5.3 32.4 L4.9 34.0 L4.6 34.7 L4.2 36.2 L3.9 37.2 L3.5 38.5 L3.1 39.8 L2.8 40.7 L2.4 42.3 L2.1 43.0 L1.7 44.5 L1.5 45.3 L1.0 46.8 L0.8 47.7 L0.4 49.0 L0.0 50.3"/><path d="M11.0 0.0 L10.7 0.8 L10.2 2.3 L9.9 3.0 L9.4 4.5 L9.1 5.3 L8.6 6.8 L8.3 7.5 L7.8 9.1 L7.5 9.8 L7.0 11.3 L6.7 12.1 L6.2 13.6 L6.0 14.3 L5.5 15.8 L5.2 16.6 L4.8 18.1 L4.5 18.9 L4.0 20.4 L3.8 21.1 L3.3 22.6 L3.1 23.4 L2.6 24.9 L2.3 25.9 L1.9 27.2 L1.5 28.4 L1.3 29.4 L0.8 30.9 L0.6 31.7 L0.1 33.2"/><path d="M5.4 0.0 L5.2 0.8 L4.7 2.3 L4.4 3.0 L3.9 4.5 L3.7 5.3 L3.2 6.8 L2.9 7.5 L2.4 9.1 L2.2 9.8 L1.7 11.3 L1.5 12.1 L1.0 13.6 L0.8 14.3 L0.3 15.8 L0.0 16.9"/><path d="M0.0 0.0"/></g></svg></div><div style="position:absolute;left:209.40px;top:236.00px;width:92.70px;height:75.30px;border:0.5px solid rgba(60,60,60,0.5);box-sizing:border-box"></div>
<svg width="500" height="333" style="position:absolute;left:0;top:0"><ellipse cx="293.5" cy="292.3" rx="1.6" ry="1.2" fill="#222" stroke="#8a8a9a" stroke-width="0.5"/></svg>
<svg width="500" height="333" style="position:absolute;left:0;top:0"><g stroke="#444" stroke-width="0.6"><line x1="208.50" y1="311.00" x2="209.70" y2="311.00"/><line x1="207.70" y1="303.53" x2="209.70" y2="303.53"/><line x1="208.50" y1="296.06" x2="209.70" y2="296.06"/><line x1="207.70" y1="288.59" x2="209.70" y2="288.59"/><line x1="208.50" y1="281.12" x2="209.70" y2="281.12"/><line x1="207.70" y1="273.65" x2="209.70" y2="273.65"/><line x1="208.50" y1="266.18" x2="209.70" y2="266.18"/><line x1="207.70" y1="258.71" x2="209.70" y2="258.71"/><line x1="208.50" y1="251.24" x2="209.70" y2="251.24"/><line x1="207.70" y1="243.77" x2="209.70" y2="243.77"/><line x1="208.50" y1="236.30" x2="209.70" y2="236.30"/><line x1="209.70" y1="311.00" x2="209.70" y2="313.00"/><line x1="218.91" y1="311.00" x2="218.91" y2="312.20"/><line x1="228.12" y1="311.00" x2="228.12" y2="313.00"/><line x1="237.33" y1="311.00" x2="237.33" y2="312.20"/><line x1="246.54" y1="311.00" x2="246.54" y2="313.00"/><line x1="255.75" y1="311.00" x2="255.75" y2="312.20"/><line x1="264.96" y1="311.00" x2="264.96" y2="313.00"/><line x1="274.17" y1="311.00" x2="274.17" y2="312.20"/><line x1="283.38" y1="311.00" x2="283.38" y2="313.00"/><line x1="292.59" y1="311.00" x2="292.59" y2="312.20"/><line x1="301.80" y1="311.00" x2="301.80" y2="313.00"/></g></svg>
<div class="t s" style="left:205.10px;top:299.23px;font-size:7.3px;color:#2a2a2a;width:0"><span style="position:absolute;right:0">0.2</span></div>
<div class="t s" style="left:205.10px;top:284.29px;font-size:7.3px;color:#2a2a2a;width:0"><span style="position:absolute;right:0">0.4</span></div>
<div class="t s" style="left:205.10px;top:269.35px;font-size:7.3px;color:#2a2a2a;width:0"><span style="position:absolute;right:0">0.6</span></div>
<div class="t s" style="left:205.10px;top:254.41px;font-size:7.3px;color:#2a2a2a;width:0"><span style="position:absolute;right:0">0.8</span></div>
<div class="t s" style="left:205.10px;top:239.47px;font-size:7.3px;color:#2a2a2a;width:0"><span style="position:absolute;right:0">1.0</span></div>
<div class="t s" style="left:209.70px;top:314.9px;font-size:7.3px;color:#2a2a2a;width:0"><span style="position:absolute;left:0;transform:translateX(-50%)">0.0</span></div>
<div class="t s" style="left:228.12px;top:314.9px;font-size:7.3px;color:#2a2a2a;width:0"><span style="position:absolute;left:0;transform:translateX(-50%)">0.2</span></div>
<div class="t s" style="left:246.54px;top:314.9px;font-size:7.3px;color:#2a2a2a;width:0"><span style="position:absolute;left:0;transform:translateX(-50%)">0.4</span></div>
<div class="t s" style="left:264.96px;top:314.9px;font-size:7.3px;color:#2a2a2a;width:0"><span style="position:absolute;left:0;transform:translateX(-50%)">0.6</span></div>
<div class="t s" style="left:283.38px;top:314.9px;font-size:7.3px;color:#2a2a2a;width:0"><span style="position:absolute;left:0;transform:translateX(-50%)">0.8</span></div>
<div class="t s" style="left:301.80px;top:314.9px;font-size:7.3px;color:#2a2a2a;width:0"><span style="position:absolute;left:0;transform:translateX(-50%)">1.0</span></div>
<div class="t s" style="left:255.8px;top:224.8px;width:0;font-size:7.9px;color:#333"><span style="position:absolute;left:0;transform:translateX(-50%)">disordered (772.2 &Aring;)</span></div>
<div class="t s" style="left:182.1px;top:224.0px;font-size:10.0px;color:#000;font-weight:bold;-webkit-text-stroke:0.35px #000">j</div>
<div class="t r" style="left:253.2px;top:322.6px;font-size:8.8px;color:#333;font-style:italic">&eta;</div>
<div class="t s" style="left:186.2px;top:273.7px;width:0;height:0;font-size:8px;color:#2a2a2a"><span style="position:absolute;left:0;top:0;display:inline-block;transform:translate(-50%,-50%) rotate(-90deg);white-space:nowrap"><i>B</i><sub style="font-size:5px">iso</sub> (&Aring;<sup style="font-size:5px">2</sup>)</span></div>
<div style="position:absolute;left:315.3px;top:255.2px;width:3.4px;height:48.8px;background:linear-gradient(to bottom,#f0f921,#fca636 20%,#e16462 40%,#b12a90 60%,#6a00a8 80%,#0d0887)"></div>
<div class="t s" style="left:312.3px;top:234.2px;font-size:8.8px;color:#333;"><i>R</i><sub style="font-size:5px;vertical-align:-1.2px"><i>w</i></sub></div>
<div class="t s" style="left:317.00px;top:246.7px;font-size:7.3px;color:#2a2a2a;width:0"><span style="position:absolute;left:0;transform:translateX(-50%)">0.333</span></div>
<div class="t s" style="left:317.00px;top:304.9px;font-size:7.3px;color:#2a2a2a;width:0"><span style="position:absolute;left:0;transform:translateX(-50%)">0.141</span></div>
<div style="position:absolute;left:385.00px;top:236.30px;width:91.50px;height:74.70px;overflow:hidden"><div style="position:absolute;left:0;top:0px;width:100%;height:1.05px;background:linear-gradient(90deg,#f0f921 0%,#f2f227 4%,#fada24 9%,#fdc328 13%,#fdaf31 17%,#fa9b3d 22%,#f48948 26%,#ed7a52 30%,#e56b5d 35%,#dc5d67 39%,#d35171 43%,#ca457a 48%,#c03a83 52%,#b7318a 57%,#ae2892 61%,#a72197 65%,#a01a9c 70%,#9c179e 74%,#9814a0 78%,#9613a1 83%,#9511a1 87%,#9511a1 91%,#9613a1 96%,#9814a0 100%)"></div><div style="position:absolute;left:0;top:1px;width:100%;height:1.05px;background:linear-gradient(90deg,#f0f921 0%,#f2f227 4%,#fada24 9%,#fdc328 13%,#fdae32 17%,#fa9b3d 22%,#f48948 26%,#ed7953 30%,#e56a5d 35%,#dc5d67 39%,#d24f71 43%,#c9447a 48%,#c03a83 52%,#b6308b 57%,#ad2793 61%,#a62098 65%,#a01a9c 70%,#9a169f 74%,#9613a1 78%,#9511a1 83%,#9410a2 87%,#9410a2 91%,#9410a2 96%,#9511a1 100%)"></div><div style="position:absolute;left:0;top:2px;width:100%;height:1.05px;background:linear-gradient(90deg,#f0f921 0%,#f2f227 4%,#fad824 9%,#fdc328 13%,#fdae32 17%,#fa9b3d 22%,#f48948 26%,#ed7953 30%,#e56a5d 35%,#db5c68 39%,#d24f71 43%,#c8437b 48%,#bf3984 52%,#b52f8c 57%,#ac2694 61%,#a51f99 65%,#9e199d 70%,#99159f 74%,#9511a1 78%,#9410a2 83%,#920fa3 87%,#920fa3 91%,#920fa3 96%,#9410a2 100%)"></div><div style="position:absolute;left:0;top:3px;width:100%;height:1.05px;background:linear-gradient(90deg,#f0f921 0%,#f3f027 4%,#fad824 9%,#fdc229 13%,#fdae32 17%,#f99a3e 22%,#f48849 26%,#ec7754 30%,#e4695e 35%,#db5c68 39%,#d14e72 43%,#c8437b 48%,#be3885 52%,#b42e8d 57%,#ac2694 61%,#a31e9a 65%,#9d189d 70%,#9814a0 74%,#9410a2 78%,#920fa3 83%,#910ea3 87%,#910ea3 91%,#910ea3 96%,#920fa3 100%)"></div><div style="position:absolute;left:0;top:4px;width:100%;height:1.05px;background:linear-gradient(90deg,#f0f921 0%,#f3f027 4%,#fad824 9%,#fdc229 13%,#fdac33 17%,#f99a3e 22%,#f48849 26%,#ec7754 30%,#e4695e 35%,#da5b69 39%,#d14e72 43%,#c7427c 48%,#bd3786 52%,#b42e8d 57%,#ab2494 61%,#a21d9a 65%,#9c179e 70%,#9613a1 74%,#920fa3 78%,#910ea3 83%,#8f0da4 87%,#8f0da4 91%,#8f0da4 96%,#910ea3 100%)"></div><div style="position:absolute;left:0;top:5px;width:100%;height:1.05px;background:linear-gradient(90deg,#f0f921 0%,#f3f027 4%,#fad824 9%,#fdc229 13%,#fdac33 17%,#f9983e 22%,#f3874a 26%,#ec7754 30%,#e3685f 35%,#da5b69 39%,#d04d73 43%,#c7427c 48%,#bd3786 52%,#b32c8e 57%,#aa2395 61%,#a11b9b 65%,#9a169f 70%,#9511a1 74%,#910ea3 78%,#8e0ca4 83%,#8e0ca4 87%,#8e0ca4 91%,#8e0ca4 96%,#8f0da4 100%)"></div><div style="position:absolute;left:0;top:6px;width:100%;height:1.05px;background:linear-gradient(90deg,#f0f921 0%,#f3f027 4%,#fbd724 9%,#fec029 13%,#fdac33 17%,#f9983e 22%,#f3874a 26%,#eb7655 30%,#e3685f 35%,#da5a6a 39%,#d04d73 43%,#c6417d 48%,#bc3587 52%,#b22b8f 57%,#a82296 61%,#a01a9c 65%,#99159f 70%,#9410a2 74%,#8f0da4 78%,#8d0ba5 83%,#8d0ba5 87%,#8d0ba5 91%,#8d0ba5 96%,#8e0ca4 100%)"></div><div style="position:absolute;left:0;top:7px;width:100%;height:1.05px;background:linear-gradient(90deg,#f0f921 0%,#f3ee27 4%,#fbd724 9%,#fec029 13%,#fdab33 17%,#f9983e 22%,#f3874a 26%,#eb7655 30%,#e26660 35%,#da5a6a 39%,#cf4c74 43%,#c5407e 48%,#bb3488 52%,#b12a90 57%,#a72197 61%,#9e199d 65%,#9814a0 70%,#920fa3 74%,#8e0ca4 78%,#8b0aa5 83%,#8b0aa5 87%,#8b0aa5 91%,#8b0aa5 96%,#8d0ba5 100%)"></div><div style="position:absolute;left:0;top:8px;width:100%;height:1.05px;background:linear-gradient(90deg,#f0f921 0%,#f3ee27 4%,#fbd724 9%,#fec029 13%,#fdab33 17%,#f9973f 22%,#f3854b 26%,#eb7556 30%,#e26660 35%,#d9586a 39%,#cf4c74 43%,#c5407e 48%,#bb3488 52%,#b12a90 57%,#a62098 61%,#9d189d 65%,#9613a1 70%,#8f0da4 74%,#8d0ba5 78%,#8a09a5 83%,#8808a6 87%,#8808a6 91%,#8a09a5 96%,#8b0aa5 100%)"></div><div style="position:absolute;left:0;top:9px;width:100%;height:1.05px;background:linear-gradient(90deg,#f0f921 0%,#f3ee27 4%,#fbd724 9%,#febe2a 13%,#fdab33 17%,#f9973f 22%,#f3854b 26%,#eb7556 30%,#e26660 35%,#d9586a 39%,#ce4b75 43%,#c43e7f 48%,#ba3388 52%,#b02991 57%,#a62098 61%,#9c179e 65%,#9511a1 70%,#8e0ca4 74%,#8b0aa5 78%,#8808a6 83%,#8707a6 87%,#8707a6 91%,#8808a6 96%,#8a09a5 100%)"></div><div style="position:absolute;left:0;top:10px;width:100%;height:1.05px;background:linear-gradient(90deg,#f0f921 0%,#f3ee27 4%,#fbd524 9%,#febe2a 13%,#fca934 17%,#f9973f 22%,#f2844b 26%,#eb7556 30%,#e26561 35%,#d8576b 39%,#ce4b75 43%,#c43e7f 48%,#b83289 52%,#ae2892 57%,#a51f99 61%,#9c179e 65%,#9410a2 70%,#8d0ba5 74%,#8808a6 78%,#8707a6 83%,#8606a6 87%,#8606a6 91%,#8606a6 96%,#8808a6 100%)"></div><div style="position:absolute;left:0;top:11px;width:100%;height:1.05px;background:linear-gradient(90deg,#f0f921 0%,#f4ed27 4%,#fbd524 9%,#febe2a 13%,#fca934 17%,#f89540 22%,#f2844b 26%,#ea7457 30%,#e26561 35%,#d8576b 39%,#cd4a76 43%,#c33d80 48%,#b83289 52%,#ad2793 57%,#a31e9a 61%,#9a169f 65%,#920fa3 70%,#8b0aa5 74%,#8707a6 78%,#8606a6 83%,#8405a7 87%,#8405a7 91%,#8405a7 96%,#8606a6 100%)"></div><div style="position:absolute;left:0;top:12px;width:100%;height:1.05px;background:linear-gradient(90deg,#f0f921 0%,#f4ed27 4%,#fbd524 9%,#febe2a 13%,#fca934 17%,#f89540 22%,#f2844b 26%,#ea7457 30%,#e16462 35%,#d7566c 39%,#cc4977 43%,#c23c81 48%,#b7318a 52%,#ad2793 57%,#a21d9a 61%,#99159f 65%,#910ea3 70%,#8a09a5 74%,#8606a6 78%,#8305a7 83%,#8305a7 87%,#8305a7 91%,#8305a7 96%,#8405a7 100%)"></div><div style="position:absolute;left:0;top:13px;width:100%;height:1.05px;background:linear-gradient(90deg,#f0f921 0%,#f4ed27 4%,#fbd324 9%,#febd2a 13%,#fca835 17%,#f89540 22%,#f1834c 26%,#e97257 30%,#e16462 35%,#d7566c 39%,#cc4977 43%,#c23c81 48%,#b6308b 52%,#ac2694 57%,#a11b9b 61%,#9814a0 65%,#8f0da4 70%,#8808a6 74%,#8405a7 78%,#8104a7 83%,#8104a7 87%,#8104a7 91%,#8104a7 96%,#8305a7 100%)"></div><div style="position:absolute;left:0;top:14px;width:100%;height:1.05px;background:linear-gradient(90deg,#f0f921 0%,#f4ed27 4%,#fbd324 9%,#febd2a 13%,#fca835 17%,#f89441 22%,#f1834c 26%,#e97257 30%,#e06363 35%,#d6556d 39%,#cc4778 43%,#c13b82 48%,#b6308b 52%,#ab2494 57%,#a01a9c 61%,#9613a1 65%,#8e0ca4 70%,#8707a6 74%,#8305a7 78%,#8004a8 83%,#7e03a8 87%,#7e03a8 91%,#8004a8 96%,#8104a7 100%)"></div><div style="position:absolute;left:0;top:15px;width:100%;height:1.05px;background:linear-gradient(90deg,#f0f921 0%,#f5eb27 4%,#fbd324 9%,#febd2a 13%,#fca835 17%,#f89441 22%,#f1834c 26%,#e97257 30%,#e06363 35%,#d6556d 39%,#cc4778 43%,#c13b82 48%,#b52f8c 52%,#aa2395 57%,#a01a9c 61%,#9511a1 65%,#8d0ba5 70%,#8606a6 74%,#8104a7 78%,#7e03a8 83%,#7d03a8 87%,#7d03a8 91%,#7d03a8 96%,#8004a8 100%)"></div><div style="position:absolute;left:0;top:16px;width:100%;height:1.05px;background:linear-gradient(90deg,#f0f921 0%,#f5eb27 4%,#fbd324 9%,#febb2b 13%,#fca835 17%,#f89441 22%,#f1814d 26%,#e97158 30%,#e06363 35%,#d5546e 39%,#cb4679 43%,#c03a83 48%,#b42e8d 52%,#aa2395 57%,#9e199d 61%,#9410a2 65%,#8b0aa5 70%,#8405a7 74%,#7e03a8 78%,#7d03a8 83%,#7b02a8 87%,#7b02a8 91%,#7b02a8 96%,#7e03a8 100%)"></div><div style="position:absolute;left:0;top:17px;width:100%;height:1.05px;background:linear-gradient(90deg,#f0f921 0%,#f5eb27 4%,#fcd225 9%,#febb2b 13%,#fca636 17%,#f79342 22%,#f1814d 26%,#e97158 30%,#df6263 35%,#d5546e 39%,#cb4679 43%,#c03a83 48%,#b42e8d 52%,#a82296 57%,#9d189d 61%,#920fa3 65%,#8a09a5 70%,#8305a7 74%,#7d03a8 78%,#7a02a8 83%,#7a02a8 87%,#7a02a8 91%,#7a02a8 96%,#7b02a8 100%)"></div><div style="position:absolute;left:0;top:18px;width:100%;height:1.05px;background:linear-gradient(90deg,#f0f921 0%,#f5eb27 4%,#fcd225 9%,#febb2b 13%,#fca636 17%,#f79342 22%,#f1814d 26%,#e97158 30%,#df6263 35%,#d5536f 39%,#ca457a 43%,#bf3984 48%,#b32c8e 52%,#a72197 57%,#9c179e 61%,#910ea3 65%,#8808a6 70%,#8104a7 74%,#7b02a8 78%,#7801a8 83%,#7701a8 87%,#7701a8 91%,#7801a8 96%,#7a02a8 100%)"></div><div style="position:absolute;left:0;top:19px;width:100%;height:1.05px;background:linear-gradient(90deg,#f0f921 0%,#f5e926 4%,#fcd225 9%,#febb2b 13%,#fca636 17%,#f79342 22%,#f0804e 26%,#e87059 30%,#de6164 35%,#d5536f 39%,#ca457a 43%,#be3885 48%,#b32c8e 52%,#a62098 57%,#9a169f 61%,#8f0da4 65%,#8707a6 70%,#7e03a8 74%,#7a02a8 78%,#7701a8 83%,#7501a8 87%,#7501a8 91%,#7501a8 96%,#7801a8 100%)"></div><div style="position:absolute;left:0;top:20px;width:100%;height:1.05px;background:linear-gradient(90deg,#f0f921 0%,#f5e926 4%,#fcd225 9%,#feba2c 13%,#fca537 17%,#f79342 22%,#f0804e 26%,#e87059 30%,#de6164 35%,#d45270 39%,#c9447a 43%,#be3885 48%,#b22b8f 52%,#a62098 57%,#99159f 61%,#8e0ca4 65%,#8606a6 70%,#7d03a8 74%,#7801a8 78%,#7501a8 83%,#7401a8 87%,#7401a8 91%,#7401a8 96%,#7701a8 100%)"></div><div style="position:absolute;left:0;top:21px;width:100%;height:1.05px;background:linear-gradient(90deg,#f0f921 0%,#f5e926 4%,#fcd225 9%,#feba2c 13%,#fca537 17%,#f79143 22%,#f0804e 26%,#e76f5a 30%,#de5f65 35%,#d45270 39%,#c9447a 43%,#bd3786 48%,#b12a90 52%,#a51f99 57%,#99159f 61%,#8d0ba5 65%,#8305a7 70%,#7b02a8 74%,#7501a8 78%,#7201a8 83%,#7201a8 87%,#7100a8 91%,#7201a8 96%,#7401a8 100%)"></div><div style="position:absolute;left:0;top:22px;width:100%;height:1.05px;background:linear-gradient(90deg,#f0f921 0%,#f5e926 4%,#fcd025 9%,#feba2c 13%,#fca537 17%,#f79143 22%,#f07f4f 26%,#e76f5a 30%,#de5f65 35%,#d35171 39%,#c8437b 43%,#bd3786 48%,#b12a90 52%,#a31e9a 57%,#9814a0 61%,#8b0aa5 65%,#8104a7 70%,#7a02a8 74%,#7401a8 78%,#7100a8 83%,#6f00a8 87%,#6f00a8 91%,#7100a8 96%,#7201a8 100%)"></div><div style="position:absolute;left:0;top:23px;width:100%;height:1.05px;background:linear-gradient(90deg,#f0f921 0%,#f5e926 4%,#fcd025 9%,#feba2c 13%,#fca537 17%,#f79143 22%,#f07f4f 26%,#e76f5a 30%,#de5f65 35%,#d35171 39%,#c8437b 43%,#bc3587 48%,#b02991 52%,#a31e9a 57%,#9613a1 61%,#8b0aa5 65%,#8004a8 70%,#7801a8 74%,#7201a8 78%,#6f00a8 83%,#6e00a8 87%,#6e00a8 91%,#6e00a8 96%,#7100a8 100%)"></div><div style="position:absolute;left:0;top:24px;width:100%;height:1.05px;background:linear-gradient(90deg,#f0f921 0%,#f6e826 4%,#fcd025 9%,#feb82c 13%,#fca338 17%,#f79044 22%,#f07f4f 26%,#e76e5b 30%,#dd5e66 35%,#d35171 39%,#c7427c 43%,#bc3587 48%,#ae2892 52%,#a21d9a 57%,#9511a1 61%,#8a09a5 65%,#7e03a8 70%,#7701a8 74%,#7100a8 78%,#6c00a8 83%,#6a00a8 87%,#6a00a8 91%,#6c00a8 96%,#6e00a8 100%)"></div><div style="position:absolute;left:0;top:25px;width:100%;height:1.05px;background:linear-gradient(90deg,#f0f921 0%,#f6e826 4%,#fcd025 9%,#feb82c 13%,#fca338 17%,#f79044 22%,#ef7e50 26%,#e76e5b 30%,#dd5e66 35%,#d24f71 39%,#c7427c 43%,#bb3488 48%,#ae2892 52%,#a11b9b 57%,#9410a2 61%,#8808a6 65%,#7d03a8 70%,#7401a8 74%,#6e00a8 78%,#6a00a8 83%,#6900a8 87%,#6900a8 91%,#6900a8 96%,#6c00a8 100%)"></div><div style="position:absolute;left:0;top:26px;width:100%;height:1.05px;background:linear-gradient(90deg,#f0f921 0%,#f6e826 4%,#fcce25 9%,#feb82c 13%,#fca338 17%,#f79044 22%,#ef7e50 26%,#e76e5b 30%,#dd5e66 35%,#d24f71 39%,#c6417d 43%,#bb3488 48%,#ad2793 52%,#a01a9c 57%,#9410a2 61%,#8707a6 65%,#7b02a8 70%,#7201a8 74%,#6c00a8 78%,#6900a8 83%,#6700a8 87%,#6700a8 91%,#6700a8 96%,#6a00a8 100%)"></div><div style="position:absolute;left:0;top:27px;width:100%;height:1.05px;background:linear-gradient(90deg,#f0f921 0%,#f6e826 4%,#fcce25 9%,#feb82c 13%,#fca338 17%,#f79044 22%,#ef7e50 26%,#e66c5c 30%,#dc5d67 35%,#d14e72 39%,#c6417d 43%,#ba3388 48%,#ad2793 52%,#a01a9c 57%,#920fa3 61%,#8606a6 65%,#7a02a8 70%,#7100a8 74%,#6a00a8 78%,#6600a7 83%,#6400a7 87%,#6400a7 91%,#6600a7 96%,#6700a8 100%)"></div><div style="position:absolute;left:0;top:28px;width:100%;height:1.05px;background:linear-gradient(90deg,#f0f921 0%,#f6e826 4%,#fcce25 9%,#feb82c 13%,#fba238 17%,#f68f44 22%,#ef7e50 26%,#e66c5c 30%,#dc5d67 35%,#d14e72 39%,#c6417d 43%,#b83289 48%,#ac2694 52%,#9e199d 57%,#910ea3 61%,#8405a7 65%,#7801a8 70%,#6f00a8 74%,#6700a8 78%,#6400a7 83%,#6300a7 87%,#6300a7 91%,#6300a7 96%,#6600a7 100%)"></div><div style="position:absolute;left:0;top:29px;width:100%;height:1.05px;background:linear-gradient(90deg,#f0f921 0%,#f6e626 4%,#fcce25 9%,#feb72d 13%,#fba238 17%,#f68f44 22%,#ef7c51 26%,#e66c5c 30%,#db5c68 35%,#d14e72 39%,#c5407e 43%,#b83289 48%,#ab2494 52%,#9d189d 57%,#8f0da4 61%,#8305a7 65%,#7701a8 70%,#6e00a8 74%,#6600a7 78%,#6100a7 83%,#6001a6 87%,#6001a6 91%,#6100a7 96%,#6400a7 100%)"></div><div style="position:absolute;left:0;top:30px;width:100%;height:1.05px;background:linear-gradient(90deg,#f0f921 0%,#f6e626 4%,#fcce25 9%,#feb72d 13%,#fba238 17%,#f68f44 22%,#ef7c51 26%,#e56b5d 30%,#db5c68 35%,#d04d73 39%,#c5407e 43%,#b7318a 48%,#ab2494 52%,#9d189d 57%,#8e0ca4 61%,#8104a7 65%,#7501a8 70%,#6a00a8 74%,#6400a7 78%,#6001a6 83%,#5e01a6 87%,#5e01a6 91%,#5e01a6 96%,#6100a7 100%)"></div><div style="position:absolute;left:0;top:31px;width:100%;height:1.05px;background:linear-gradient(90deg,#f0f921 0%,#f6e626 4%,#fccd25 9%,#feb72d 13%,#fba238 17%,#f68d45 22%,#ef7c51 26%,#e56b5d 30%,#db5c68 35%,#d04d73 39%,#c43e7f 43%,#b7318a 48%,#aa2395 52%,#9c179e 57%,#8e0ca4 61%,#8004a8 65%,#7401a8 70%,#6900a8 74%,#6100a7 78%,#5c01a6 83%,#5b01a5 87%,#5b01a5 91%,#5c01a6 96%,#6001a6 100%)"></div><div style="position:absolute;left:0;top:32px;width:100%;height:1.05px;background:linear-gradient(90deg,#f0f921 0%,#f6e626 4%,#fccd25 9%,#feb72d 13%,#fba139 17%,#f68d45 22%,#ee7b51 26%,#e56b5d 30%,#da5b69 35%,#cf4c74 39%,#c43e7f 43%,#b6308b 48%,#aa2395 52%,#9a169f 57%,#8d0ba5 61%,#7e03a8 65%,#7201a8 70%,#6700a8 74%,#6001a6 78%,#5b01a5 83%,#5901a5 87%,#5801a4 91%,#5901a5 96%,#5c01a6 100%)"></div><div style="position:absolute;left:0;top:33px;width:100%;height:1.05px;background:linear-gradient(90deg,#f0f921 0%,#f6e626 4%,#fccd25 9%,#fdb52e 13%,#fba139 17%,#f68d45 22%,#ee7b51 26%,#e56a5d 30%,#da5b69 35%,#cf4c74 39%,#c33d80 43%,#b6308b 48%,#a82296 52%,#9a169f 57%,#8b0aa5 61%,#7d03a8 65%,#7100a8 70%,#6600a7 74%,#5c01a6 78%,#5801a4 83%,#5601a4 87%,#5601a4 91%,#5601a4 96%,#5b01a5 100%)"></div><div style="position:absolute;left:0;top:34px;width:100%;height:1.05px;background:linear-gradient(90deg,#f0f921 0%,#f6e626 4%,#fccd25 9%,#fdb52e 13%,#fba139 17%,#f68d45 22%,#ee7b51 26%,#e56a5d 30%,#da5b69 35%,#cf4c74 39%,#c33d80 43%,#b6308b 48%,#a82296 52%,#99159f 57%,#8a09a5 61%,#7d03a8 65%,#6f00a8 70%,#6300a7 74%,#5b01a5 78%,#5601a4 83%,#5302a3 87%,#5302a3 91%,#5502a4 96%,#5801a4 100%)"></div><div style="position:absolute;left:0;top:35px;width:100%;height:1.05px;background:linear-gradient(90deg,#f0f921 0%,#f7e425 4%,#fccd25 9%,#fdb52e 13%,#fba139 17%,#f68d45 22%,#ee7b51 26%,#e56a5d 30%,#da5a6a 35%,#ce4b75 39%,#c33d80 43%,#b52f8c 48%,#a72197 52%,#99159f 57%,#8a09a5 61%,#7b02a8 65%,#6e00a8 70%,#6100a7 74%,#5801a4 78%,#5302a3 83%,#5102a3 87%,#5002a2 91%,#5102a3 96%,#5601a4 100%)"></div><div style="position:absolute;left:0;top:36px;width:100%;height:1.05px;background:linear-gradient(90deg,#f0f921 0%,#f7e425 4%,#fdcb26 9%,#fdb52e 13%,#fb9f3a 17%,#f58c46 22%,#ed7a52 26%,#e56a5d 30%,#da5a6a 35%,#ce4b75 39%,#c23c81 43%,#b52f8c 48%,#a72197 52%,#9814a0 57%,#8808a6 61%,#7a02a8 65%,#6c00a8 70%,#6001a6 74%,#5601a4 78%,#5002a2 83%,#4e02a2 87%,#4e02a2 91%,#4e02a2 96%,#5302a3 100%)"></div><div style="position:absolute;left:0;top:37px;width:100%;height:1.05px;background:linear-gradient(90deg,#f0f921 0%,#f7e425 4%,#fdcb26 9%,#fdb52e 13%,#fb9f3a 17%,#f58c46 22%,#ed7a52 26%,#e4695e 30%,#da5a6a 35%,#ce4b75 39%,#c23c81 43%,#b42e8d 48%,#a62098 52%,#9613a1 57%,#8707a6 61%,#7801a8 65%,#6a00a8 70%,#5e01a6 74%,#5302a3 78%,#4c02a1 83%,#4b03a1 87%,#4b03a1 91%,#4c02a1 96%,#5102a3 100%)"></div><div style="position:absolute;left:0;top:38px;width:100%;height:1.05px;background:linear-gradient(90deg,#f0f921 0%,#f7e425 4%,#fdcb26 9%,#fdb52e 13%,#fb9f3a 17%,#f58c46 22%,#ed7a52 26%,#e4695e 30%,#da5a6a 35%,#cd4a76 39%,#c13b82 43%,#b42e8d 48%,#a62098 52%,#9613a1 57%,#8707a6 61%,#7701a8 65%,#6900a8 70%,#5b01a5 74%,#5102a3 78%,#4b03a1 83%,#48039f 87%,#48039f 91%,#4903a0 96%,#4e02a2 100%)"></div><div style="position:absolute;left:0;top:39px;width:100%;height:1.05px;background:linear-gradient(90deg,#f0f921 0%,#f7e425 4%,#fdcb26 9%,#fdb42f 13%,#fb9f3a 17%,#f58c46 22%,#ed7a52 26%,#e4695e 30%,#d9586a 35%,#cd4a76 39%,#c13b82 43%,#b32c8e 48%,#a51f99 52%,#9511a1 57%,#8606a6 61%,#7501a8 65%,#6700a8 70%,#5901a5 74%,#4e02a2 78%,#48039f 83%,#44039e 87%,#44039e 91%,#46039f 96%,#4b03a1 100%)"></div><div style="position:absolute;left:0;top:40px;width:100%;height:1.05px;background:linear-gradient(90deg,#f0f921 0%,#f7e425 4%,#fdcb26 9%,#fdb42f 13%,#fb9f3a 17%,#f58b47 22%,#ed7953 26%,#e4695e 30%,#d9586a 35%,#cd4a76 39%,#c13b82 43%,#b32c8e 48%,#a51f99 52%,#9511a1 57%,#8405a7 61%,#7501a8 65%,#6600a7 70%,#5801a4 74%,#4c02a1 78%,#44039e 83%,#41049d 87%,#41049d 91%,#43039e 96%,#48039f 100%)"></div><div style="position:absolute;left:0;top:41px;width:100%;height:1.05px;background:linear-gradient(90deg,#f0f921 0%,#f7e225 4%,#fdcb26 9%,#fdb42f 13%,#fb9f3a 17%,#f58b47 22%,#ed7953 26%,#e3685f 30%,#d9586a 35%,#cc4977 39%,#c03a83 43%,#b32c8e 48%,#a31e9a 52%,#9410a2 57%,#8405a7 61%,#7401a8 65%,#6400a7 70%,#5601a4 74%,#4903a0 78%,#41049d 83%,#3e049c 87%,#3e049c 91%,#3f049c 96%,#46039f 100%)"></div><div style="position:absolute;left:0;top:42px;width:100%;height:1.05px;background:linear-gradient(90deg,#f0f921 0%,#f7e225 4%,#fdcb26 9%,#fdb42f 13%,#fa9e3b 17%,#f58b47 22%,#ed7953 26%,#e3685f 30%,#d9586a 35%,#cc4977 39%,#c03a83 43%,#b22b8f 48%,#a31e9a 52%,#9410a2 57%,#8305a7 61%,#7201a8 65%,#6300a7 70%,#5302a3 74%,#48039f 78%,#3e049c 83%,#3a049a 87%,#38049a 91%,#3c049b 96%,#43039e 100%)"></div><div style="position:absolute;left:0;top:43px;width:100%;height:1.05px;background:linear-gradient(90deg,#f0f921 0%,#f7e225 4%,#fdca26 9%,#fdb42f 13%,#fa9e3b 17%,#f58b47 22%,#ed7953 26%,#e3685f 30%,#d8576b 35%,#cc4977 39%,#c03a83 43%,#b22b8f 48%,#a21d9a 52%,#920fa3 57%,#8305a7 61%,#7100a8 65%,#6100a7 70%,#5102a3 74%,#44039e 78%,#3a049a 83%,#350498 87%,#350498 91%,#370499 96%,#3f049c 100%)"></div><div style="position:absolute;left:0;top:44px;width:100%;height:1.05px;background:linear-gradient(90deg,#f0f921 0%,#f7e225 4%,#fdca26 9%,#fdb42f 13%,#fa9e3b 17%,#f58b47 22%,#ed7953 26%,#e3685f 30%,#d8576b 35%,#cc4977 39%,#c03a83 43%,#b22b8f 48%,#a21d9a 52%,#920fa3 57%,#8104a7 61%,#7100a8 65%,#6001a6 70%,#5002a2 74%,#41049d 78%,#370499 83%,#310597 87%,#2f0596 91%,#330597 96%,#3c049b 100%)"></div><div style="position:absolute;left:0;top:45px;width:100%;height:1.05px;background:linear-gradient(90deg,#f0f921 0%,#f7e225 4%,#fdca26 9%,#fdb42f 13%,#fa9e3b 17%,#f58b47 22%,#ed7953 26%,#e3685f 30%,#d8576b 35%,#cc4977 39%,#bf3984 43%,#b12a90 48%,#a21d9a 52%,#920fa3 57%,#8104a7 61%,#6f00a8 65%,#5e01a6 70%,#4e02a2 74%,#3f049c 78%,#330597 83%,#2c0594 87%,#2a0593 91%,#2f0596 96%,#3a049a 100%)"></div><div style="position:absolute;left:0;top:46px;width:100%;height:1.05px;background:linear-gradient(90deg,#f0f921 0%,#f7e225 4%,#fdca26 9%,#fdb22f 13%,#fa9e3b 17%,#f58b47 22%,#ec7754 26%,#e3685f 30%,#d8576b 35%,#cc4778 39%,#bf3984 43%,#b12a90 48%,#a21d9a 52%,#910ea3 57%,#8004a8 61%,#6f00a8 65%,#5e01a6 70%,#4c02a1 74%,#3e049c 78%,#2e0595 83%,#240691 87%,#240691 91%,#2a0593 96%,#370499 100%)"></div><div style="position:absolute;left:0;top:47px;width:100%;height:1.05px;background:linear-gradient(90deg,#f0f921 0%,#f7e225 4%,#fdca26 9%,#fdb22f 13%,#fa9e3b 17%,#f58b47 22%,#ec7754 26%,#e26660 30%,#d8576b 35%,#cc4778 39%,#bf3984 43%,#b12a90 48%,#a11b9b 52%,#910ea3 57%,#8004a8 61%,#6e00a8 65%,#5c01a6 70%,#4b03a1 74%,#3c049b 78%,#2c0594 83%,#1d068e 87%,#19068c 91%,#240691 96%,#350498 100%)"></div><div style="position:absolute;left:0;top:48px;width:100%;height:1.05px;background:linear-gradient(90deg,#f0f921 0%,#f7e225 4%,#fdca26 9%,#fdb22f 13%,#fa9e3b 17%,#f58b47 22%,#ec7754 26%,#e26660 30%,#d8576b 35%,#cc4778 39%,#bf3984 43%,#b12a90 48%,#a11b9b 52%,#910ea3 57%,#8004a8 61%,#6e00a8 65%,#5c01a6 70%,#4b03a1 74%,#3a049a 78%,#2a0593 83%,#1b068d 87%,#19068c 91%,#240691 96%,#350498 100%)"></div><div style="position:absolute;left:0;top:49px;width:100%;height:1.05px;background:linear-gradient(90deg,#f0f921 0%,#f7e225 4%,#fdca26 9%,#fdb22f 13%,#fa9e3b 17%,#f58b47 22%,#ec7754 26%,#e3685f 30%,#d8576b 35%,#cc4778 39%,#bf3984 43%,#b12a90 48%,#a21d9a 52%,#910ea3 57%,#8004a8 61%,#6f00a8 65%,#5e01a6 70%,#4c02a1 74%,#3e049c 78%,#2e0595 83%,#240691 87%,#240691 91%,#2a0593 96%,#370499 100%)"></div><div style="position:absolute;left:0;top:50px;width:100%;height:1.05px;background:linear-gradient(90deg,#f0f921 0%,#f7e225 4%,#fdca26 9%,#fdb42f 13%,#fa9e3b 17%,#f58b47 22%,#ed7953 26%,#e3685f 30%,#d8576b 35%,#cc4977 39%,#bf3984 43%,#b12a90 48%,#a21d9a 52%,#920fa3 57%,#8104a7 61%,#6f00a8 65%,#5e01a6 70%,#4e02a2 74%,#3f049c 78%,#310597 83%,#2c0594 87%,#2a0593 91%,#2e0595 96%,#3a049a 100%)"></div><div style="position:absolute;left:0;top:51px;width:100%;height:1.05px;background:linear-gradient(90deg,#f0f921 0%,#f7e225 4%,#fdca26 9%,#fdb42f 13%,#fa9e3b 17%,#f58b47 22%,#ed7953 26%,#e3685f 30%,#d8576b 35%,#cc4977 39%,#c03a83 43%,#b22b8f 48%,#a21d9a 52%,#920fa3 57%,#8104a7 61%,#7100a8 65%,#6001a6 70%,#5002a2 74%,#41049d 78%,#370499 83%,#2f0596 87%,#2f0596 91%,#330597 96%,#3c049b 100%)"></div><div style="position:absolute;left:0;top:52px;width:100%;height:1.05px;background:linear-gradient(90deg,#f0f921 0%,#f7e225 4%,#fdca26 9%,#fdb42f 13%,#fa9e3b 17%,#f58b47 22%,#ed7953 26%,#e3685f 30%,#d8576b 35%,#cc4977 39%,#c03a83 43%,#b22b8f 48%,#a21d9a 52%,#920fa3 57%,#8305a7 61%,#7100a8 65%,#6100a7 70%,#5102a3 74%,#44039e 78%,#3a049a 83%,#350498 87%,#350498 91%,#370499 96%,#3f049c 100%)"></div><div style="position:absolute;left:0;top:53px;width:100%;height:1.05px;background:linear-gradient(90deg,#f0f921 0%,#f7e225 4%,#fdcb26 9%,#fdb42f 13%,#fa9e3b 17%,#f58b47 22%,#ed7953 26%,#e3685f 30%,#d9586a 35%,#cc4977 39%,#c03a83 43%,#b22b8f 48%,#a31e9a 52%,#9410a2 57%,#8305a7 61%,#7201a8 65%,#6300a7 70%,#5302a3 74%,#46039f 78%,#3e049c 83%,#38049a 87%,#38049a 91%,#3c049b 96%,#43039e 100%)"></div><div style="position:absolute;left:0;top:54px;width:100%;height:1.05px;background:linear-gradient(90deg,#f0f921 0%,#f7e225 4%,#fdcb26 9%,#fdb42f 13%,#fb9f3a 17%,#f58b47 22%,#ed7953 26%,#e3685f 30%,#d9586a 35%,#cc4977 39%,#c03a83 43%,#b32c8e 48%,#a31e9a 52%,#9410a2 57%,#8405a7 61%,#7401a8 65%,#6400a7 70%,#5502a4 74%,#4903a0 78%,#41049d 83%,#3e049c 87%,#3e049c 91%,#3f049c 96%,#46039f 100%)"></div><div style="position:absolute;left:0;top:55px;width:100%;height:1.05px;background:linear-gradient(90deg,#f0f921 0%,#f7e425 4%,#fdcb26 9%,#fdb42f 13%,#fb9f3a 17%,#f58b47 22%,#ed7953 26%,#e4695e 30%,#d9586a 35%,#cd4a76 39%,#c13b82 43%,#b32c8e 48%,#a51f99 52%,#9511a1 57%,#8405a7 61%,#7401a8 65%,#6600a7 70%,#5801a4 74%,#4c02a1 78%,#44039e 83%,#41049d 87%,#41049d 91%,#43039e 96%,#48039f 100%)"></div><div style="position:absolute;left:0;top:56px;width:100%;height:1.05px;background:linear-gradient(90deg,#f0f921 0%,#f7e425 4%,#fdcb26 9%,#fdb42f 13%,#fb9f3a 17%,#f58c46 22%,#ed7a52 26%,#e4695e 30%,#d9586a 35%,#cd4a76 39%,#c13b82 43%,#b32c8e 48%,#a51f99 52%,#9511a1 57%,#8606a6 61%,#7501a8 65%,#6600a7 70%,#5901a5 74%,#4e02a2 78%,#48039f 83%,#44039e 87%,#44039e 91%,#46039f 96%,#4b03a1 100%)"></div><div style="position:absolute;left:0;top:57px;width:100%;height:1.05px;background:linear-gradient(90deg,#f0f921 0%,#f7e425 4%,#fdcb26 9%,#fdb42f 13%,#fb9f3a 17%,#f58c46 22%,#ed7a52 26%,#e4695e 30%,#da5a6a 35%,#cd4a76 39%,#c13b82 43%,#b42e8d 48%,#a62098 52%,#9613a1 57%,#8707a6 61%,#7701a8 65%,#6700a8 70%,#5b01a5 74%,#5102a3 78%,#4b03a1 83%,#48039f 87%,#48039f 91%,#4903a0 96%,#4e02a2 100%)"></div><div style="position:absolute;left:0;top:58px;width:100%;height:1.05px;background:linear-gradient(90deg,#f0f921 0%,#f7e425 4%,#fdcb26 9%,#fdb52e 13%,#fb9f3a 17%,#f58c46 22%,#ed7a52 26%,#e4695e 30%,#da5a6a 35%,#ce4b75 39%,#c23c81 43%,#b42e8d 48%,#a62098 52%,#9613a1 57%,#8707a6 61%,#7801a8 65%,#6a00a8 70%,#5c01a6 74%,#5302a3 78%,#4c02a1 83%,#4b03a1 87%,#4b03a1 91%,#4b03a1 96%,#5002a2 100%)"></div><div style="position:absolute;left:0;top:59px;width:100%;height:1.05px;background:linear-gradient(90deg,#f0f921 0%,#f7e425 4%,#fdcb26 9%,#fdb52e 13%,#fb9f3a 17%,#f58c46 22%,#ed7a52 26%,#e56a5d 30%,#da5a6a 35%,#ce4b75 39%,#c23c81 43%,#b52f8c 48%,#a72197 52%,#9814a0 57%,#8808a6 61%,#7a02a8 65%,#6c00a8 70%,#6001a6 74%,#5601a4 78%,#5002a2 83%,#4e02a2 87%,#4c02a1 91%,#4e02a2 96%,#5302a3 100%)"></div><div style="position:absolute;left:0;top:60px;width:100%;height:1.05px;background:linear-gradient(90deg,#f0f921 0%,#f7e425 4%,#fccd25 9%,#fdb52e 13%,#fba139 17%,#f68d45 22%,#ee7b51 26%,#e56a5d 30%,#da5a6a 35%,#ce4b75 39%,#c33d80 43%,#b52f8c 48%,#a72197 52%,#99159f 57%,#8a09a5 61%,#7b02a8 65%,#6e00a8 70%,#6100a7 74%,#5801a4 78%,#5302a3 83%,#5002a2 87%,#5002a2 91%,#5102a3 96%,#5601a4 100%)"></div><div style="position:absolute;left:0;top:61px;width:100%;height:1.05px;background:linear-gradient(90deg,#f0f921 0%,#f6e626 4%,#fccd25 9%,#fdb52e 13%,#fba139 17%,#f68d45 22%,#ee7b51 26%,#e56a5d 30%,#da5b69 35%,#cf4c74 39%,#c33d80 43%,#b6308b 48%,#a82296 52%,#99159f 57%,#8a09a5 61%,#7b02a8 65%,#6f00a8 70%,#6300a7 74%,#5b01a5 78%,#5502a4 83%,#5302a3 87%,#5302a3 91%,#5502a4 96%,#5801a4 100%)"></div><div style="position:absolute;left:0;top:62px;width:100%;height:1.05px;background:linear-gradient(90deg,#f0f921 0%,#f6e626 4%,#fccd25 9%,#fdb52e 13%,#fba139 17%,#f68d45 22%,#ee7b51 26%,#e56a5d 30%,#da5b69 35%,#cf4c74 39%,#c33d80 43%,#b6308b 48%,#a82296 52%,#9a169f 57%,#8b0aa5 61%,#7d03a8 65%,#7100a8 70%,#6600a7 74%,#5c01a6 78%,#5801a4 83%,#5601a4 87%,#5601a4 91%,#5601a4 96%,#5b01a5 100%)"></div><div style="position:absolute;left:0;top:63px;width:100%;height:1.05px;background:linear-gradient(90deg,#f0f921 0%,#f6e626 4%,#fccd25 9%,#feb72d 13%,#fba139 17%,#f68d45 22%,#ee7b51 26%,#e56b5d 30%,#da5b69 35%,#cf4c74 39%,#c43e7f 43%,#b6308b 48%,#aa2395 52%,#9a169f 57%,#8d0ba5 61%,#7e03a8 65%,#7201a8 70%,#6700a8 74%,#6001a6 78%,#5b01a5 83%,#5801a4 87%,#5801a4 91%,#5901a5 96%,#5c01a6 100%)"></div><div style="position:absolute;left:0;top:64px;width:100%;height:1.05px;background:linear-gradient(90deg,#f0f921 0%,#f6e626 4%,#fccd25 9%,#feb72d 13%,#fba238 17%,#f68d45 22%,#ef7c51 26%,#e56b5d 30%,#db5c68 35%,#d04d73 39%,#c43e7f 43%,#b7318a 48%,#aa2395 52%,#9c179e 57%,#8e0ca4 61%,#8004a8 65%,#7401a8 70%,#6900a8 74%,#6100a7 78%,#5c01a6 83%,#5b01a5 87%,#5b01a5 91%,#5c01a6 96%,#6001a6 100%)"></div><div style="position:absolute;left:0;top:65px;width:100%;height:1.05px;background:linear-gradient(90deg,#f0f921 0%,#f6e626 4%,#fcce25 9%,#feb72d 13%,#fba238 17%,#f68f44 22%,#ef7c51 26%,#e56b5d 30%,#db5c68 35%,#d04d73 39%,#c5407e 43%,#b7318a 48%,#ab2494 52%,#9d189d 57%,#8e0ca4 61%,#8104a7 65%,#7501a8 70%,#6a00a8 74%,#6300a7 78%,#6001a6 83%,#5e01a6 87%,#5c01a6 91%,#5e01a6 96%,#6100a7 100%)"></div><div style="position:absolute;left:0;top:66px;width:100%;height:1.05px;background:linear-gradient(90deg,#f0f921 0%,#f6e626 4%,#fcce25 9%,#feb72d 13%,#fba238 17%,#f68f44 22%,#ef7c51 26%,#e66c5c 30%,#db5c68 35%,#d14e72 39%,#c5407e 43%,#b83289 48%,#ab2494 52%,#9d189d 57%,#8f0da4 61%,#8305a7 65%,#7701a8 70%,#6c00a8 74%,#6600a7 78%,#6100a7 83%,#6001a6 87%,#6001a6 91%,#6100a7 96%,#6400a7 100%)"></div><div style="position:absolute;left:0;top:67px;width:100%;height:1.05px;background:linear-gradient(90deg,#f0f921 0%,#f6e826 4%,#fcce25 9%,#feb72d 13%,#fba238 17%,#f68f44 22%,#ef7c51 26%,#e66c5c 30%,#dc5d67 35%,#d14e72 39%,#c5407e 43%,#b83289 48%,#ac2694 52%,#9e199d 57%,#910ea3 61%,#8405a7 65%,#7801a8 70%,#6f00a8 74%,#6700a8 78%,#6400a7 83%,#6300a7 87%,#6300a7 91%,#6300a7 96%,#6600a7 100%)"></div><div style="position:absolute;left:0;top:68px;width:100%;height:1.05px;background:linear-gradient(90deg,#f0f921 0%,#f6e826 4%,#fcce25 9%,#feb82c 13%,#fca338 17%,#f79044 22%,#ef7e50 26%,#e66c5c 30%,#dc5d67 35%,#d14e72 39%,#c6417d 43%,#ba3388 48%,#ad2793 52%,#a01a9c 57%,#920fa3 61%,#8606a6 65%,#7a02a8 70%,#7100a8 74%,#6a00a8 78%,#6600a7 83%,#6400a7 87%,#6400a7 91%,#6600a7 96%,#6700a8 100%)"></div><div style="position:absolute;left:0;top:69px;width:100%;height:1.05px;background:linear-gradient(90deg,#f0f921 0%,#f6e826 4%,#fcce25 9%,#feb82c 13%,#fca338 17%,#f79044 22%,#ef7e50 26%,#e76e5b 30%,#dd5e66 35%,#d24f71 39%,#c6417d 43%,#ba3388 48%,#ad2793 52%,#a01a9c 57%,#9410a2 61%,#8707a6 65%,#7b02a8 70%,#7201a8 74%,#6c00a8 78%,#6700a8 83%,#6700a8 87%,#6600a7 91%,#6700a8 96%,#6a00a8 100%)"></div><div style="position:absolute;left:0;top:70px;width:100%;height:1.05px;background:linear-gradient(90deg,#f0f921 0%,#f6e826 4%,#fcd025 9%,#feb82c 13%,#fca338 17%,#f79044 22%,#ef7e50 26%,#e76e5b 30%,#dd5e66 35%,#d24f71 39%,#c7427c 43%,#bb3488 48%,#ae2892 52%,#a11b9b 57%,#9410a2 61%,#8808a6 65%,#7d03a8 70%,#7401a8 74%,#6e00a8 78%,#6a00a8 83%,#6900a8 87%,#6900a8 91%,#6900a8 96%,#6c00a8 100%)"></div><div style="position:absolute;left:0;top:71px;width:100%;height:1.05px;background:linear-gradient(90deg,#f0f921 0%,#f6e826 4%,#fcd025 9%,#feb82c 13%,#fca338 17%,#f79044 22%,#f07f4f 26%,#e76e5b 30%,#dd5e66 35%,#d35171 39%,#c7427c 43%,#bc3587 48%,#ae2892 52%,#a21d9a 57%,#9511a1 61%,#8a09a5 65%,#7e03a8 70%,#7701a8 74%,#7100a8 78%,#6c00a8 83%,#6a00a8 87%,#6a00a8 91%,#6c00a8 96%,#6e00a8 100%)"></div><div style="position:absolute;left:0;top:72px;width:100%;height:1.05px;background:linear-gradient(90deg,#f0f921 0%,#f5e926 4%,#fcd025 9%,#feba2c 13%,#fca537 17%,#f79143 22%,#f07f4f 26%,#e76f5a 30%,#de5f65 35%,#d35171 39%,#c8437b 43%,#bc3587 48%,#b02991 52%,#a31e9a 57%,#9613a1 61%,#8a09a5 65%,#8004a8 70%,#7801a8 74%,#7201a8 78%,#6f00a8 83%,#6e00a8 87%,#6e00a8 91%,#6e00a8 96%,#7100a8 100%)"></div><div style="position:absolute;left:0;top:73px;width:100%;height:1.05px;background:linear-gradient(90deg,#f0f921 0%,#f5e926 4%,#fcd025 9%,#feba2c 13%,#fca537 17%,#f79143 22%,#f07f4f 26%,#e76f5a 30%,#de5f65 35%,#d35171 39%,#c8437b 43%,#bd3786 48%,#b12a90 52%,#a31e9a 57%,#9814a0 61%,#8b0aa5 65%,#8104a7 70%,#7a02a8 74%,#7401a8 78%,#7100a8 83%,#6f00a8 87%,#6f00a8 91%,#6f00a8 96%,#7201a8 100%)"></div><div style="position:absolute;left:0;top:74px;width:100%;height:1.05px;background:linear-gradient(90deg,#f0f921 0%,#f5e926 4%,#fcd025 9%,#feba2c 13%,#fca537 17%,#f79143 22%,#f0804e 26%,#e76f5a 30%,#de5f65 35%,#d45270 39%,#c9447a 43%,#bd3786 48%,#b12a90 52%,#a51f99 57%,#99159f 61%,#8d0ba5 65%,#8305a7 70%,#7b02a8 74%,#7501a8 78%,#7201a8 83%,#7100a8 87%,#7100a8 91%,#7201a8 96%,#7401a8 100%)"></div><svg width="91.50" height="74.70" style="position:absolute;left:0;top:0"><g fill="none" stroke="#fff" stroke-opacity="0.5" stroke-width="0.6"><path d="M80.7 47.5 L80.0 47.8 L80.0 48.4 L81.5 48.7 L83.0 48.7 L84.6 48.5 L84.6 47.7 L83.8 47.5 L82.3 47.4 L80.7 47.5"/><path d="M78.4 44.3 L77.7 44.5 L76.1 45.2 L75.4 45.7 L74.6 46.4 L73.8 47.4 L73.6 48.3 L74.0 49.0 L74.7 49.8 L75.6 50.6 L76.9 51.2 L77.7 51.5 L79.2 51.9 L80.7 52.0 L82.2 52.1 L82.4 52.1 L83.8 52.0 L85.3 51.9 L86.9 51.6 L87.7 51.3 L89.1 50.6 L90.0 49.9 L90.7 49.0 L91.1 48.3 L90.7 47.1 L90.0 46.2 L89.2 45.6 L88.4 45.1 L87.0 44.5 L86.1 44.3 L84.6 44.1 L83.0 44.0 L81.5 44.0 L80.0 44.1 L78.4 44.3"/><path d="M91.5 41.1 L90.7 40.5 L89.7 40.0 L88.4 39.4 L87.7 39.2 L86.1 38.9 L84.6 38.7 L83.0 38.7 L81.5 38.7 L80.0 38.7 L78.4 38.9 L76.9 39.2 L76.1 39.5 L75.0 40.0 L73.8 40.6 L73.0 41.2 L72.3 41.8 L71.5 42.6 L70.7 43.6 L70.1 44.5 L69.7 45.3 L69.2 46.3 L68.8 47.5 L68.9 49.0 L69.2 49.8 L70.0 51.3 L70.4 52.1 L71.0 52.8 L71.6 53.6 L72.4 54.3 L73.3 55.1 L74.5 55.8 L75.4 56.3 L76.2 56.6 L77.7 57.0 L79.2 57.3 L80.2 57.3 L81.5 57.4 L83.0 57.4 L84.5 57.3 L85.3 57.3 L86.9 57.1 L88.4 56.6 L89.2 56.3 L90.2 55.8 L91.4 55.1"/><path d="M91.5 33.7 L90.5 33.2 L89.2 32.7 L88.4 32.4 L86.9 32.1 L85.3 31.9 L83.8 31.9 L82.3 31.8 L80.7 31.9 L79.2 32.0 L77.7 32.1 L76.3 32.4 L75.4 32.7 L74.2 33.2 L73.0 33.8 L72.3 34.3 L71.5 34.8 L70.7 35.5 L70.0 36.2 L69.2 37.1 L68.4 38.0 L67.7 39.1 L67.1 40.0 L66.7 40.7 L66.1 41.8 L65.6 43.0 L65.3 43.8 L64.8 45.3 L64.6 46.0 L64.3 47.5 L64.4 49.0 L64.6 50.1 L65.0 51.3 L65.4 52.4 L65.8 53.6 L66.2 54.3 L66.9 55.7 L67.4 56.6 L67.9 57.3 L68.5 58.1 L69.2 59.0 L70.0 59.8 L70.7 60.6 L71.5 61.2 L72.4 61.9 L73.7 62.6 L74.6 63.0 L75.5 63.4 L76.9 63.8 L78.4 64.0 L79.6 64.1 L80.7 64.2 L82.3 64.2 L83.8 64.2 L85.2 64.1 L86.1 64.0 L87.7 63.8 L89.2 63.4 L90.0 63.1 L91.0 62.6"/><path d="M91.5 25.3 L90.5 24.9 L89.2 24.5 L87.9 24.1 L86.9 24.0 L85.3 23.8 L83.8 23.8 L82.3 23.7 L80.7 23.8 L79.2 23.8 L77.7 24.0 L76.8 24.1 L75.4 24.5 L74.2 24.9 L73.0 25.4 L72.3 25.8 L71.3 26.4 L70.2 27.2 L69.3 27.9 L68.5 28.7 L67.8 29.4 L67.2 30.2 L66.6 30.9 L66.0 31.7 L65.4 32.7 L64.6 34.0 L64.2 34.7 L63.8 35.5 L63.1 37.0 L62.7 37.7 L62.3 38.9 L61.9 40.0 L61.5 41.0 L61.1 42.3 L60.7 43.6 L60.5 44.5 L60.2 46.0 L60.0 47.5 L60.0 48.3 L60.1 49.0 L60.3 50.6 L60.6 52.1 L60.8 52.8 L61.3 54.3 L61.5 55.1 L62.0 56.6 L62.3 57.3 L63.0 58.9 L63.3 59.6 L63.8 60.7 L64.5 61.9 L64.9 62.6 L65.4 63.4 L66.1 64.5 L66.9 65.5 L67.6 66.4 L68.3 67.2 L69.1 67.9 L69.9 68.7 L70.7 69.3 L71.5 69.8 L72.3 70.3 L73.6 70.9 L74.6 71.3 L75.8 71.7 L76.9 71.9 L78.4 72.2 L80.0 72.3 L81.5 72.3 L83.0 72.3 L84.6 72.3 L86.1 72.2 L87.7 72.0 L88.9 71.7 L90.0 71.4 L91.1 70.9"/><path d="M91.5 15.8 L90.0 15.3 L89.2 15.1 L87.7 14.8 L86.1 14.6 L84.6 14.5 L83.0 14.5 L81.5 14.5 L80.0 14.5 L78.4 14.6 L76.9 14.8 L75.5 15.1 L74.6 15.4 L73.2 15.8 L72.3 16.3 L71.5 16.7 L70.4 17.4 L69.3 18.1 L68.4 18.8 L67.7 19.5 L66.9 20.3 L66.1 21.1 L65.5 21.9 L64.9 22.6 L64.4 23.4 L63.8 24.2 L63.1 25.5 L62.5 26.4 L62.1 27.2 L61.5 28.3 L61.0 29.4 L60.6 30.2 L60.0 31.7 L59.7 32.4 L59.2 33.7 L58.8 34.7 L58.4 35.9 L58.1 37.0 L57.7 38.5 L57.5 39.2 L57.1 40.7 L56.9 41.5 L56.6 43.0 L56.3 44.5 L56.1 45.6 L56.0 46.8 L55.9 48.3 L56.0 49.8 L56.1 50.6 L56.4 52.1 L56.7 53.6 L56.9 54.6 L57.2 55.8 L57.6 57.3 L57.8 58.1 L58.3 59.6 L58.5 60.4 L59.0 61.9 L59.3 62.6 L59.9 64.1 L60.2 64.9 L60.7 66.2 L61.2 67.2 L61.6 67.9 L62.3 69.3 L62.8 70.2 L63.2 70.9 L63.8 71.8 L64.6 73.0 L65.3 73.9 L65.9 74.7"/><path d="M91.5 5.4 L90.7 5.1 L89.2 4.7 L88.3 4.5 L86.9 4.3 L85.3 4.2 L83.8 4.2 L82.3 4.1 L80.7 4.2 L79.2 4.2 L77.7 4.3 L76.4 4.5 L75.4 4.7 L73.8 5.2 L73.0 5.4 L71.6 6.0 L70.7 6.5 L70.0 6.9 L69.1 7.5 L68.1 8.3 L67.2 9.1 L66.4 9.8 L65.6 10.6 L65.0 11.3 L64.3 12.1 L63.7 12.8 L63.1 13.8 L62.3 14.9 L61.7 15.8 L61.2 16.6 L60.7 17.4 L60.0 18.9 L59.6 19.6 L59.2 20.4 L58.5 21.9 L58.2 22.6 L57.7 23.9 L57.3 24.9 L56.9 25.9 L56.5 27.2 L56.1 28.1 L55.7 29.4 L55.4 30.5 L55.0 31.7 L54.6 33.2 L54.4 34.0 L54.0 35.5 L53.8 36.2 L53.5 37.7 L53.1 39.2 L53.0 40.0 L52.7 41.5 L52.5 43.0 L52.3 44.3 L52.2 45.3 L52.0 46.8 L51.9 48.3 L52.0 49.8 L52.2 51.3 L52.3 52.1 L52.6 53.6 L52.8 55.1 L53.1 56.4 L53.3 57.3 L53.6 58.9 L53.8 59.9 L54.1 61.1 L54.5 62.6 L54.7 63.4 L55.2 64.9 L55.4 65.6 L55.9 67.2 L56.1 68.0 L56.6 69.4 L56.9 70.2 L57.5 71.7 L57.8 72.4 L58.4 73.9 L58.8 74.7"/><path d="M64.3 0.0 L63.6 0.8 L63.0 1.5 L62.3 2.5 L61.5 3.5 L60.9 4.5 L60.4 5.3 L59.9 6.0 L59.2 7.3 L58.7 8.3 L58.3 9.1 L57.7 10.3 L57.2 11.3 L56.8 12.1 L56.2 13.6 L55.9 14.3 L55.4 15.6 L55.0 16.6 L54.6 17.6 L54.1 18.9 L53.8 19.8 L53.4 21.1 L53.1 22.2 L52.7 23.4 L52.3 24.8 L52.0 25.7 L51.6 27.2 L51.4 27.9 L51.1 29.4 L50.7 30.7 L50.5 31.7 L50.2 33.2 L50.0 34.3 L49.7 35.5 L49.5 37.0 L49.2 38.4 L49.1 39.2 L48.8 40.7 L48.6 42.3 L48.4 43.7 L48.3 44.5 L48.2 46.0 L48.1 47.5 L48.1 49.0 L48.2 50.6 L48.4 52.1 L48.5 52.8 L48.7 54.3 L48.9 55.8 L49.2 57.3 L49.3 58.1 L49.6 59.6 L49.8 61.1 L50.0 61.9 L50.3 63.4 L50.6 64.9 L50.8 65.6 L51.2 67.2 L51.5 68.5 L51.8 69.4 L52.2 70.9 L52.4 71.7 L52.8 73.2 L53.1 73.9"/><path d="M55.8 0.0 L55.4 1.0 L54.8 2.3 L54.5 3.0 L53.8 4.5 L53.6 5.3 L53.1 6.6 L52.7 7.5 L52.3 8.7 L51.9 9.8 L51.5 11.0 L51.2 12.1 L50.7 13.4 L50.5 14.3 L50.0 15.8 L49.8 16.6 L49.4 18.1 L49.2 18.9 L48.8 20.4 L48.4 21.8 L48.2 22.6 L47.9 24.1 L47.7 25.1 L47.4 26.4 L47.1 27.9 L46.9 28.8 L46.6 30.2 L46.3 31.7 L46.1 32.9 L45.9 34.0 L45.7 35.5 L45.5 37.0 L45.4 37.7 L45.1 39.2 L45.0 40.7 L44.8 42.3 L44.6 43.8 L44.5 44.5 L44.4 46.0 L44.3 47.5 L44.4 49.0 L44.5 50.6 L44.6 52.1 L44.7 52.8 L44.8 54.3 L45.0 55.8 L45.2 57.3 L45.4 58.4 L45.5 59.6 L45.8 61.1 L46.0 62.6 L46.2 63.4 L46.4 64.9 L46.7 66.4 L46.9 67.3 L47.2 68.7 L47.5 70.2 L47.7 71.0 L48.0 72.4 L48.4 73.9 L48.6 74.7"/><path d="M49.7 0.0 L49.2 1.5 L49.0 2.3 L48.5 3.8 L48.3 4.5 L47.9 6.0 L47.6 6.8 L47.2 8.3 L46.9 9.5 L46.6 10.6 L46.3 12.1 L46.1 12.8 L45.7 14.3 L45.4 15.8 L45.2 16.6 L44.9 18.1 L44.6 19.3 L44.4 20.4 L44.1 21.9 L43.8 23.1 L43.6 24.1 L43.4 25.7 L43.1 27.2 L43.0 27.9 L42.7 29.4 L42.5 30.9 L42.3 32.1 L42.1 33.2 L41.9 34.7 L41.7 36.2 L41.5 37.7 L41.4 38.5 L41.3 40.0 L41.1 41.5 L41.0 43.0 L40.8 44.5 L40.8 45.7 L40.7 46.8 L40.6 48.3 L40.7 49.8 L40.8 50.6 L40.9 52.1 L41.0 53.6 L41.2 55.1 L41.3 56.6 L41.5 58.1 L41.6 58.9 L41.8 60.4 L42.0 61.9 L42.2 63.4 L42.3 64.1 L42.6 65.6 L42.8 67.2 L43.1 68.7 L43.2 69.4 L43.5 70.9 L43.7 72.4 L43.9 73.2 L44.2 74.7"/><path d="M44.6 0.0 L44.2 1.5 L43.8 2.9 L43.6 3.8 L43.3 5.3 L43.1 6.1 L42.7 7.5 L42.4 9.1 L42.3 9.8 L41.9 11.3 L41.6 12.8 L41.5 13.6 L41.2 15.1 L40.9 16.6 L40.8 17.4 L40.5 18.9 L40.2 20.4 L40.0 21.8 L39.8 22.6 L39.6 24.1 L39.4 25.7 L39.2 26.7 L39.0 27.9 L38.8 29.4 L38.6 30.9 L38.4 32.2 L38.3 33.2 L38.1 34.7 L38.0 36.2 L37.8 37.7 L37.7 38.9 L37.6 40.0 L37.4 41.5 L37.3 43.0 L37.2 44.5 L37.1 46.0 L37.0 47.5 L37.1 49.0 L37.1 50.6 L37.2 52.1 L37.4 53.6 L37.5 55.1 L37.6 56.6 L37.7 57.3 L37.9 58.9 L38.0 60.4 L38.2 61.9 L38.4 63.4 L38.5 64.1 L38.7 65.6 L38.9 67.2 L39.1 68.7 L39.2 69.4 L39.4 70.9 L39.7 72.4 L39.9 73.9 L40.1 74.7"/><path d="M39.9 0.0 L39.6 1.5 L39.3 3.0 L39.1 3.8 L38.8 5.3 L38.5 6.8 L38.4 7.5 L38.1 9.1 L37.9 10.6 L37.7 11.6 L37.5 12.8 L37.2 14.3 L37.0 15.8 L36.8 16.6 L36.6 18.1 L36.4 19.6 L36.1 21.1 L36.0 21.9 L35.8 23.4 L35.6 24.9 L35.4 26.4 L35.3 27.2 L35.1 28.7 L35.0 30.2 L34.8 31.7 L34.6 33.2 L34.5 34.0 L34.4 35.5 L34.2 37.0 L34.1 38.5 L34.0 40.0 L33.8 41.5 L33.8 42.3 L33.7 43.8 L33.6 45.3 L33.5 46.8 L33.5 48.3 L33.5 49.8 L33.6 51.3 L33.7 52.8 L33.8 54.3 L33.9 55.1 L34.0 56.6 L34.1 58.1 L34.3 59.6 L34.4 61.1 L34.6 62.6 L34.7 63.4 L34.8 64.9 L35.0 66.4 L35.2 67.9 L35.4 69.2 L35.5 70.2 L35.7 71.7 L35.9 73.2 L36.1 74.7"/><path d="M35.6 0.0 L35.4 1.1 L35.2 2.3 L34.9 3.8 L34.7 5.3 L34.5 6.0 L34.3 7.5 L34.1 9.1 L33.8 10.5 L33.7 11.3 L33.5 12.8 L33.3 14.3 L33.1 15.7 L32.9 16.6 L32.7 18.1 L32.5 19.6 L32.3 21.1 L32.2 21.9 L32.1 23.4 L31.9 24.9 L31.7 26.4 L31.5 27.9 L31.5 28.7 L31.3 30.2 L31.1 31.7 L31.0 33.2 L30.9 34.7 L30.8 35.8 L30.7 37.0 L30.5 38.5 L30.4 40.0 L30.3 41.5 L30.2 43.0 L30.1 44.5 L30.1 46.0 L30.0 47.5 L30.0 49.0 L30.1 50.6 L30.2 52.1 L30.2 53.6 L30.3 55.1 L30.5 56.6 L30.6 58.1 L30.7 59.6 L30.8 60.4 L30.9 61.9 L31.0 63.4 L31.2 64.9 L31.3 66.4 L31.5 67.9 L31.6 68.7 L31.8 70.2 L31.9 71.7 L32.1 73.2 L32.3 74.6"/><path d="M31.5 0.0 L31.2 1.5 L31.0 3.0 L30.8 4.5 L30.7 5.3 L30.5 6.8 L30.3 8.3 L30.0 9.8 L29.9 10.6 L29.7 12.1 L29.6 13.6 L29.4 15.1 L29.2 16.2 L29.1 17.4 L28.9 18.9 L28.7 20.4 L28.6 21.9 L28.4 22.9 L28.3 24.1 L28.2 25.7 L28.0 27.2 L27.9 28.7 L27.7 30.2 L27.6 30.9 L27.5 32.4 L27.4 34.0 L27.3 35.5 L27.1 37.0 L27.0 38.5 L26.9 40.0 L26.9 40.7 L26.8 42.3 L26.7 43.8 L26.6 45.3 L26.6 46.8 L26.6 48.3 L26.6 49.8 L26.7 51.3 L26.7 52.8 L26.8 54.3 L26.9 55.8 L27.0 56.6 L27.1 58.1 L27.2 59.6 L27.3 61.1 L27.4 62.6 L27.6 64.1 L27.7 65.5 L27.8 66.4 L27.9 67.9 L28.1 69.4 L28.2 70.9 L28.4 72.4 L28.5 73.2 L28.6 74.7"/><path d="M27.6 0.0 L27.3 1.5 L27.1 3.0 L27.0 4.5 L26.9 5.3 L26.7 6.8 L26.5 8.3 L26.3 9.8 L26.1 11.0 L26.0 12.1 L25.8 13.6 L25.7 15.1 L25.5 16.6 L25.4 17.9 L25.3 18.9 L25.1 20.4 L25.0 21.9 L24.8 23.4 L24.7 24.9 L24.6 25.7 L24.5 27.2 L24.3 28.7 L24.2 30.2 L24.1 31.7 L24.0 33.2 L23.8 34.7 L23.8 35.5 L23.7 37.0 L23.6 38.5 L23.5 40.0 L23.4 41.5 L23.3 43.0 L23.3 44.5 L23.2 46.0 L23.2 47.5 L23.2 49.0 L23.2 50.6 L23.3 52.1 L23.4 53.6 L23.4 55.1 L23.5 56.6 L23.6 58.1 L23.7 59.6 L23.8 61.1 L23.9 61.9 L24.0 63.4 L24.1 64.9 L24.2 66.4 L24.4 67.9 L24.5 69.4 L24.6 70.5 L24.7 71.7 L24.9 73.2 L25.0 74.7"/><path d="M23.8 0.0 L23.6 1.5 L23.4 3.0 L23.2 4.5 L23.1 5.9 L23.0 6.8 L22.8 8.3 L22.6 9.8 L22.5 11.3 L22.3 12.8 L22.2 13.6 L22.1 15.1 L21.9 16.6 L21.8 18.1 L21.6 19.6 L21.5 20.9 L21.4 21.9 L21.3 23.4 L21.2 24.9 L21.0 26.4 L20.9 27.9 L20.8 29.4 L20.7 30.2 L20.6 31.7 L20.5 33.2 L20.4 34.7 L20.3 36.2 L20.2 37.7 L20.1 39.2 L20.1 40.7 L20.0 42.3 L20.0 43.0 L19.9 44.5 L19.8 46.0 L19.8 47.5 L19.8 49.0 L19.9 50.6 L19.9 52.1 L20.0 53.6 L20.0 54.3 L20.1 55.8 L20.2 57.3 L20.3 58.9 L20.4 60.4 L20.5 61.9 L20.6 63.4 L20.7 64.9 L20.8 66.0 L20.8 67.2 L21.0 68.7 L21.1 70.2 L21.2 71.7 L21.3 73.2 L21.5 74.7"/><path d="M20.1 0.0 L20.0 0.9 L19.8 2.3 L19.7 3.8 L19.5 5.3 L19.4 6.8 L19.2 8.2 L19.1 9.1 L19.0 10.6 L18.8 12.1 L18.7 13.6 L18.6 15.1 L18.5 16.3 L18.4 17.4 L18.2 18.9 L18.1 20.4 L18.0 21.9 L17.9 23.4 L17.7 24.9 L17.7 25.7 L17.6 27.2 L17.5 28.7 L17.4 30.2 L17.2 31.7 L17.1 33.2 L17.1 34.7 L17.0 36.2 L16.9 37.1 L16.8 38.5 L16.8 40.0 L16.7 41.5 L16.6 43.0 L16.6 44.5 L16.5 46.0 L16.5 47.5 L16.5 49.0 L16.5 50.6 L16.6 52.1 L16.6 53.6 L16.7 55.1 L16.8 56.6 L16.9 58.1 L16.9 59.0 L17.0 60.4 L17.1 61.9 L17.2 63.4 L17.3 64.9 L17.4 66.4 L17.5 67.9 L17.6 69.4 L17.7 70.5 L17.8 71.7 L17.9 73.2 L18.0 74.7"/><path d="M16.5 0.0 L16.3 1.5 L16.2 3.0 L16.1 3.8 L16.0 5.3 L15.8 6.8 L15.7 8.3 L15.6 9.8 L15.4 11.3 L15.4 12.1 L15.2 13.6 L15.1 15.1 L15.0 16.6 L14.9 18.1 L14.7 19.6 L14.6 21.1 L14.6 21.9 L14.5 23.4 L14.4 24.9 L14.2 26.4 L14.1 27.9 L14.0 29.4 L13.9 30.9 L13.9 32.4 L13.8 33.2 L13.7 34.7 L13.6 36.2 L13.6 37.7 L13.5 39.2 L13.4 40.7 L13.4 42.3 L13.3 43.8 L13.3 45.3 L13.2 46.8 L13.2 48.3 L13.2 49.8 L13.3 51.3 L13.3 52.8 L13.4 54.3 L13.4 55.8 L13.5 57.3 L13.6 58.9 L13.7 60.4 L13.8 61.9 L13.8 63.3 L13.9 64.1 L14.0 65.6 L14.1 67.2 L14.2 68.7 L14.3 70.2 L14.4 71.7 L14.5 73.2 L14.6 74.7"/><path d="M13.0 0.0 L12.8 1.5 L12.7 3.0 L12.6 4.5 L12.4 6.0 L12.3 7.5 L12.3 8.3 L12.1 9.8 L12.0 11.3 L11.9 12.8 L11.8 14.3 L11.7 15.8 L11.5 17.4 L11.5 18.1 L11.4 19.6 L11.3 21.1 L11.2 22.6 L11.1 24.1 L11.0 25.7 L10.9 27.2 L10.8 28.7 L10.7 29.4 L10.6 30.9 L10.6 32.4 L10.5 34.0 L10.4 35.5 L10.3 37.0 L10.3 38.5 L10.2 40.0 L10.1 41.5 L10.1 43.0 L10.0 44.5 L10.0 45.5 L10.0 46.8 L9.9 48.3 L10.0 49.8 L10.0 50.6 L10.0 52.1 L10.1 53.6 L10.1 55.1 L10.2 56.6 L10.3 58.1 L10.3 59.6 L10.4 61.1 L10.5 62.6 L10.6 64.1 L10.7 65.6 L10.8 67.2 L10.8 67.9 L10.9 69.4 L11.0 70.9 L11.1 72.4 L11.2 73.9"/><path d="M9.5 0.0 L9.4 1.5 L9.3 3.0 L9.2 3.8 L9.1 5.3 L9.0 6.8 L8.9 8.3 L8.8 9.8 L8.6 11.3 L8.5 12.8 L8.5 13.8 L8.4 15.1 L8.3 16.6 L8.2 18.1 L8.1 19.6 L8.0 21.1 L7.9 22.6 L7.8 24.1 L7.7 25.4 L7.6 26.4 L7.5 27.9 L7.5 29.4 L7.4 30.9 L7.3 32.4 L7.2 34.0 L7.1 35.5 L7.1 37.0 L7.0 38.5 L7.0 40.0 L6.9 40.8 L6.9 42.3 L6.8 43.8 L6.8 45.3 L6.7 46.8 L6.7 48.3 L6.8 49.8 L6.8 51.3 L6.8 52.8 L6.9 54.3 L6.9 55.2 L7.0 56.6 L7.0 58.1 L7.1 59.6 L7.2 61.1 L7.2 62.6 L7.3 64.1 L7.4 65.6 L7.5 67.2 L7.6 68.7 L7.7 70.2 L7.7 70.9 L7.8 72.4 L7.9 73.9"/><path d="M6.1 0.0 L6.0 1.5 L5.9 3.0 L5.8 4.5 L5.7 6.0 L5.6 7.5 L5.5 9.1 L5.4 10.3 L5.3 11.3 L5.2 12.8 L5.1 14.3 L5.0 15.8 L4.9 17.4 L4.8 18.9 L4.7 20.4 L4.6 21.9 L4.6 22.6 L4.5 24.1 L4.4 25.7 L4.3 27.2 L4.3 28.7 L4.2 30.2 L4.1 31.7 L4.0 33.2 L4.0 34.7 L3.9 36.2 L3.8 37.5 L3.8 38.5 L3.7 40.0 L3.7 41.5 L3.6 43.0 L3.6 44.5 L3.6 46.0 L3.5 47.5 L3.6 49.0 L3.6 50.6 L3.6 52.1 L3.7 53.6 L3.7 55.1 L3.8 56.6 L3.8 58.1 L3.9 58.9 L3.9 60.4 L4.0 61.9 L4.1 63.4 L4.1 64.9 L4.2 66.4 L4.3 67.9 L4.4 69.4 L4.4 70.9 L4.5 72.4 L4.6 73.8 L4.7 74.7"/><path d="M2.8 0.0 L2.7 1.5 L2.6 3.0 L2.5 4.5 L2.4 6.0 L2.3 7.2 L2.2 8.3 L2.1 9.8 L2.0 11.3 L1.9 12.8 L1.8 14.3 L1.8 15.8 L1.7 17.4 L1.6 18.9 L1.5 19.6 L1.4 21.1 L1.4 22.6 L1.3 24.1 L1.2 25.7 L1.1 27.2 L1.0 28.7 L1.0 30.2 L0.9 31.7 L0.8 33.2 L0.8 34.7 L0.7 35.5 L0.7 37.0 L0.6 38.5 L0.6 40.0 L0.5 41.5 L0.5 43.0 L0.4 44.5 L0.4 46.0 L0.4 47.5 L0.4 49.0 L0.4 50.6 L0.5 52.1 L0.5 53.6 L0.5 55.1 L0.6 56.6 L0.6 58.1 L0.7 59.6 L0.8 61.1 L0.8 61.9 L0.9 63.4 L0.9 64.9 L1.0 66.4 L1.1 67.9 L1.1 69.4 L1.2 70.9 L1.3 72.4 L1.4 73.9"/></g></svg></div><div style="position:absolute;left:384.70px;top:236.00px;width:92.10px;height:75.30px;border:0.5px solid rgba(60,60,60,0.5);box-sizing:border-box"></div>
<svg width="500" height="333" style="position:absolute;left:0;top:0"><path d="M 465 283.3 L 469.8 284.2 L 467 285.6 Z" fill="#111" stroke="#333" stroke-width="0.8"/></svg>
<svg width="500" height="333" style="position:absolute;left:0;top:0"><g stroke="#444" stroke-width="0.6"><line x1="383.80" y1="311.00" x2="385.00" y2="311.00"/><line x1="383.00" y1="303.53" x2="385.00" y2="303.53"/><line x1="383.80" y1="296.06" x2="385.00" y2="296.06"/><line x1="383.00" y1="288.59" x2="385.00" y2="288.59"/><line x1="383.80" y1="281.12" x2="385.00" y2="281.12"/><line x1="383.00" y1="273.65" x2="385.00" y2="273.65"/><line x1="383.80" y1="266.18" x2="385.00" y2="266.18"/><line x1="383.00" y1="258.71" x2="385.00" y2="258.71"/><line x1="383.80" y1="251.24" x2="385.00" y2="251.24"/><line x1="383.00" y1="243.77" x2="385.00" y2="243.77"/><line x1="383.80" y1="236.30" x2="385.00" y2="236.30"/><line x1="385.00" y1="311.00" x2="385.00" y2="313.00"/><line x1="394.15" y1="311.00" x2="394.15" y2="312.20"/><line x1="403.30" y1="311.00" x2="403.30" y2="313.00"/><line x1="412.45" y1="311.00" x2="412.45" y2="312.20"/><line x1="421.60" y1="311.00" x2="421.60" y2="313.00"/><line x1="430.75" y1="311.00" x2="430.75" y2="312.20"/><line x1="439.90" y1="311.00" x2="439.90" y2="313.00"/><line x1="449.05" y1="311.00" x2="449.05" y2="312.20"/><line x1="458.20" y1="311.00" x2="458.20" y2="313.00"/><line x1="467.35" y1="311.00" x2="467.35" y2="312.20"/><line x1="476.50" y1="311.00" x2="476.50" y2="313.00"/></g></svg>
<div class="t s" style="left:380.40px;top:299.23px;font-size:7.3px;color:#2a2a2a;width:0"><span style="position:absolute;right:0">0.2</span></div>
<div class="t s" style="left:380.40px;top:284.29px;font-size:7.3px;color:#2a2a2a;width:0"><span style="position:absolute;right:0">0.4</span></div>
<div class="t s" style="left:380.40px;top:269.35px;font-size:7.3px;color:#2a2a2a;width:0"><span style="position:absolute;right:0">0.6</span></div>
<div class="t s" style="left:380.40px;top:254.41px;font-size:7.3px;color:#2a2a2a;width:0"><span style="position:absolute;right:0">0.8</span></div>
<div class="t s" style="left:380.40px;top:239.47px;font-size:7.3px;color:#2a2a2a;width:0"><span style="position:absolute;right:0">1.0</span></div>
<div class="t s" style="left:385.00px;top:314.9px;font-size:7.3px;color:#2a2a2a;width:0"><span style="position:absolute;left:0;transform:translateX(-50%)">0.0</span></div>
<div class="t s" style="left:403.30px;top:314.9px;font-size:7.3px;color:#2a2a2a;width:0"><span style="position:absolute;left:0;transform:translateX(-50%)">0.2</span></div>
<div class="t s" style="left:421.60px;top:314.9px;font-size:7.3px;color:#2a2a2a;width:0"><span style="position:absolute;left:0;transform:translateX(-50%)">0.4</span></div>
<div class="t s" style="left:439.90px;top:314.9px;font-size:7.3px;color:#2a2a2a;width:0"><span style="position:absolute;left:0;transform:translateX(-50%)">0.6</span></div>
<div class="t s" style="left:458.20px;top:314.9px;font-size:7.3px;color:#2a2a2a;width:0"><span style="position:absolute;left:0;transform:translateX(-50%)">0.8</span></div>
<div class="t s" style="left:476.50px;top:314.9px;font-size:7.3px;color:#2a2a2a;width:0"><span style="position:absolute;left:0;transform:translateX(-50%)">1.0</span></div>
<div class="t s" style="left:430.8px;top:224.8px;width:0;font-size:7.9px;color:#333"><span style="position:absolute;left:0;transform:translateX(-50%)">disordered (4403.4 &Aring;)</span></div>
<div class="t s" style="left:347.7px;top:224.0px;font-size:10.0px;color:#000;font-weight:bold;-webkit-text-stroke:0.35px #000">k</div>
<div class="t r" style="left:428.2px;top:322.6px;font-size:8.8px;color:#333;font-style:italic">&eta;</div>
<div class="t s" style="left:361.5px;top:273.7px;width:0;height:0;font-size:8px;color:#2a2a2a"><span style="position:absolute;left:0;top:0;display:inline-block;transform:translate(-50%,-50%) rotate(-90deg);white-space:nowrap"><i>B</i><sub style="font-size:5px">iso</sub> (&Aring;<sup style="font-size:5px">2</sup>)</span></div>
<div style="position:absolute;left:490.3px;top:255.2px;width:3.4px;height:48.8px;background:linear-gradient(to bottom,#f0f921,#fca636 20%,#e16462 40%,#b12a90 60%,#6a00a8 80%,#0d0887)"></div>
<div class="t s" style="left:487.3px;top:234.2px;font-size:8.8px;color:#333;"><i>R</i><sub style="font-size:5px;vertical-align:-1.2px"><i>w</i></sub></div>
<div class="t s" style="left:492.00px;top:246.7px;font-size:7.3px;color:#2a2a2a;width:0"><span style="position:absolute;left:0;transform:translateX(-50%)">0.403</span></div>
<div class="t s" style="left:492.00px;top:304.9px;font-size:7.3px;color:#2a2a2a;width:0"><span style="position:absolute;left:0;transform:translateX(-50%)">0.182</span></div>
</body></html>
